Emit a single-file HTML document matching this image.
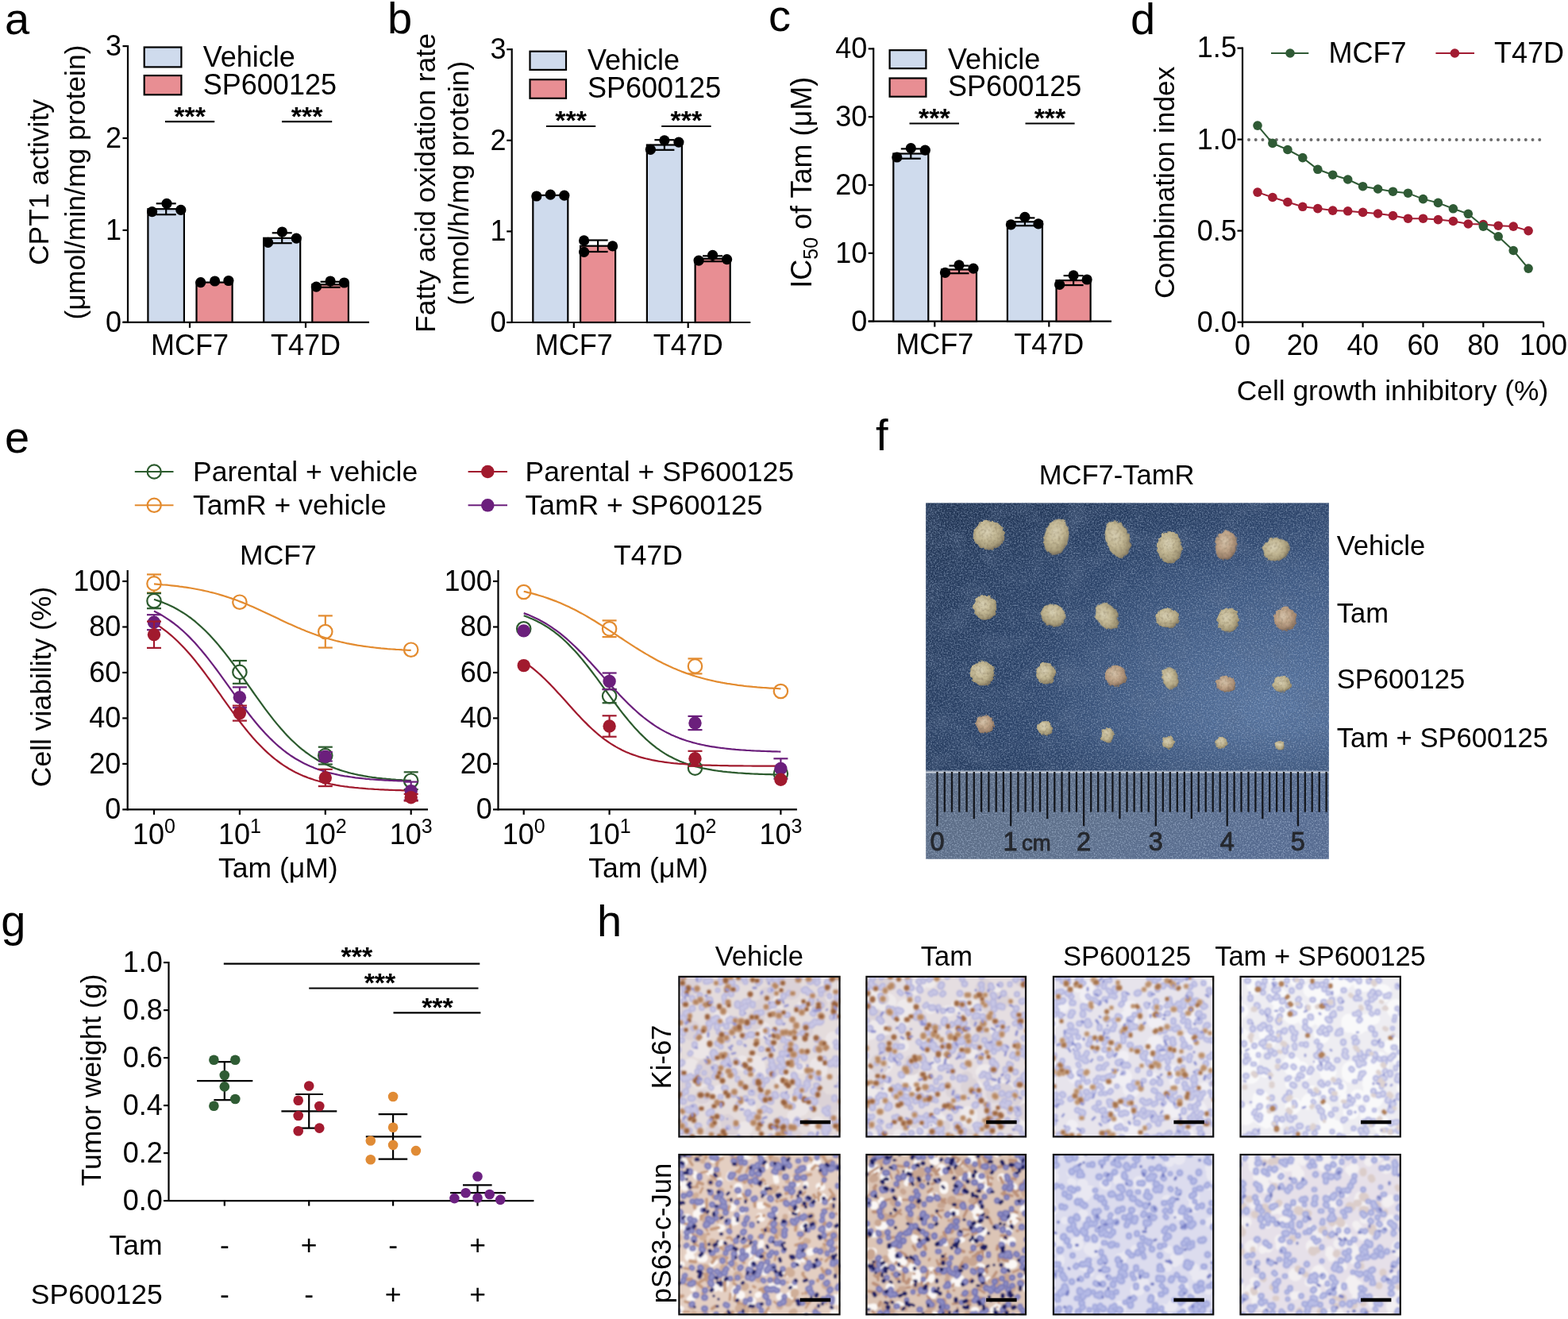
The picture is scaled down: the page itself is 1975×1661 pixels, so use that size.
<!DOCTYPE html>
<html><head><meta charset="utf-8"><title>Figure</title>
<style>html,body{margin:0;padding:0;background:#fff;} svg{display:block;} text{font-family:"Liberation Sans", Arial, Helvetica, sans-serif;}</style>
</head><body>
<svg width="1975" height="1661" viewBox="0 0 1975 1661" font-family='"Liberation Sans", Arial, Helvetica, sans-serif'>
<rect width="1975" height="1661" fill="#fff"/>
<text x="6" y="42.8" font-size="56" text-anchor="start" fill="#000">a</text>
<line x1="161" y1="57" x2="161" y2="406.8" stroke="#000" stroke-width="2.2"/>
<line x1="154.5" y1="405.8" x2="161" y2="405.8" stroke="#000" stroke-width="2.2"/>
<text x="153" y="417.7" font-size="36" text-anchor="end" fill="#000">0</text>
<line x1="154.5" y1="289.9" x2="161" y2="289.9" stroke="#000" stroke-width="2.2"/>
<text x="153" y="301.8" font-size="36" text-anchor="end" fill="#000">1</text>
<line x1="154.5" y1="174" x2="161" y2="174" stroke="#000" stroke-width="2.2"/>
<text x="153" y="185.9" font-size="36" text-anchor="end" fill="#000">2</text>
<line x1="154.5" y1="58.1" x2="161" y2="58.1" stroke="#000" stroke-width="2.2"/>
<text x="153" y="70" font-size="36" text-anchor="end" fill="#000">3</text>
<line x1="154.5" y1="405.8" x2="465" y2="405.8" stroke="#000" stroke-width="2.2"/>
<line x1="239" y1="405.8" x2="239" y2="412.8" stroke="#000" stroke-width="2.2"/>
<text x="239" y="446.5" font-size="36" text-anchor="middle" fill="#000">MCF7</text>
<line x1="385" y1="405.8" x2="385" y2="412.8" stroke="#000" stroke-width="2.2"/>
<text x="385" y="446.5" font-size="36" text-anchor="middle" fill="#000">T47D</text>
<rect x="186.4" y="263.2" width="45.5" height="142.6" fill="#cfdbed" stroke="#000" stroke-width="2.2"/>
<line x1="209.2" y1="256.3" x2="209.2" y2="270.2" stroke="#000" stroke-width="2.2"/>
<line x1="196.7" y1="256.3" x2="221.7" y2="256.3" stroke="#000" stroke-width="2.2"/>
<line x1="196.7" y1="270.2" x2="221.7" y2="270.2" stroke="#000" stroke-width="2.2"/>
<circle cx="191.6" cy="266.7" r="6.6" fill="#000" stroke="none" stroke-width="0"/>
<circle cx="210" cy="256.3" r="6.6" fill="#000" stroke="none" stroke-width="0"/>
<circle cx="227.8" cy="264.4" r="6.6" fill="#000" stroke="none" stroke-width="0"/>
<rect x="247.5" y="355.6" width="45.1" height="50.2" fill="#e88e93" stroke="#000" stroke-width="2.2"/>
<circle cx="252.7" cy="355.6" r="6.6" fill="#000" stroke="none" stroke-width="0"/>
<circle cx="270.6" cy="354" r="6.6" fill="#000" stroke="none" stroke-width="0"/>
<circle cx="287.9" cy="353.5" r="6.6" fill="#000" stroke="none" stroke-width="0"/>
<rect x="332.2" y="299.8" width="46" height="106" fill="#cfdbed" stroke="#000" stroke-width="2.2"/>
<line x1="355.2" y1="293.3" x2="355.2" y2="306.2" stroke="#000" stroke-width="2.2"/>
<line x1="342.7" y1="293.3" x2="367.7" y2="293.3" stroke="#000" stroke-width="2.2"/>
<line x1="342.7" y1="306.2" x2="367.7" y2="306.2" stroke="#000" stroke-width="2.2"/>
<circle cx="337.6" cy="305.3" r="6.6" fill="#000" stroke="none" stroke-width="0"/>
<circle cx="355.4" cy="292" r="6.6" fill="#000" stroke="none" stroke-width="0"/>
<circle cx="373.3" cy="300.1" r="6.6" fill="#000" stroke="none" stroke-width="0"/>
<rect x="393.3" y="358.3" width="45.6" height="47.5" fill="#e88e93" stroke="#000" stroke-width="2.2"/>
<line x1="416.1" y1="354.8" x2="416.1" y2="361.8" stroke="#000" stroke-width="2.2"/>
<line x1="403.6" y1="354.8" x2="428.6" y2="354.8" stroke="#000" stroke-width="2.2"/>
<line x1="403.6" y1="361.8" x2="428.6" y2="361.8" stroke="#000" stroke-width="2.2"/>
<circle cx="398.4" cy="361.2" r="6.6" fill="#000" stroke="none" stroke-width="0"/>
<circle cx="416.1" cy="354" r="6.6" fill="#000" stroke="none" stroke-width="0"/>
<circle cx="433.5" cy="356" r="6.6" fill="#000" stroke="none" stroke-width="0"/>
<rect x="181.7" y="59.5" width="46.7" height="24.9" fill="#cfdbed" stroke="#000" stroke-width="2.2"/>
<rect x="181.7" y="95.1" width="46.7" height="24.2" fill="#e88e93" stroke="#000" stroke-width="2.2"/>
<text x="255.8" y="83.8" font-size="36" text-anchor="start" fill="#000">Vehicle</text>
<text x="255.8" y="118.5" font-size="36" text-anchor="start" fill="#000">SP600125</text>
<line x1="208" y1="153.2" x2="270.2" y2="153.2" stroke="#000" stroke-width="2.2"/>
<text x="239.1" y="157.6" font-size="34" text-anchor="middle" fill="#000" font-weight="bold">***</text>
<line x1="355" y1="153.2" x2="418.2" y2="153.2" stroke="#000" stroke-width="2.2"/>
<text x="386.6" y="157.6" font-size="34" text-anchor="middle" fill="#000" font-weight="bold">***</text>
<text transform="translate(60.7,229.5) rotate(-90)" font-size="35.5" text-anchor="middle">CPT1 activity</text>
<text transform="translate(107.2,229.5) rotate(-90)" font-size="35.5" text-anchor="middle">(μmol/min/mg protein)</text>
<text x="488" y="41.9" font-size="56" text-anchor="start" fill="#000">b</text>
<line x1="644.7" y1="61.1" x2="644.7" y2="407" stroke="#000" stroke-width="2.2"/>
<line x1="638.2" y1="406" x2="644.7" y2="406" stroke="#000" stroke-width="2.2"/>
<text x="637.5" y="417.9" font-size="36" text-anchor="end" fill="#000">0</text>
<line x1="638.2" y1="291.4" x2="644.7" y2="291.4" stroke="#000" stroke-width="2.2"/>
<text x="637.5" y="303.3" font-size="36" text-anchor="end" fill="#000">1</text>
<line x1="638.2" y1="176.8" x2="644.7" y2="176.8" stroke="#000" stroke-width="2.2"/>
<text x="637.5" y="188.7" font-size="36" text-anchor="end" fill="#000">2</text>
<line x1="638.2" y1="62.2" x2="644.7" y2="62.2" stroke="#000" stroke-width="2.2"/>
<text x="637.5" y="74.1" font-size="36" text-anchor="end" fill="#000">3</text>
<line x1="638.2" y1="406" x2="945.3" y2="406" stroke="#000" stroke-width="2.2"/>
<line x1="722.8" y1="406" x2="722.8" y2="413" stroke="#000" stroke-width="2.2"/>
<text x="722.8" y="446.5" font-size="36" text-anchor="middle" fill="#000">MCF7</text>
<line x1="866.7" y1="406" x2="866.7" y2="413" stroke="#000" stroke-width="2.2"/>
<text x="866.7" y="446.5" font-size="36" text-anchor="middle" fill="#000">T47D</text>
<rect x="671.3" y="245.9" width="44" height="160.1" fill="#cfdbed" stroke="#000" stroke-width="2.2"/>
<circle cx="675.8" cy="247" r="6.6" fill="#000" stroke="none" stroke-width="0"/>
<circle cx="693.3" cy="245.1" r="6.6" fill="#000" stroke="none" stroke-width="0"/>
<circle cx="710.8" cy="246.2" r="6.6" fill="#000" stroke="none" stroke-width="0"/>
<rect x="731.1" y="309.7" width="44" height="96.3" fill="#e88e93" stroke="#000" stroke-width="2.2"/>
<line x1="753.1" y1="302.5" x2="753.1" y2="317" stroke="#000" stroke-width="2.2"/>
<line x1="740.6" y1="302.5" x2="765.6" y2="302.5" stroke="#000" stroke-width="2.2"/>
<line x1="740.6" y1="317" x2="765.6" y2="317" stroke="#000" stroke-width="2.2"/>
<circle cx="735.6" cy="302.9" r="6.6" fill="#000" stroke="none" stroke-width="0"/>
<circle cx="735.6" cy="317.3" r="6.6" fill="#000" stroke="none" stroke-width="0"/>
<circle cx="771.6" cy="309.9" r="6.6" fill="#000" stroke="none" stroke-width="0"/>
<rect x="814.9" y="182.5" width="44" height="223.5" fill="#cfdbed" stroke="#000" stroke-width="2.2"/>
<line x1="836.9" y1="176.2" x2="836.9" y2="188.8" stroke="#000" stroke-width="2.2"/>
<line x1="824.4" y1="176.2" x2="849.4" y2="176.2" stroke="#000" stroke-width="2.2"/>
<line x1="824.4" y1="188.8" x2="849.4" y2="188.8" stroke="#000" stroke-width="2.2"/>
<circle cx="819.4" cy="188.3" r="6.6" fill="#000" stroke="none" stroke-width="0"/>
<circle cx="836.9" cy="176.8" r="6.6" fill="#000" stroke="none" stroke-width="0"/>
<circle cx="854.9" cy="179.1" r="6.6" fill="#000" stroke="none" stroke-width="0"/>
<rect x="875.6" y="325.8" width="44.1" height="80.2" fill="#e88e93" stroke="#000" stroke-width="2.2"/>
<line x1="897.6" y1="322.3" x2="897.6" y2="329.2" stroke="#000" stroke-width="2.2"/>
<line x1="885.1" y1="322.3" x2="910.1" y2="322.3" stroke="#000" stroke-width="2.2"/>
<line x1="885.1" y1="329.2" x2="910.1" y2="329.2" stroke="#000" stroke-width="2.2"/>
<circle cx="880.1" cy="328.1" r="6.6" fill="#000" stroke="none" stroke-width="0"/>
<circle cx="897.6" cy="321.4" r="6.6" fill="#000" stroke="none" stroke-width="0"/>
<circle cx="915.6" cy="326.6" r="6.6" fill="#000" stroke="none" stroke-width="0"/>
<rect x="667.5" y="64.7" width="45.5" height="23.2" fill="#cfdbed" stroke="#000" stroke-width="2.2"/>
<rect x="667.5" y="100.2" width="45.5" height="23.6" fill="#e88e93" stroke="#000" stroke-width="2.2"/>
<text x="740" y="88" font-size="36" text-anchor="start" fill="#000">Vehicle</text>
<text x="740" y="122.8" font-size="36" text-anchor="start" fill="#000">SP600125</text>
<line x1="688" y1="159" x2="750.2" y2="159" stroke="#000" stroke-width="2.2"/>
<text x="719.1" y="163.4" font-size="34" text-anchor="middle" fill="#000" font-weight="bold">***</text>
<line x1="833.2" y1="159" x2="895.6" y2="159" stroke="#000" stroke-width="2.2"/>
<text x="864.4" y="163.4" font-size="34" text-anchor="middle" fill="#000" font-weight="bold">***</text>
<text transform="translate(547.5,230.5) rotate(-90)" font-size="35.5" text-anchor="middle">Fatty acid oxidation rate</text>
<text transform="translate(590.1,230.5) rotate(-90)" font-size="35.5" text-anchor="middle">(nmol/h/mg protein)</text>
<text x="968" y="39" font-size="56" text-anchor="start" fill="#000">c</text>
<line x1="1100.2" y1="60.3" x2="1100.2" y2="405.6" stroke="#000" stroke-width="2.2"/>
<line x1="1093.7" y1="404.6" x2="1100.2" y2="404.6" stroke="#000" stroke-width="2.2"/>
<text x="1092.2" y="416.5" font-size="36" text-anchor="end" fill="#000">0</text>
<line x1="1093.7" y1="318.8" x2="1100.2" y2="318.8" stroke="#000" stroke-width="2.2"/>
<text x="1092.2" y="330.7" font-size="36" text-anchor="end" fill="#000">10</text>
<line x1="1093.7" y1="233" x2="1100.2" y2="233" stroke="#000" stroke-width="2.2"/>
<text x="1092.2" y="244.9" font-size="36" text-anchor="end" fill="#000">20</text>
<line x1="1093.7" y1="147.2" x2="1100.2" y2="147.2" stroke="#000" stroke-width="2.2"/>
<text x="1092.2" y="159.1" font-size="36" text-anchor="end" fill="#000">30</text>
<line x1="1093.7" y1="61.4" x2="1100.2" y2="61.4" stroke="#000" stroke-width="2.2"/>
<text x="1092.2" y="73.3" font-size="36" text-anchor="end" fill="#000">40</text>
<line x1="1093.7" y1="404.6" x2="1400" y2="404.6" stroke="#000" stroke-width="2.2"/>
<line x1="1177.3" y1="404.6" x2="1177.3" y2="411.6" stroke="#000" stroke-width="2.2"/>
<text x="1177.3" y="446" font-size="36" text-anchor="middle" fill="#000">MCF7</text>
<line x1="1321.3" y1="404.6" x2="1321.3" y2="411.6" stroke="#000" stroke-width="2.2"/>
<text x="1321.3" y="446" font-size="36" text-anchor="middle" fill="#000">T47D</text>
<rect x="1125.3" y="193.5" width="44" height="211.1" fill="#cfdbed" stroke="#000" stroke-width="2.2"/>
<line x1="1147.3" y1="187.4" x2="1147.3" y2="199.7" stroke="#000" stroke-width="2.2"/>
<line x1="1134.8" y1="187.4" x2="1159.8" y2="187.4" stroke="#000" stroke-width="2.2"/>
<line x1="1134.8" y1="199.7" x2="1159.8" y2="199.7" stroke="#000" stroke-width="2.2"/>
<circle cx="1129.8" cy="198" r="6.6" fill="#000" stroke="none" stroke-width="0"/>
<circle cx="1147.3" cy="186.7" r="6.6" fill="#000" stroke="none" stroke-width="0"/>
<circle cx="1165.3" cy="189.2" r="6.6" fill="#000" stroke="none" stroke-width="0"/>
<rect x="1186" y="339.4" width="44" height="65.2" fill="#e88e93" stroke="#000" stroke-width="2.2"/>
<line x1="1208" y1="334.6" x2="1208" y2="344.2" stroke="#000" stroke-width="2.2"/>
<line x1="1195.5" y1="334.6" x2="1220.5" y2="334.6" stroke="#000" stroke-width="2.2"/>
<line x1="1195.5" y1="344.2" x2="1220.5" y2="344.2" stroke="#000" stroke-width="2.2"/>
<circle cx="1190.5" cy="343.4" r="6.6" fill="#000" stroke="none" stroke-width="0"/>
<circle cx="1208" cy="333.8" r="6.6" fill="#000" stroke="none" stroke-width="0"/>
<circle cx="1226" cy="338.2" r="6.6" fill="#000" stroke="none" stroke-width="0"/>
<rect x="1268.9" y="279.3" width="44" height="125.3" fill="#cfdbed" stroke="#000" stroke-width="2.2"/>
<line x1="1290.9" y1="274.4" x2="1290.9" y2="284.2" stroke="#000" stroke-width="2.2"/>
<line x1="1278.4" y1="274.4" x2="1303.4" y2="274.4" stroke="#000" stroke-width="2.2"/>
<line x1="1278.4" y1="284.2" x2="1303.4" y2="284.2" stroke="#000" stroke-width="2.2"/>
<circle cx="1273.4" cy="282.8" r="6.6" fill="#000" stroke="none" stroke-width="0"/>
<circle cx="1290.9" cy="273.3" r="6.6" fill="#000" stroke="none" stroke-width="0"/>
<circle cx="1307.9" cy="281.9" r="6.6" fill="#000" stroke="none" stroke-width="0"/>
<rect x="1330.5" y="353.1" width="43.1" height="51.5" fill="#e88e93" stroke="#000" stroke-width="2.2"/>
<line x1="1352.1" y1="347.1" x2="1352.1" y2="359.1" stroke="#000" stroke-width="2.2"/>
<line x1="1339.6" y1="347.1" x2="1364.6" y2="347.1" stroke="#000" stroke-width="2.2"/>
<line x1="1339.6" y1="359.1" x2="1364.6" y2="359.1" stroke="#000" stroke-width="2.2"/>
<circle cx="1334.6" cy="358.4" r="6.6" fill="#000" stroke="none" stroke-width="0"/>
<circle cx="1352.1" cy="346.8" r="6.6" fill="#000" stroke="none" stroke-width="0"/>
<circle cx="1369.1" cy="352" r="6.6" fill="#000" stroke="none" stroke-width="0"/>
<rect x="1120.6" y="63.2" width="45.8" height="23" fill="#cfdbed" stroke="#000" stroke-width="2.2"/>
<rect x="1120.6" y="98.5" width="45.8" height="23.2" fill="#e88e93" stroke="#000" stroke-width="2.2"/>
<text x="1194.1" y="86.7" font-size="36" text-anchor="start" fill="#000">Vehicle</text>
<text x="1194.1" y="121.4" font-size="36" text-anchor="start" fill="#000">SP600125</text>
<line x1="1145.5" y1="155.5" x2="1208" y2="155.5" stroke="#000" stroke-width="2.2"/>
<text x="1176.8" y="159.9" font-size="34" text-anchor="middle" fill="#000" font-weight="bold">***</text>
<line x1="1291.5" y1="155.5" x2="1353.6" y2="155.5" stroke="#000" stroke-width="2.2"/>
<text x="1322.5" y="159.9" font-size="34" text-anchor="middle" fill="#000" font-weight="bold">***</text>
<text transform="translate(1022,229.8) rotate(-90)" font-size="36" text-anchor="middle">IC<tspan font-size="25" dy="8">50</tspan><tspan dy="-8"> of Tam (μM)</tspan></text>
<text x="1424" y="43" font-size="56" text-anchor="start" fill="#000">d</text>
<line x1="1565" y1="59.5" x2="1565" y2="406.7" stroke="#000" stroke-width="2.2"/>
<line x1="1558.5" y1="405.7" x2="1565" y2="405.7" stroke="#000" stroke-width="2.2"/>
<text x="1557.8" y="417.6" font-size="36" text-anchor="end" fill="#000">0.0</text>
<line x1="1558.5" y1="290.6" x2="1565" y2="290.6" stroke="#000" stroke-width="2.2"/>
<text x="1557.8" y="302.5" font-size="36" text-anchor="end" fill="#000">0.5</text>
<line x1="1558.5" y1="175.6" x2="1565" y2="175.6" stroke="#000" stroke-width="2.2"/>
<text x="1557.8" y="187.5" font-size="36" text-anchor="end" fill="#000">1.0</text>
<line x1="1558.5" y1="60.6" x2="1565" y2="60.6" stroke="#000" stroke-width="2.2"/>
<text x="1557.8" y="72.4" font-size="36" text-anchor="end" fill="#000">1.5</text>
<line x1="1565" y1="405.7" x2="1944.5" y2="405.7" stroke="#000" stroke-width="2.2"/>
<line x1="1565" y1="405.7" x2="1565" y2="412.2" stroke="#000" stroke-width="2.2"/>
<text x="1565" y="446.7" font-size="36" text-anchor="middle" fill="#000">0</text>
<line x1="1640.8" y1="405.7" x2="1640.8" y2="412.2" stroke="#000" stroke-width="2.2"/>
<text x="1640.8" y="446.7" font-size="36" text-anchor="middle" fill="#000">20</text>
<line x1="1716.6" y1="405.7" x2="1716.6" y2="412.2" stroke="#000" stroke-width="2.2"/>
<text x="1716.6" y="446.7" font-size="36" text-anchor="middle" fill="#000">40</text>
<line x1="1792.5" y1="405.7" x2="1792.5" y2="412.2" stroke="#000" stroke-width="2.2"/>
<text x="1792.5" y="446.7" font-size="36" text-anchor="middle" fill="#000">60</text>
<line x1="1868.3" y1="405.7" x2="1868.3" y2="412.2" stroke="#000" stroke-width="2.2"/>
<text x="1868.3" y="446.7" font-size="36" text-anchor="middle" fill="#000">80</text>
<line x1="1944.1" y1="405.7" x2="1944.1" y2="412.2" stroke="#000" stroke-width="2.2"/>
<text x="1944.1" y="446.7" font-size="36" text-anchor="middle" fill="#000">100</text>
<text x="1754" y="504" font-size="35.3" text-anchor="middle" fill="#000">Cell growth inhibitory (%)</text>
<text transform="translate(1478.6,229.8) rotate(-90)" font-size="35.3" text-anchor="middle">Combination index</text>
<line x1="1573" y1="176" x2="1942" y2="176" stroke="#6b6b6b" stroke-width="4" stroke-dasharray="0 8.72" stroke-linecap="round"/>
<polyline points="1584,242.1 1602.9,248.5 1621.9,254.5 1640.8,260.3 1659.8,262.6 1678.7,265.1 1697.7,265.8 1716.6,267.4 1735.6,269 1754.5,271.6 1773.5,275.2 1792.5,275.2 1811.4,276.6 1830.4,278.5 1849.3,282 1868.3,282.6 1887.2,284.2 1906.2,285.1 1925.1,290.6" fill="none" stroke="#a21c32" stroke-width="2"/>
<circle cx="1584" cy="242.1" r="5.8" fill="#a21c32" stroke="none" stroke-width="0"/>
<circle cx="1602.9" cy="248.5" r="5.8" fill="#a21c32" stroke="none" stroke-width="0"/>
<circle cx="1621.9" cy="254.5" r="5.8" fill="#a21c32" stroke="none" stroke-width="0"/>
<circle cx="1640.8" cy="260.3" r="5.8" fill="#a21c32" stroke="none" stroke-width="0"/>
<circle cx="1659.8" cy="262.6" r="5.8" fill="#a21c32" stroke="none" stroke-width="0"/>
<circle cx="1678.7" cy="265.1" r="5.8" fill="#a21c32" stroke="none" stroke-width="0"/>
<circle cx="1697.7" cy="265.8" r="5.8" fill="#a21c32" stroke="none" stroke-width="0"/>
<circle cx="1716.6" cy="267.4" r="5.8" fill="#a21c32" stroke="none" stroke-width="0"/>
<circle cx="1735.6" cy="269" r="5.8" fill="#a21c32" stroke="none" stroke-width="0"/>
<circle cx="1754.5" cy="271.6" r="5.8" fill="#a21c32" stroke="none" stroke-width="0"/>
<circle cx="1773.5" cy="275.2" r="5.8" fill="#a21c32" stroke="none" stroke-width="0"/>
<circle cx="1792.5" cy="275.2" r="5.8" fill="#a21c32" stroke="none" stroke-width="0"/>
<circle cx="1811.4" cy="276.6" r="5.8" fill="#a21c32" stroke="none" stroke-width="0"/>
<circle cx="1830.4" cy="278.5" r="5.8" fill="#a21c32" stroke="none" stroke-width="0"/>
<circle cx="1849.3" cy="282" r="5.8" fill="#a21c32" stroke="none" stroke-width="0"/>
<circle cx="1868.3" cy="282.6" r="5.8" fill="#a21c32" stroke="none" stroke-width="0"/>
<circle cx="1887.2" cy="284.2" r="5.8" fill="#a21c32" stroke="none" stroke-width="0"/>
<circle cx="1906.2" cy="285.1" r="5.8" fill="#a21c32" stroke="none" stroke-width="0"/>
<circle cx="1925.1" cy="290.6" r="5.8" fill="#a21c32" stroke="none" stroke-width="0"/>
<polyline points="1584,158.1 1602.9,180.4 1621.9,188.5 1640.8,198.6 1659.8,213.3 1678.7,220.2 1697.7,226 1716.6,234.7 1735.6,238 1754.5,241.2 1773.5,243.2 1792.5,250.6 1811.4,255.4 1830.4,262.8 1849.3,269.3 1868.3,285.1 1887.2,297.8 1906.2,315.5 1925.1,338.1" fill="none" stroke="#2f5a35" stroke-width="2"/>
<circle cx="1584" cy="158.1" r="5.8" fill="#2f5a35" stroke="none" stroke-width="0"/>
<circle cx="1602.9" cy="180.4" r="5.8" fill="#2f5a35" stroke="none" stroke-width="0"/>
<circle cx="1621.9" cy="188.5" r="5.8" fill="#2f5a35" stroke="none" stroke-width="0"/>
<circle cx="1640.8" cy="198.6" r="5.8" fill="#2f5a35" stroke="none" stroke-width="0"/>
<circle cx="1659.8" cy="213.3" r="5.8" fill="#2f5a35" stroke="none" stroke-width="0"/>
<circle cx="1678.7" cy="220.2" r="5.8" fill="#2f5a35" stroke="none" stroke-width="0"/>
<circle cx="1697.7" cy="226" r="5.8" fill="#2f5a35" stroke="none" stroke-width="0"/>
<circle cx="1716.6" cy="234.7" r="5.8" fill="#2f5a35" stroke="none" stroke-width="0"/>
<circle cx="1735.6" cy="238" r="5.8" fill="#2f5a35" stroke="none" stroke-width="0"/>
<circle cx="1754.5" cy="241.2" r="5.8" fill="#2f5a35" stroke="none" stroke-width="0"/>
<circle cx="1773.5" cy="243.2" r="5.8" fill="#2f5a35" stroke="none" stroke-width="0"/>
<circle cx="1792.5" cy="250.6" r="5.8" fill="#2f5a35" stroke="none" stroke-width="0"/>
<circle cx="1811.4" cy="255.4" r="5.8" fill="#2f5a35" stroke="none" stroke-width="0"/>
<circle cx="1830.4" cy="262.8" r="5.8" fill="#2f5a35" stroke="none" stroke-width="0"/>
<circle cx="1849.3" cy="269.3" r="5.8" fill="#2f5a35" stroke="none" stroke-width="0"/>
<circle cx="1868.3" cy="285.1" r="5.8" fill="#2f5a35" stroke="none" stroke-width="0"/>
<circle cx="1887.2" cy="297.8" r="5.8" fill="#2f5a35" stroke="none" stroke-width="0"/>
<circle cx="1906.2" cy="315.5" r="5.8" fill="#2f5a35" stroke="none" stroke-width="0"/>
<circle cx="1925.1" cy="338.1" r="5.8" fill="#2f5a35" stroke="none" stroke-width="0"/>
<line x1="1601" y1="67" x2="1648.3" y2="67" stroke="#2f5a35" stroke-width="2"/>
<circle cx="1625" cy="67" r="5.8" fill="#2f5a35" stroke="none" stroke-width="0"/>
<text x="1673.6" y="79" font-size="36" text-anchor="start" fill="#000">MCF7</text>
<line x1="1808.4" y1="67" x2="1857" y2="67" stroke="#a21c32" stroke-width="2"/>
<circle cx="1832.4" cy="67" r="5.8" fill="#a21c32" stroke="none" stroke-width="0"/>
<text x="1882" y="79" font-size="36" text-anchor="start" fill="#000">T47D</text>
<text x="6" y="570.3" font-size="56" text-anchor="start" fill="#000">e</text>
<line x1="169.8" y1="594" x2="218.5" y2="594" stroke="#2c5b2e" stroke-width="2"/>
<circle cx="194.2" cy="594" r="8.6" fill="none" stroke="#2c5b2e" stroke-width="2.2"/>
<text x="243" y="605.6" font-size="35.5" text-anchor="start" fill="#000">Parental + vehicle</text>
<line x1="169.8" y1="636.3" x2="218.5" y2="636.3" stroke="#e38b2f" stroke-width="2"/>
<circle cx="194.2" cy="636.3" r="8.6" fill="none" stroke="#e38b2f" stroke-width="2.2"/>
<text x="243" y="648.2" font-size="35.5" text-anchor="start" fill="#000">TamR + vehicle</text>
<line x1="589.6" y1="594" x2="639" y2="594" stroke="#a11a2e" stroke-width="2"/>
<circle cx="614.3" cy="594" r="8.3" fill="#a11a2e" stroke="none" stroke-width="0"/>
<text x="661.5" y="605.6" font-size="35.5" text-anchor="start" fill="#000">Parental + SP600125</text>
<line x1="589.6" y1="636.3" x2="639" y2="636.3" stroke="#6b1f7c" stroke-width="2"/>
<circle cx="614.3" cy="636.3" r="8.3" fill="#6b1f7c" stroke="none" stroke-width="0"/>
<text x="661.5" y="648.2" font-size="35.5" text-anchor="start" fill="#000">TamR + SP600125</text>
<line x1="160.7" y1="718" x2="160.7" y2="1020.4" stroke="#000" stroke-width="2.2"/>
<line x1="154.2" y1="1019.4" x2="160.7" y2="1019.4" stroke="#000" stroke-width="2.2"/>
<text x="152.4" y="1031.3" font-size="36" text-anchor="end" fill="#000">0</text>
<line x1="154.2" y1="961.9" x2="160.7" y2="961.9" stroke="#000" stroke-width="2.2"/>
<text x="152.4" y="973.8" font-size="36" text-anchor="end" fill="#000">20</text>
<line x1="154.2" y1="904.4" x2="160.7" y2="904.4" stroke="#000" stroke-width="2.2"/>
<text x="152.4" y="916.3" font-size="36" text-anchor="end" fill="#000">40</text>
<line x1="154.2" y1="847" x2="160.7" y2="847" stroke="#000" stroke-width="2.2"/>
<text x="152.4" y="858.8" font-size="36" text-anchor="end" fill="#000">60</text>
<line x1="154.2" y1="789.5" x2="160.7" y2="789.5" stroke="#000" stroke-width="2.2"/>
<text x="152.4" y="801.4" font-size="36" text-anchor="end" fill="#000">80</text>
<line x1="154.2" y1="732" x2="160.7" y2="732" stroke="#000" stroke-width="2.2"/>
<text x="152.4" y="743.9" font-size="36" text-anchor="end" fill="#000">100</text>
<line x1="160.7" y1="1019.4" x2="539" y2="1019.4" stroke="#000" stroke-width="2.2"/>
<line x1="194" y1="1019.4" x2="194" y2="1025.9" stroke="#000" stroke-width="2.2"/>
<text x="194" y="1063.2" font-size="36" text-anchor="middle">10<tspan font-size="25" dy="-14">0</tspan></text>
<line x1="301.9" y1="1019.4" x2="301.9" y2="1025.9" stroke="#000" stroke-width="2.2"/>
<text x="301.9" y="1063.2" font-size="36" text-anchor="middle">10<tspan font-size="25" dy="-14">1</tspan></text>
<line x1="409.8" y1="1019.4" x2="409.8" y2="1025.9" stroke="#000" stroke-width="2.2"/>
<text x="409.8" y="1063.2" font-size="36" text-anchor="middle">10<tspan font-size="25" dy="-14">2</tspan></text>
<line x1="517.7" y1="1019.4" x2="517.7" y2="1025.9" stroke="#000" stroke-width="2.2"/>
<text x="517.7" y="1063.2" font-size="36" text-anchor="middle">10<tspan font-size="25" dy="-14">3</tspan></text>
<text x="350.4" y="1104.9" font-size="35.5" text-anchor="middle" fill="#000">Tam (μM)</text>
<text x="350.4" y="711.4" font-size="35.5" text-anchor="middle" fill="#000">MCF7</text>
<polyline points="194,735.4 196.7,735.6 199.4,735.8 202.1,736 204.8,736.3 207.5,736.5 210.2,736.7 212.9,737 215.6,737.3 218.3,737.6 221,737.9 223.7,738.2 226.4,738.6 229.1,738.9 231.8,739.3 234.5,739.7 237.2,740.1 239.9,740.5 242.6,741 245.3,741.5 247.9,742 250.6,742.5 253.3,743 256,743.6 258.7,744.2 261.4,744.8 264.1,745.5 266.8,746.1 269.5,746.8 272.2,747.5 274.9,748.3 277.6,749.1 280.3,749.9 283,750.7 285.7,751.6 288.4,752.5 291.1,753.4 293.8,754.4 296.5,755.3 299.2,756.3 301.9,757.4 304.6,758.4 307.3,759.5 310,760.6 312.7,761.7 315.4,762.9 318.1,764.1 320.8,765.3 323.5,766.5 326.2,767.7 328.9,768.9 331.6,770.2 334.3,771.4 337,772.7 339.7,774 342.4,775.3 345.1,776.5 347.8,777.8 350.5,779.1 353.2,780.4 355.9,781.7 358.5,782.9 361.2,784.2 363.9,785.4 366.6,786.6 369.3,787.8 372,789 374.7,790.2 377.4,791.3 380.1,792.5 382.8,793.6 385.5,794.7 388.2,795.7 390.9,796.8 393.6,797.8 396.3,798.7 399,799.7 401.7,800.6 404.4,801.5 407.1,802.4 409.8,803.2 412.5,804 415.2,804.8 417.9,805.5 420.6,806.3 423.3,807 426,807.6 428.7,808.3 431.4,808.9 434.1,809.5 436.8,810.1 439.5,810.6 442.2,811.1 444.9,811.6 447.6,812.1 450.3,812.6 453,813 455.7,813.4 458.4,813.8 461.1,814.2 463.8,814.5 466.4,814.9 469.1,815.2 471.8,815.5 474.5,815.8 477.2,816.1 479.9,816.4 482.6,816.6 485.3,816.8 488,817.1 490.7,817.3 493.4,817.5 496.1,817.7 498.8,817.9 501.5,818 504.2,818.2 506.9,818.4 509.6,818.5 512.3,818.7 515,818.8 517.7,818.9" fill="none" stroke="#e38b2f" stroke-width="2.2"/>
<polyline points="194,754.8 196.7,755.7 199.4,756.6 202.1,757.6 204.8,758.6 207.5,759.7 210.2,760.8 212.9,762 215.6,763.3 218.3,764.6 221,766 223.7,767.5 226.4,769.1 229.1,770.7 231.8,772.4 234.5,774.2 237.2,776.1 239.9,778 242.6,780.1 245.3,782.2 247.9,784.5 250.6,786.8 253.3,789.2 256,791.7 258.7,794.3 261.4,797 264.1,799.8 266.8,802.7 269.5,805.7 272.2,808.8 274.9,811.9 277.6,815.2 280.3,818.5 283,821.9 285.7,825.3 288.4,828.9 291.1,832.5 293.8,836.1 296.5,839.8 299.2,843.6 301.9,847.4 304.6,851.2 307.3,855 310,858.9 312.7,862.8 315.4,866.6 318.1,870.5 320.8,874.3 323.5,878.2 326.2,881.9 328.9,885.7 331.6,889.4 334.3,893.1 337,896.7 339.7,900.2 342.4,903.7 345.1,907.1 347.8,910.4 350.5,913.6 353.2,916.8 355.9,919.8 358.5,922.8 361.2,925.7 363.9,928.5 366.6,931.2 369.3,933.8 372,936.3 374.7,938.7 377.4,941.1 380.1,943.3 382.8,945.4 385.5,947.5 388.2,949.4 390.9,951.3 393.6,953.1 396.3,954.8 399,956.5 401.7,958 404.4,959.5 407.1,960.9 409.8,962.2 412.5,963.5 415.2,964.7 417.9,965.9 420.6,966.9 423.3,968 426,968.9 428.7,969.9 431.4,970.7 434.1,971.5 436.8,972.3 439.5,973.1 442.2,973.8 444.9,974.4 447.6,975 450.3,975.6 453,976.2 455.7,976.7 458.4,977.2 461.1,977.6 463.8,978.1 466.4,978.5 469.1,978.9 471.8,979.2 474.5,979.6 477.2,979.9 479.9,980.2 482.6,980.5 485.3,980.7 488,981 490.7,981.2 493.4,981.5 496.1,981.7 498.8,981.9 501.5,982 504.2,982.2 506.9,982.4 509.6,982.5 512.3,982.7 515,982.8 517.7,982.9" fill="none" stroke="#2c5b2e" stroke-width="2.2"/>
<polyline points="194,769.6 196.7,770.9 199.4,772.3 202.1,773.8 204.8,775.4 207.5,777.1 210.2,778.8 212.9,780.6 215.6,782.5 218.3,784.5 221,786.6 223.7,788.7 226.4,791 229.1,793.3 231.8,795.8 234.5,798.3 237.2,800.9 239.9,803.6 242.6,806.4 245.3,809.3 247.9,812.3 250.6,815.4 253.3,818.5 256,821.7 258.7,825 261.4,828.4 264.1,831.9 266.8,835.4 269.5,838.9 272.2,842.5 274.9,846.2 277.6,849.9 280.3,853.6 283,857.3 285.7,861.1 288.4,864.9 291.1,868.7 293.8,872.4 296.5,876.2 299.2,879.9 301.9,883.6 304.6,887.3 307.3,890.9 310,894.5 312.7,898 315.4,901.5 318.1,904.9 320.8,908.2 323.5,911.5 326.2,914.7 328.9,917.8 331.6,920.8 334.3,923.7 337,926.5 339.7,929.3 342.4,931.9 345.1,934.5 347.8,937 350.5,939.4 353.2,941.6 355.9,943.8 358.5,946 361.2,948 363.9,949.9 366.6,951.8 369.3,953.5 372,955.2 374.7,956.8 377.4,958.3 380.1,959.8 382.8,961.2 385.5,962.5 388.2,963.8 390.9,965 393.6,966.1 396.3,967.2 399,968.2 401.7,969.1 404.4,970 407.1,970.9 409.8,971.7 412.5,972.5 415.2,973.2 417.9,973.9 420.6,974.5 423.3,975.1 426,975.7 428.7,976.3 431.4,976.8 434.1,977.3 436.8,977.7 439.5,978.1 442.2,978.5 444.9,978.9 447.6,979.3 450.3,979.6 453,979.9 455.7,980.2 458.4,980.5 461.1,980.8 463.8,981 466.4,981.3 469.1,981.5 471.8,981.7 474.5,981.9 477.2,982.1 479.9,982.2 482.6,982.4 485.3,982.6 488,982.7 490.7,982.8 493.4,983 496.1,983.1 498.8,983.2 501.5,983.3 504.2,983.4 506.9,983.5 509.6,983.6 512.3,983.7 515,983.7 517.7,983.8" fill="none" stroke="#6b1f7c" stroke-width="2.2"/>
<polyline points="194,784.4 196.7,786.1 199.4,787.8 202.1,789.7 204.8,791.6 207.5,793.6 210.2,795.7 212.9,797.9 215.6,800.2 218.3,802.5 221,805 223.7,807.5 226.4,810.2 229.1,812.9 231.8,815.8 234.5,818.7 237.2,821.7 239.9,824.8 242.6,828 245.3,831.3 247.9,834.6 250.6,838 253.3,841.5 256,845 258.7,848.7 261.4,852.3 264.1,856 266.8,859.7 269.5,863.5 272.2,867.3 274.9,871.1 277.6,874.9 280.3,878.8 283,882.6 285.7,886.4 288.4,890.2 291.1,893.9 293.8,897.6 296.5,901.3 299.2,904.9 301.9,908.5 304.6,912 307.3,915.4 310,918.8 312.7,922.1 315.4,925.3 318.1,928.5 320.8,931.5 323.5,934.5 326.2,937.3 328.9,940.1 331.6,942.8 334.3,945.4 337,947.9 339.7,950.3 342.4,952.6 345.1,954.8 347.8,957 350.5,959 353.2,961 355.9,962.9 358.5,964.6 361.2,966.3 363.9,968 366.6,969.5 369.3,971 372,972.4 374.7,973.7 377.4,975 380.1,976.2 382.8,977.4 385.5,978.4 388.2,979.5 390.9,980.4 393.6,981.3 396.3,982.2 399,983 401.7,983.8 404.4,984.6 407.1,985.2 409.8,985.9 412.5,986.5 415.2,987.1 417.9,987.7 420.6,988.2 423.3,988.7 426,989.1 428.7,989.6 431.4,990 434.1,990.4 436.8,990.7 439.5,991.1 442.2,991.4 444.9,991.7 447.6,992 450.3,992.2 453,992.5 455.7,992.7 458.4,992.9 461.1,993.2 463.8,993.4 466.4,993.5 469.1,993.7 471.8,993.9 474.5,994 477.2,994.2 479.9,994.3 482.6,994.4 485.3,994.6 488,994.7 490.7,994.8 493.4,994.9 496.1,995 498.8,995.1 501.5,995.1 504.2,995.2 506.9,995.3 509.6,995.4 512.3,995.4 515,995.5 517.7,995.5" fill="none" stroke="#a11a2e" stroke-width="2.2"/>
<line x1="194" y1="723.4" x2="194" y2="726.2" stroke="#e38b2f" stroke-width="2.2"/>
<line x1="194" y1="743.6" x2="194" y2="746.4" stroke="#e38b2f" stroke-width="2.2"/>
<line x1="185" y1="723.4" x2="203" y2="723.4" stroke="#e38b2f" stroke-width="2.2"/>
<line x1="185" y1="746.4" x2="203" y2="746.4" stroke="#e38b2f" stroke-width="2.2"/>
<circle cx="194" cy="734.9" r="8.7" fill="none" stroke="#e38b2f" stroke-width="2.2"/>
<circle cx="301.9" cy="758.2" r="8.7" fill="none" stroke="#e38b2f" stroke-width="2.2"/>
<line x1="409.8" y1="775.4" x2="409.8" y2="786.8" stroke="#e38b2f" stroke-width="2.2"/>
<line x1="409.8" y1="804.2" x2="409.8" y2="815.6" stroke="#e38b2f" stroke-width="2.2"/>
<line x1="400.8" y1="775.4" x2="418.8" y2="775.4" stroke="#e38b2f" stroke-width="2.2"/>
<line x1="400.8" y1="815.6" x2="418.8" y2="815.6" stroke="#e38b2f" stroke-width="2.2"/>
<circle cx="409.8" cy="795.5" r="8.7" fill="none" stroke="#e38b2f" stroke-width="2.2"/>
<circle cx="517.7" cy="818.2" r="8.7" fill="none" stroke="#e38b2f" stroke-width="2.2"/>
<line x1="194" y1="747.2" x2="194" y2="748" stroke="#2c5b2e" stroke-width="2.2"/>
<line x1="194" y1="765.4" x2="194" y2="766.2" stroke="#2c5b2e" stroke-width="2.2"/>
<line x1="185" y1="747.2" x2="203" y2="747.2" stroke="#2c5b2e" stroke-width="2.2"/>
<line x1="185" y1="766.2" x2="203" y2="766.2" stroke="#2c5b2e" stroke-width="2.2"/>
<circle cx="194" cy="756.7" r="8.7" fill="none" stroke="#2c5b2e" stroke-width="2.2"/>
<line x1="301.9" y1="832" x2="301.9" y2="837.7" stroke="#2c5b2e" stroke-width="2.2"/>
<line x1="301.9" y1="855.1" x2="301.9" y2="860.8" stroke="#2c5b2e" stroke-width="2.2"/>
<line x1="292.9" y1="832" x2="310.9" y2="832" stroke="#2c5b2e" stroke-width="2.2"/>
<line x1="292.9" y1="860.8" x2="310.9" y2="860.8" stroke="#2c5b2e" stroke-width="2.2"/>
<circle cx="301.9" cy="846.4" r="8.7" fill="none" stroke="#2c5b2e" stroke-width="2.2"/>
<line x1="409.8" y1="940.7" x2="409.8" y2="942.9" stroke="#2c5b2e" stroke-width="2.2"/>
<line x1="409.8" y1="960.3" x2="409.8" y2="962.5" stroke="#2c5b2e" stroke-width="2.2"/>
<line x1="400.8" y1="940.7" x2="418.8" y2="940.7" stroke="#2c5b2e" stroke-width="2.2"/>
<line x1="400.8" y1="962.5" x2="418.8" y2="962.5" stroke="#2c5b2e" stroke-width="2.2"/>
<circle cx="409.8" cy="951.6" r="8.7" fill="none" stroke="#2c5b2e" stroke-width="2.2"/>
<line x1="517.7" y1="972.3" x2="517.7" y2="974.5" stroke="#2c5b2e" stroke-width="2.2"/>
<line x1="517.7" y1="991.9" x2="517.7" y2="994.1" stroke="#2c5b2e" stroke-width="2.2"/>
<line x1="508.7" y1="972.3" x2="526.7" y2="972.3" stroke="#2c5b2e" stroke-width="2.2"/>
<line x1="508.7" y1="994.1" x2="526.7" y2="994.1" stroke="#2c5b2e" stroke-width="2.2"/>
<circle cx="517.7" cy="983.2" r="8.7" fill="none" stroke="#2c5b2e" stroke-width="2.2"/>
<line x1="194" y1="774.2" x2="194" y2="783.7" stroke="#6b1f7c" stroke-width="2.2"/>
<line x1="194" y1="783.7" x2="194" y2="793.2" stroke="#6b1f7c" stroke-width="2.2"/>
<line x1="185" y1="774.2" x2="203" y2="774.2" stroke="#6b1f7c" stroke-width="2.2"/>
<line x1="185" y1="793.2" x2="203" y2="793.2" stroke="#6b1f7c" stroke-width="2.2"/>
<circle cx="194" cy="783.7" r="8.2" fill="#6b1f7c" stroke="none" stroke-width="0"/>
<line x1="301.9" y1="865.4" x2="301.9" y2="878.3" stroke="#6b1f7c" stroke-width="2.2"/>
<line x1="301.9" y1="878.3" x2="301.9" y2="891.2" stroke="#6b1f7c" stroke-width="2.2"/>
<line x1="292.9" y1="865.4" x2="310.9" y2="865.4" stroke="#6b1f7c" stroke-width="2.2"/>
<line x1="292.9" y1="891.2" x2="310.9" y2="891.2" stroke="#6b1f7c" stroke-width="2.2"/>
<circle cx="301.9" cy="878.3" r="8.2" fill="#6b1f7c" stroke="none" stroke-width="0"/>
<line x1="409.8" y1="947" x2="409.8" y2="952.7" stroke="#6b1f7c" stroke-width="2.2"/>
<line x1="409.8" y1="952.7" x2="409.8" y2="958.5" stroke="#6b1f7c" stroke-width="2.2"/>
<line x1="400.8" y1="947" x2="418.8" y2="947" stroke="#6b1f7c" stroke-width="2.2"/>
<line x1="400.8" y1="958.5" x2="418.8" y2="958.5" stroke="#6b1f7c" stroke-width="2.2"/>
<circle cx="409.8" cy="952.7" r="8.2" fill="#6b1f7c" stroke="none" stroke-width="0"/>
<line x1="517.7" y1="984.6" x2="517.7" y2="996.1" stroke="#6b1f7c" stroke-width="2.2"/>
<line x1="517.7" y1="996.1" x2="517.7" y2="1007.6" stroke="#6b1f7c" stroke-width="2.2"/>
<line x1="508.7" y1="984.6" x2="526.7" y2="984.6" stroke="#6b1f7c" stroke-width="2.2"/>
<line x1="508.7" y1="1007.6" x2="526.7" y2="1007.6" stroke="#6b1f7c" stroke-width="2.2"/>
<circle cx="517.7" cy="996.1" r="8.2" fill="#6b1f7c" stroke="none" stroke-width="0"/>
<line x1="194" y1="782.6" x2="194" y2="799.3" stroke="#a11a2e" stroke-width="2.2"/>
<line x1="194" y1="799.3" x2="194" y2="815.9" stroke="#a11a2e" stroke-width="2.2"/>
<line x1="185" y1="782.6" x2="203" y2="782.6" stroke="#a11a2e" stroke-width="2.2"/>
<line x1="185" y1="815.9" x2="203" y2="815.9" stroke="#a11a2e" stroke-width="2.2"/>
<circle cx="194" cy="799.3" r="8.2" fill="#a11a2e" stroke="none" stroke-width="0"/>
<line x1="301.9" y1="888.6" x2="301.9" y2="898.1" stroke="#a11a2e" stroke-width="2.2"/>
<line x1="301.9" y1="898.1" x2="301.9" y2="907.6" stroke="#a11a2e" stroke-width="2.2"/>
<line x1="292.9" y1="888.6" x2="310.9" y2="888.6" stroke="#a11a2e" stroke-width="2.2"/>
<line x1="292.9" y1="907.6" x2="310.9" y2="907.6" stroke="#a11a2e" stroke-width="2.2"/>
<circle cx="301.9" cy="898.1" r="8.2" fill="#a11a2e" stroke="none" stroke-width="0"/>
<line x1="409.8" y1="968.8" x2="409.8" y2="979.5" stroke="#a11a2e" stroke-width="2.2"/>
<line x1="409.8" y1="979.5" x2="409.8" y2="990.1" stroke="#a11a2e" stroke-width="2.2"/>
<line x1="400.8" y1="968.8" x2="418.8" y2="968.8" stroke="#a11a2e" stroke-width="2.2"/>
<line x1="400.8" y1="990.1" x2="418.8" y2="990.1" stroke="#a11a2e" stroke-width="2.2"/>
<circle cx="409.8" cy="979.5" r="8.2" fill="#a11a2e" stroke="none" stroke-width="0"/>
<line x1="517.7" y1="999.9" x2="517.7" y2="1004.2" stroke="#a11a2e" stroke-width="2.2"/>
<line x1="517.7" y1="1004.2" x2="517.7" y2="1008.5" stroke="#a11a2e" stroke-width="2.2"/>
<line x1="508.7" y1="999.9" x2="526.7" y2="999.9" stroke="#a11a2e" stroke-width="2.2"/>
<line x1="508.7" y1="1008.5" x2="526.7" y2="1008.5" stroke="#a11a2e" stroke-width="2.2"/>
<circle cx="517.7" cy="1004.2" r="8.2" fill="#a11a2e" stroke="none" stroke-width="0"/>
<line x1="627.5" y1="718" x2="627.5" y2="1020.4" stroke="#000" stroke-width="2.2"/>
<line x1="621" y1="1019.4" x2="627.5" y2="1019.4" stroke="#000" stroke-width="2.2"/>
<text x="619.7" y="1031.3" font-size="36" text-anchor="end" fill="#000">0</text>
<line x1="621" y1="961.9" x2="627.5" y2="961.9" stroke="#000" stroke-width="2.2"/>
<text x="619.7" y="973.8" font-size="36" text-anchor="end" fill="#000">20</text>
<line x1="621" y1="904.4" x2="627.5" y2="904.4" stroke="#000" stroke-width="2.2"/>
<text x="619.7" y="916.3" font-size="36" text-anchor="end" fill="#000">40</text>
<line x1="621" y1="847" x2="627.5" y2="847" stroke="#000" stroke-width="2.2"/>
<text x="619.7" y="858.8" font-size="36" text-anchor="end" fill="#000">60</text>
<line x1="621" y1="789.5" x2="627.5" y2="789.5" stroke="#000" stroke-width="2.2"/>
<text x="619.7" y="801.4" font-size="36" text-anchor="end" fill="#000">80</text>
<line x1="621" y1="732" x2="627.5" y2="732" stroke="#000" stroke-width="2.2"/>
<text x="619.7" y="743.9" font-size="36" text-anchor="end" fill="#000">100</text>
<line x1="627.5" y1="1019.4" x2="1003.9" y2="1019.4" stroke="#000" stroke-width="2.2"/>
<line x1="659.7" y1="1019.4" x2="659.7" y2="1025.9" stroke="#000" stroke-width="2.2"/>
<text x="659.7" y="1063.2" font-size="36" text-anchor="middle">10<tspan font-size="25" dy="-14">0</tspan></text>
<line x1="767.6" y1="1019.4" x2="767.6" y2="1025.9" stroke="#000" stroke-width="2.2"/>
<text x="767.6" y="1063.2" font-size="36" text-anchor="middle">10<tspan font-size="25" dy="-14">1</tspan></text>
<line x1="875.5" y1="1019.4" x2="875.5" y2="1025.9" stroke="#000" stroke-width="2.2"/>
<text x="875.5" y="1063.2" font-size="36" text-anchor="middle">10<tspan font-size="25" dy="-14">2</tspan></text>
<line x1="983.4" y1="1019.4" x2="983.4" y2="1025.9" stroke="#000" stroke-width="2.2"/>
<text x="983.4" y="1063.2" font-size="36" text-anchor="middle">10<tspan font-size="25" dy="-14">3</tspan></text>
<text x="816.5" y="1104.9" font-size="35.5" text-anchor="middle" fill="#000">Tam (μM)</text>
<text x="816.5" y="711.4" font-size="35.5" text-anchor="middle" fill="#000">T47D</text>
<polyline points="659.7,744.8 662.4,745.4 665.1,746.1 667.8,746.7 670.5,747.4 673.2,748.1 675.9,748.9 678.6,749.7 681.3,750.5 684,751.3 686.7,752.2 689.4,753.1 692.1,754.1 694.8,755.1 697.5,756.1 700.2,757.1 702.9,758.2 705.6,759.3 708.3,760.5 711,761.7 713.7,762.9 716.3,764.1 719,765.4 721.7,766.8 724.4,768.1 727.1,769.5 729.8,771 732.5,772.4 735.2,773.9 737.9,775.4 740.6,777 743.3,778.6 746,780.2 748.7,781.8 751.4,783.5 754.1,785.2 756.8,786.9 759.5,788.6 762.2,790.3 764.9,792.1 767.6,793.9 770.3,795.6 773,797.4 775.7,799.2 778.4,801 781.1,802.8 783.8,804.5 786.5,806.3 789.2,808.1 791.9,809.9 794.6,811.6 797.3,813.3 800,815.1 802.7,816.8 805.4,818.5 808.1,820.1 810.8,821.8 813.5,823.4 816.2,824.9 818.9,826.5 821.6,828 824.2,829.5 826.9,831 829.6,832.4 832.3,833.8 835,835.2 837.7,836.5 840.4,837.8 843.1,839.1 845.8,840.3 848.5,841.5 851.2,842.6 853.9,843.8 856.6,844.8 859.3,845.9 862,846.9 864.7,847.9 867.4,848.8 870.1,849.7 872.8,850.6 875.5,851.5 878.2,852.3 880.9,853 883.6,853.8 886.3,854.5 889,855.2 891.7,855.9 894.4,856.5 897.1,857.1 899.8,857.7 902.5,858.3 905.2,858.8 907.9,859.4 910.6,859.9 913.3,860.3 916,860.8 918.7,861.2 921.4,861.6 924.1,862 926.8,862.4 929.5,862.8 932.1,863.1 934.8,863.4 937.5,863.8 940.2,864.1 942.9,864.3 945.6,864.6 948.3,864.9 951,865.1 953.7,865.4 956.4,865.6 959.1,865.8 961.8,866 964.5,866.2 967.2,866.4 969.9,866.6 972.6,866.7 975.3,866.9 978,867 980.7,867.2 983.4,867.3" fill="none" stroke="#e38b2f" stroke-width="2.2"/>
<polyline points="659.7,775.3 662.4,776.3 665.1,777.3 667.8,778.4 670.5,779.5 673.2,780.7 675.9,782 678.6,783.4 681.3,784.8 684,786.4 686.7,788 689.4,789.6 692.1,791.4 694.8,793.3 697.5,795.2 700.2,797.3 702.9,799.4 705.6,801.7 708.3,804 711,806.5 713.7,809 716.3,811.6 719,814.4 721.7,817.2 724.4,820.1 727.1,823.1 729.8,826.2 732.5,829.4 735.2,832.7 737.9,836.1 740.6,839.5 743.3,843 746,846.5 748.7,850.1 751.4,853.7 754.1,857.4 756.8,861.1 759.5,864.8 762.2,868.5 764.9,872.2 767.6,875.9 770.3,879.6 773,883.3 775.7,886.9 778.4,890.5 781.1,894.1 783.8,897.6 786.5,901 789.2,904.3 791.9,907.6 794.6,910.8 797.3,913.9 800,916.9 802.7,919.8 805.4,922.7 808.1,925.4 810.8,928 813.5,930.6 816.2,933 818.9,935.4 821.6,937.6 824.2,939.7 826.9,941.8 829.6,943.7 832.3,945.6 835,947.4 837.7,949.1 840.4,950.7 843.1,952.2 845.8,953.6 848.5,955 851.2,956.3 853.9,957.5 856.6,958.7 859.3,959.7 862,960.8 864.7,961.7 867.4,962.6 870.1,963.5 872.8,964.3 875.5,965.1 878.2,965.8 880.9,966.4 883.6,967.1 886.3,967.7 889,968.2 891.7,968.7 894.4,969.2 897.1,969.7 899.8,970.1 902.5,970.5 905.2,970.9 907.9,971.2 910.6,971.6 913.3,971.9 916,972.2 918.7,972.4 921.4,972.7 924.1,972.9 926.8,973.1 929.5,973.4 932.1,973.5 934.8,973.7 937.5,973.9 940.2,974.1 942.9,974.2 945.6,974.3 948.3,974.5 951,974.6 953.7,974.7 956.4,974.8 959.1,974.9 961.8,975 964.5,975.1 967.2,975.2 969.9,975.2 972.6,975.3 975.3,975.4 978,975.4 980.7,975.5 983.4,975.5" fill="none" stroke="#2c5b2e" stroke-width="2.2"/>
<polyline points="659.7,772.1 662.4,773.1 665.1,774.1 667.8,775.3 670.5,776.4 673.2,777.7 675.9,779 678.6,780.3 681.3,781.8 684,783.2 686.7,784.8 689.4,786.4 692.1,788.1 694.8,789.9 697.5,791.8 700.2,793.7 702.9,795.7 705.6,797.7 708.3,799.9 711,802.1 713.7,804.4 716.3,806.8 719,809.2 721.7,811.7 724.4,814.3 727.1,816.9 729.8,819.6 732.5,822.3 735.2,825.1 737.9,828 740.6,830.9 743.3,833.8 746,836.8 748.7,839.7 751.4,842.8 754.1,845.8 756.8,848.8 759.5,851.9 762.2,854.9 764.9,858 767.6,861 770.3,864 773,867 775.7,869.9 778.4,872.8 781.1,875.7 783.8,878.5 786.5,881.3 789.2,884 791.9,886.7 794.6,889.3 797.3,891.9 800,894.3 802.7,896.7 805.4,899.1 808.1,901.3 810.8,903.5 813.5,905.6 816.2,907.7 818.9,909.6 821.6,911.5 824.2,913.3 826.9,915.1 829.6,916.8 832.3,918.4 835,919.9 837.7,921.4 840.4,922.8 843.1,924.1 845.8,925.4 848.5,926.6 851.2,927.7 853.9,928.8 856.6,929.9 859.3,930.9 862,931.8 864.7,932.7 867.4,933.5 870.1,934.3 872.8,935.1 875.5,935.8 878.2,936.5 880.9,937.1 883.6,937.7 886.3,938.3 889,938.9 891.7,939.4 894.4,939.9 897.1,940.3 899.8,940.7 902.5,941.1 905.2,941.5 907.9,941.9 910.6,942.2 913.3,942.5 916,942.8 918.7,943.1 921.4,943.4 924.1,943.6 926.8,943.9 929.5,944.1 932.1,944.3 934.8,944.5 937.5,944.7 940.2,944.9 942.9,945 945.6,945.2 948.3,945.3 951,945.5 953.7,945.6 956.4,945.7 959.1,945.8 961.8,945.9 964.5,946 967.2,946.1 969.9,946.2 972.6,946.3 975.3,946.4 978,946.4 980.7,946.5 983.4,946.6" fill="none" stroke="#6b1f7c" stroke-width="2.2"/>
<polyline points="659.7,833.3 662.4,835.1 665.1,837.1 667.8,839.1 670.5,841.2 673.2,843.4 675.9,845.6 678.6,848 681.3,850.4 684,853 686.7,855.5 689.4,858.2 692.1,860.9 694.8,863.7 697.5,866.6 700.2,869.4 702.9,872.4 705.6,875.3 708.3,878.3 711,881.3 713.7,884.3 716.3,887.3 719,890.3 721.7,893.3 724.4,896.3 727.1,899.2 729.8,902.1 732.5,904.9 735.2,907.7 737.9,910.4 740.6,913.1 743.3,915.7 746,918.2 748.7,920.6 751.4,923 754.1,925.3 756.8,927.5 759.5,929.6 762.2,931.6 764.9,933.5 767.6,935.4 770.3,937.1 773,938.8 775.7,940.4 778.4,941.9 781.1,943.3 783.8,944.7 786.5,946 789.2,947.2 791.9,948.3 794.6,949.4 797.3,950.4 800,951.3 802.7,952.2 805.4,953.1 808.1,953.9 810.8,954.6 813.5,955.3 816.2,955.9 818.9,956.5 821.6,957.1 824.2,957.6 826.9,958.1 829.6,958.6 832.3,959 835,959.4 837.7,959.8 840.4,960.2 843.1,960.5 845.8,960.8 848.5,961.1 851.2,961.3 853.9,961.6 856.6,961.8 859.3,962 862,962.2 864.7,962.4 867.4,962.6 870.1,962.7 872.8,962.9 875.5,963 878.2,963.1 880.9,963.3 883.6,963.4 886.3,963.5 889,963.6 891.7,963.6 894.4,963.7 897.1,963.8 899.8,963.9 902.5,963.9 905.2,964 907.9,964.1 910.6,964.1 913.3,964.2 916,964.2 918.7,964.3 921.4,964.3 924.1,964.3 926.8,964.4 929.5,964.4 932.1,964.4 934.8,964.4 937.5,964.5 940.2,964.5 942.9,964.5 945.6,964.5 948.3,964.6 951,964.6 953.7,964.6 956.4,964.6 959.1,964.6 961.8,964.6 964.5,964.6 967.2,964.7 969.9,964.7 972.6,964.7 975.3,964.7 978,964.7 980.7,964.7 983.4,964.7" fill="none" stroke="#a11a2e" stroke-width="2.2"/>
<circle cx="659.7" cy="745.5" r="8.7" fill="none" stroke="#e38b2f" stroke-width="2.2"/>
<line x1="767.6" y1="781.4" x2="767.6" y2="783.1" stroke="#e38b2f" stroke-width="2.2"/>
<line x1="767.6" y1="800.5" x2="767.6" y2="802.1" stroke="#e38b2f" stroke-width="2.2"/>
<line x1="758.6" y1="781.4" x2="776.6" y2="781.4" stroke="#e38b2f" stroke-width="2.2"/>
<line x1="758.6" y1="802.1" x2="776.6" y2="802.1" stroke="#e38b2f" stroke-width="2.2"/>
<circle cx="767.6" cy="791.8" r="8.7" fill="none" stroke="#e38b2f" stroke-width="2.2"/>
<line x1="875.5" y1="829.4" x2="875.5" y2="830.2" stroke="#e38b2f" stroke-width="2.2"/>
<line x1="875.5" y1="847.6" x2="875.5" y2="848.4" stroke="#e38b2f" stroke-width="2.2"/>
<line x1="866.5" y1="829.4" x2="884.5" y2="829.4" stroke="#e38b2f" stroke-width="2.2"/>
<line x1="866.5" y1="848.4" x2="884.5" y2="848.4" stroke="#e38b2f" stroke-width="2.2"/>
<circle cx="875.5" cy="838.9" r="8.7" fill="none" stroke="#e38b2f" stroke-width="2.2"/>
<circle cx="983.4" cy="870.5" r="8.7" fill="none" stroke="#e38b2f" stroke-width="2.2"/>
<circle cx="659.7" cy="791.8" r="8.7" fill="none" stroke="#2c5b2e" stroke-width="2.2"/>
<line x1="758.6" y1="867.9" x2="776.6" y2="867.9" stroke="#2c5b2e" stroke-width="2.2"/>
<line x1="758.6" y1="885.2" x2="776.6" y2="885.2" stroke="#2c5b2e" stroke-width="2.2"/>
<circle cx="767.6" cy="876.6" r="8.7" fill="none" stroke="#2c5b2e" stroke-width="2.2"/>
<circle cx="875.5" cy="967.1" r="8.7" fill="none" stroke="#2c5b2e" stroke-width="2.2"/>
<circle cx="983.4" cy="974.3" r="8.7" fill="none" stroke="#2c5b2e" stroke-width="2.2"/>
<circle cx="659.7" cy="794.4" r="8.2" fill="#6b1f7c" stroke="none" stroke-width="0"/>
<line x1="767.6" y1="847.5" x2="767.6" y2="857.9" stroke="#6b1f7c" stroke-width="2.2"/>
<line x1="767.6" y1="857.9" x2="767.6" y2="868.2" stroke="#6b1f7c" stroke-width="2.2"/>
<line x1="758.6" y1="847.5" x2="776.6" y2="847.5" stroke="#6b1f7c" stroke-width="2.2"/>
<line x1="758.6" y1="868.2" x2="776.6" y2="868.2" stroke="#6b1f7c" stroke-width="2.2"/>
<circle cx="767.6" cy="857.9" r="8.2" fill="#6b1f7c" stroke="none" stroke-width="0"/>
<line x1="875.5" y1="901.9" x2="875.5" y2="910.5" stroke="#6b1f7c" stroke-width="2.2"/>
<line x1="875.5" y1="910.5" x2="875.5" y2="919.1" stroke="#6b1f7c" stroke-width="2.2"/>
<line x1="866.5" y1="901.9" x2="884.5" y2="901.9" stroke="#6b1f7c" stroke-width="2.2"/>
<line x1="866.5" y1="919.1" x2="884.5" y2="919.1" stroke="#6b1f7c" stroke-width="2.2"/>
<circle cx="875.5" cy="910.5" r="8.2" fill="#6b1f7c" stroke="none" stroke-width="0"/>
<line x1="983.4" y1="955.3" x2="983.4" y2="968" stroke="#6b1f7c" stroke-width="2.2"/>
<line x1="983.4" y1="968" x2="983.4" y2="980.6" stroke="#6b1f7c" stroke-width="2.2"/>
<line x1="974.4" y1="955.3" x2="992.4" y2="955.3" stroke="#6b1f7c" stroke-width="2.2"/>
<line x1="974.4" y1="980.6" x2="992.4" y2="980.6" stroke="#6b1f7c" stroke-width="2.2"/>
<circle cx="983.4" cy="968" r="8.2" fill="#6b1f7c" stroke="none" stroke-width="0"/>
<circle cx="659.7" cy="838.1" r="8.2" fill="#a11a2e" stroke="none" stroke-width="0"/>
<line x1="767.6" y1="901.3" x2="767.6" y2="914.5" stroke="#a11a2e" stroke-width="2.2"/>
<line x1="767.6" y1="914.5" x2="767.6" y2="927.7" stroke="#a11a2e" stroke-width="2.2"/>
<line x1="758.6" y1="901.3" x2="776.6" y2="901.3" stroke="#a11a2e" stroke-width="2.2"/>
<line x1="758.6" y1="927.7" x2="776.6" y2="927.7" stroke="#a11a2e" stroke-width="2.2"/>
<circle cx="767.6" cy="914.5" r="8.2" fill="#a11a2e" stroke="none" stroke-width="0"/>
<line x1="875.5" y1="945.8" x2="875.5" y2="955.3" stroke="#a11a2e" stroke-width="2.2"/>
<line x1="875.5" y1="955.3" x2="875.5" y2="964.8" stroke="#a11a2e" stroke-width="2.2"/>
<line x1="866.5" y1="945.8" x2="884.5" y2="945.8" stroke="#a11a2e" stroke-width="2.2"/>
<line x1="866.5" y1="964.8" x2="884.5" y2="964.8" stroke="#a11a2e" stroke-width="2.2"/>
<circle cx="875.5" cy="955.3" r="8.2" fill="#a11a2e" stroke="none" stroke-width="0"/>
<circle cx="983.4" cy="981.8" r="8.2" fill="#a11a2e" stroke="none" stroke-width="0"/>
<text transform="translate(64,865) rotate(-90)" font-size="35.5" text-anchor="middle">Cell viability (%)</text>
<text x="1103" y="567" font-size="56" text-anchor="start" fill="#000">f</text>
<text x="1406.6" y="609.6" font-size="34.6" text-anchor="middle" fill="#000">MCF7-TamR</text>
<defs><filter id="fab" x="0" y="0" width="1" height="1"><feTurbulence type="fractalNoise" baseFrequency="0.55" numOctaves="2" seed="3"/><feColorMatrix type="matrix" values="0 0 0 0 0.50  0 0 0 0 0.62  0 0 0 0 0.80  0 0 0 3.2 -1.45"/></filter><filter id="fabd" x="0" y="0" width="1" height="1"><feTurbulence type="fractalNoise" baseFrequency="0.6" numOctaves="2" seed="11"/><feColorMatrix type="matrix" values="0 0 0 0 0.08  0 0 0 0 0.13  0 0 0 0 0.24  0 0 0 3.2 -1.45"/></filter><filter id="mot" x="0" y="0" width="1" height="1"><feTurbulence type="fractalNoise" baseFrequency="0.03" numOctaves="3" seed="21"/><feColorMatrix type="matrix" values="0 0 0 0 0.1  0 0 0 0 0.15  0 0 0 0 0.26  0 0 0 -2.0 1.1"/></filter><filter id="tblr" x="-30%" y="-30%" width="160%" height="160%"><feTurbulence type="fractalNoise" baseFrequency="0.18" numOctaves="2" seed="5" result="n"/><feDisplacementMap in="SourceGraphic" in2="n" scale="5" xChannelSelector="R" yChannelSelector="G" result="d"/><feTurbulence type="fractalNoise" baseFrequency="0.3" numOctaves="2" seed="9" result="n2"/><feColorMatrix in="n2" type="matrix" values="0 0 0 0 0.25  0 0 0 0 0.2  0 0 0 0 0.12  1.3 0 0 0 -0.55" result="sh"/><feComposite in="sh" in2="d" operator="in" result="shd"/><feMerge result="m"><feMergeNode in="d"/><feMergeNode in="shd"/></feMerge><feGaussianBlur in="m" stdDeviation="0.7"/></filter><radialGradient id="tum" cx="0.42" cy="0.38" r="0.62"><stop offset="0" stop-color="#d8d0b4"/><stop offset="0.5" stop-color="#c4b996"/><stop offset="0.85" stop-color="#a69b7a"/><stop offset="1" stop-color="#847a64"/></radialGradient><radialGradient id="tumr" cx="0.42" cy="0.38" r="0.62"><stop offset="0" stop-color="#d4c2aa"/><stop offset="0.5" stop-color="#c0a58a"/><stop offset="0.85" stop-color="#a28670"/><stop offset="1" stop-color="#806a5c"/></radialGradient><linearGradient id="blu" x1="0" y1="0" x2="1" y2="0.35"><stop offset="0" stop-color="#223656"/><stop offset="0.45" stop-color="#2a4268"/><stop offset="1" stop-color="#38537e"/></linearGradient><radialGradient id="bhl" cx="0.85" cy="0.75" r="0.6"><stop offset="0" stop-color="#6482ad" stop-opacity="0.75"/><stop offset="1" stop-color="#6482ad" stop-opacity="0"/></radialGradient><linearGradient id="bsh" x1="0" y1="0" x2="0" y2="1"><stop offset="0" stop-color="#10203a" stop-opacity="0.25"/><stop offset="0.25" stop-color="#10203a" stop-opacity="0"/><stop offset="0.85" stop-color="#10203a" stop-opacity="0"/><stop offset="1" stop-color="#10203a" stop-opacity="0.2"/></linearGradient><linearGradient id="rul" x1="0" y1="0" x2="1" y2="0.3"><stop offset="0" stop-color="#5b6b84"/><stop offset="0.5" stop-color="#5e708b"/><stop offset="1" stop-color="#566b90"/></linearGradient></defs>
<rect x="1166.2" y="633.5" width="507.6" height="337" fill="url(#blu)" stroke="none" stroke-width="0"/>
<rect x="1166.2" y="633.5" width="507.6" height="337" fill="url(#bhl)" stroke="none" stroke-width="0"/>
<rect x="1166.2" y="633.5" width="507.6" height="337" fill="url(#bsh)" stroke="none" stroke-width="0"/>
<rect x="1166.2" y="633.5" width="507.6" height="337" fill="#000" stroke="none" stroke-width="0" filter="url(#mot)" opacity="0.45"/>
<rect x="1166.2" y="633.5" width="507.6" height="337" fill="#fff" stroke="none" stroke-width="0" filter="url(#fab)" opacity="0.42"/>
<rect x="1166.2" y="633.5" width="507.6" height="337" fill="#000" stroke="none" stroke-width="0" filter="url(#fabd)" opacity="0.55"/>
<rect x="1166.2" y="970.5" width="507.6" height="111.3" fill="url(#rul)" stroke="none" stroke-width="0"/>
<rect x="1166.2" y="970.5" width="507.6" height="111.3" fill="#fff" stroke="none" stroke-width="0" filter="url(#fab)" opacity="0.45"/>
<line x1="1166.2" y1="972.5" x2="1673.8" y2="972.5" stroke="#cdd4de" stroke-width="2.2"/>
<line x1="1180.5" y1="972" x2="1180.5" y2="1040.3" stroke="#14171d" stroke-width="2.3"/>
<line x1="1189.8" y1="972" x2="1189.8" y2="1022.6" stroke="#14171d" stroke-width="2.3"/>
<line x1="1199" y1="972" x2="1199" y2="1022.6" stroke="#14171d" stroke-width="2.3"/>
<line x1="1208.3" y1="972" x2="1208.3" y2="1022.6" stroke="#14171d" stroke-width="2.3"/>
<line x1="1217.6" y1="972" x2="1217.6" y2="1022.6" stroke="#14171d" stroke-width="2.3"/>
<line x1="1226.8" y1="972" x2="1226.8" y2="1031.1" stroke="#14171d" stroke-width="2.3"/>
<line x1="1236.1" y1="972" x2="1236.1" y2="1022.6" stroke="#14171d" stroke-width="2.3"/>
<line x1="1245.4" y1="972" x2="1245.4" y2="1022.6" stroke="#14171d" stroke-width="2.3"/>
<line x1="1254.7" y1="972" x2="1254.7" y2="1022.6" stroke="#14171d" stroke-width="2.3"/>
<line x1="1263.9" y1="972" x2="1263.9" y2="1022.6" stroke="#14171d" stroke-width="2.3"/>
<line x1="1273.2" y1="972" x2="1273.2" y2="1040.3" stroke="#14171d" stroke-width="2.3"/>
<line x1="1282.4" y1="972" x2="1282.4" y2="1022.6" stroke="#14171d" stroke-width="2.3"/>
<line x1="1291.6" y1="972" x2="1291.6" y2="1022.6" stroke="#14171d" stroke-width="2.3"/>
<line x1="1300.8" y1="972" x2="1300.8" y2="1022.6" stroke="#14171d" stroke-width="2.3"/>
<line x1="1310" y1="972" x2="1310" y2="1022.6" stroke="#14171d" stroke-width="2.3"/>
<line x1="1319.2" y1="972" x2="1319.2" y2="1031.1" stroke="#14171d" stroke-width="2.3"/>
<line x1="1328.3" y1="972" x2="1328.3" y2="1022.6" stroke="#14171d" stroke-width="2.3"/>
<line x1="1337.5" y1="972" x2="1337.5" y2="1022.6" stroke="#14171d" stroke-width="2.3"/>
<line x1="1346.7" y1="972" x2="1346.7" y2="1022.6" stroke="#14171d" stroke-width="2.3"/>
<line x1="1355.9" y1="972" x2="1355.9" y2="1022.6" stroke="#14171d" stroke-width="2.3"/>
<line x1="1365.1" y1="972" x2="1365.1" y2="1040.3" stroke="#14171d" stroke-width="2.3"/>
<line x1="1374.2" y1="972" x2="1374.2" y2="1022.6" stroke="#14171d" stroke-width="2.3"/>
<line x1="1383.2" y1="972" x2="1383.2" y2="1022.6" stroke="#14171d" stroke-width="2.3"/>
<line x1="1392.3" y1="972" x2="1392.3" y2="1022.6" stroke="#14171d" stroke-width="2.3"/>
<line x1="1401.4" y1="972" x2="1401.4" y2="1022.6" stroke="#14171d" stroke-width="2.3"/>
<line x1="1410.4" y1="972" x2="1410.4" y2="1031.1" stroke="#14171d" stroke-width="2.3"/>
<line x1="1419.5" y1="972" x2="1419.5" y2="1022.6" stroke="#14171d" stroke-width="2.3"/>
<line x1="1428.6" y1="972" x2="1428.6" y2="1022.6" stroke="#14171d" stroke-width="2.3"/>
<line x1="1437.7" y1="972" x2="1437.7" y2="1022.6" stroke="#14171d" stroke-width="2.3"/>
<line x1="1446.7" y1="972" x2="1446.7" y2="1022.6" stroke="#14171d" stroke-width="2.3"/>
<line x1="1455.8" y1="972" x2="1455.8" y2="1040.3" stroke="#14171d" stroke-width="2.3"/>
<line x1="1464.8" y1="972" x2="1464.8" y2="1022.6" stroke="#14171d" stroke-width="2.3"/>
<line x1="1473.8" y1="972" x2="1473.8" y2="1022.6" stroke="#14171d" stroke-width="2.3"/>
<line x1="1482.8" y1="972" x2="1482.8" y2="1022.6" stroke="#14171d" stroke-width="2.3"/>
<line x1="1491.8" y1="972" x2="1491.8" y2="1022.6" stroke="#14171d" stroke-width="2.3"/>
<line x1="1500.8" y1="972" x2="1500.8" y2="1031.1" stroke="#14171d" stroke-width="2.3"/>
<line x1="1509.7" y1="972" x2="1509.7" y2="1022.6" stroke="#14171d" stroke-width="2.3"/>
<line x1="1518.7" y1="972" x2="1518.7" y2="1022.6" stroke="#14171d" stroke-width="2.3"/>
<line x1="1527.7" y1="972" x2="1527.7" y2="1022.6" stroke="#14171d" stroke-width="2.3"/>
<line x1="1536.7" y1="972" x2="1536.7" y2="1022.6" stroke="#14171d" stroke-width="2.3"/>
<line x1="1545.7" y1="972" x2="1545.7" y2="1040.3" stroke="#14171d" stroke-width="2.3"/>
<line x1="1554.6" y1="972" x2="1554.6" y2="1022.6" stroke="#14171d" stroke-width="2.3"/>
<line x1="1563.5" y1="972" x2="1563.5" y2="1022.6" stroke="#14171d" stroke-width="2.3"/>
<line x1="1572.5" y1="972" x2="1572.5" y2="1022.6" stroke="#14171d" stroke-width="2.3"/>
<line x1="1581.4" y1="972" x2="1581.4" y2="1022.6" stroke="#14171d" stroke-width="2.3"/>
<line x1="1590.3" y1="972" x2="1590.3" y2="1031.1" stroke="#14171d" stroke-width="2.3"/>
<line x1="1599.2" y1="972" x2="1599.2" y2="1022.6" stroke="#14171d" stroke-width="2.3"/>
<line x1="1608.1" y1="972" x2="1608.1" y2="1022.6" stroke="#14171d" stroke-width="2.3"/>
<line x1="1617.1" y1="972" x2="1617.1" y2="1022.6" stroke="#14171d" stroke-width="2.3"/>
<line x1="1626" y1="972" x2="1626" y2="1022.6" stroke="#14171d" stroke-width="2.3"/>
<line x1="1634.9" y1="972" x2="1634.9" y2="1040.3" stroke="#14171d" stroke-width="2.3"/>
<line x1="1643.8" y1="972" x2="1643.8" y2="1022.6" stroke="#14171d" stroke-width="2.3"/>
<line x1="1652.7" y1="972" x2="1652.7" y2="1022.6" stroke="#14171d" stroke-width="2.3"/>
<line x1="1661.7" y1="972" x2="1661.7" y2="1022.6" stroke="#14171d" stroke-width="2.3"/>
<line x1="1670.6" y1="972" x2="1670.6" y2="1022.6" stroke="#14171d" stroke-width="2.3"/>
<text x="1180.5" y="1071" font-size="32.5" text-anchor="middle" fill="#25282e" stroke="#25282e" stroke-width="0.9">0</text>
<text x="1365.1" y="1071" font-size="32.5" text-anchor="middle" fill="#25282e" stroke="#25282e" stroke-width="0.9">2</text>
<text x="1455.8" y="1071" font-size="32.5" text-anchor="middle" fill="#25282e" stroke="#25282e" stroke-width="0.9">3</text>
<text x="1545.7" y="1071" font-size="32.5" text-anchor="middle" fill="#25282e" stroke="#25282e" stroke-width="0.9">4</text>
<text x="1634.9" y="1071" font-size="32.5" text-anchor="middle" fill="#25282e" stroke="#25282e" stroke-width="0.9">5</text>
<text x="1272.5" y="1071" font-size="32.5" text-anchor="middle" fill="#25282e" stroke="#25282e" stroke-width="0.9">1</text>
<text x="1287" y="1071" font-size="27.5" text-anchor="start" fill="#25282e" stroke="#25282e" stroke-width="0.9">cm</text>
<ellipse cx="1245.7" cy="673.9" rx="19.8" ry="18.5" fill="url(#tum)" transform="rotate(0 1245.7 673.9)" filter="url(#tblr)"/>
<ellipse cx="1330.6" cy="676.4" rx="15.2" ry="23.2" fill="url(#tum)" transform="rotate(15 1330.6 676.4)" filter="url(#tblr)"/>
<ellipse cx="1407.8" cy="679" rx="15.2" ry="23.8" fill="url(#tum)" transform="rotate(-18 1407.8 679)" filter="url(#tblr)"/>
<ellipse cx="1473.3" cy="689.3" rx="15.5" ry="20.2" fill="url(#tum)" transform="rotate(0 1473.3 689.3)" filter="url(#tblr)"/>
<ellipse cx="1544.1" cy="686.7" rx="13.5" ry="18.5" fill="url(#tumr)" transform="rotate(8 1544.1 686.7)" filter="url(#tblr)"/>
<ellipse cx="1607.1" cy="691.9" rx="16.8" ry="14.8" fill="url(#tum)" transform="rotate(-10 1607.1 691.9)" filter="url(#tblr)"/>
<ellipse cx="1240.6" cy="765.2" rx="14.8" ry="15.5" fill="url(#tum)" transform="rotate(0 1240.6 765.2)" filter="url(#tblr)"/>
<ellipse cx="1326.7" cy="775" rx="16" ry="14" fill="url(#tum)" transform="rotate(30 1326.7 775)" filter="url(#tblr)"/>
<ellipse cx="1394.4" cy="776" rx="13" ry="18.5" fill="url(#tum)" transform="rotate(-35 1394.4 776)" filter="url(#tblr)"/>
<ellipse cx="1470.8" cy="778.5" rx="14.8" ry="12.8" fill="url(#tum)" transform="rotate(0 1470.8 778.5)" filter="url(#tblr)"/>
<ellipse cx="1546.7" cy="781.1" rx="13.5" ry="15.5" fill="url(#tum)" transform="rotate(0 1546.7 781.1)" filter="url(#tblr)"/>
<ellipse cx="1618.7" cy="779.3" rx="14" ry="14.8" fill="url(#tumr)" transform="rotate(0 1618.7 779.3)" filter="url(#tblr)"/>
<ellipse cx="1237.5" cy="848" rx="15.5" ry="15.5" fill="url(#tum)" transform="rotate(0 1237.5 848)" filter="url(#tblr)"/>
<ellipse cx="1317.2" cy="848" rx="12.2" ry="13.5" fill="url(#tum)" transform="rotate(0 1317.2 848)" filter="url(#tblr)"/>
<ellipse cx="1405.2" cy="851.3" rx="13.5" ry="13.5" fill="url(#tumr)" transform="rotate(0 1405.2 851.3)" filter="url(#tblr)"/>
<ellipse cx="1473.9" cy="853.9" rx="10.2" ry="14.2" fill="url(#tum)" transform="rotate(-20 1473.9 853.9)" filter="url(#tblr)"/>
<ellipse cx="1544.1" cy="861.6" rx="12.8" ry="9.8" fill="url(#tumr)" transform="rotate(0 1544.1 861.6)" filter="url(#tblr)"/>
<ellipse cx="1614.8" cy="861.6" rx="11.5" ry="10.2" fill="url(#tum)" transform="rotate(0 1614.8 861.6)" filter="url(#tblr)"/>
<ellipse cx="1240.6" cy="911.8" rx="11.5" ry="11.5" fill="url(#tumr)" transform="rotate(0 1240.6 911.8)" filter="url(#tblr)"/>
<ellipse cx="1316.5" cy="916.9" rx="9.8" ry="9" fill="url(#tum)" transform="rotate(0 1316.5 916.9)" filter="url(#tblr)"/>
<ellipse cx="1394.9" cy="925.9" rx="8.5" ry="9.8" fill="url(#tum)" transform="rotate(0 1394.9 925.9)" filter="url(#tblr)"/>
<ellipse cx="1471.6" cy="935.4" rx="7.8" ry="8.5" fill="url(#tum)" transform="rotate(0 1471.6 935.4)" filter="url(#tblr)"/>
<ellipse cx="1538.4" cy="935.4" rx="8.2" ry="7" fill="url(#tum)" transform="rotate(0 1538.4 935.4)" filter="url(#tblr)"/>
<ellipse cx="1612.2" cy="938.8" rx="6.5" ry="5.8" fill="url(#tum)" transform="rotate(0 1612.2 938.8)" filter="url(#tblr)"/>
<text x="1683.7" y="699.2" font-size="34.6" text-anchor="start" fill="#000">Vehicle</text>
<text x="1683.7" y="784.4" font-size="34.6" text-anchor="start" fill="#000">Tam</text>
<text x="1683.7" y="867.3" font-size="34.6" text-anchor="start" fill="#000">SP600125</text>
<text x="1683.7" y="941.2" font-size="34.6" text-anchor="start" fill="#000">Tam + SP600125</text>
<text x="1.3" y="1178.6" font-size="56" text-anchor="start" fill="#000">g</text>
<line x1="212.5" y1="1211" x2="212.5" y2="1513.1" stroke="#000" stroke-width="2.2"/>
<line x1="206" y1="1512.1" x2="212.5" y2="1512.1" stroke="#000" stroke-width="2.2"/>
<text x="204.7" y="1524" font-size="36" text-anchor="end" fill="#000">0.0</text>
<line x1="206" y1="1452.1" x2="212.5" y2="1452.1" stroke="#000" stroke-width="2.2"/>
<text x="204.7" y="1464" font-size="36" text-anchor="end" fill="#000">0.2</text>
<line x1="206" y1="1392.1" x2="212.5" y2="1392.1" stroke="#000" stroke-width="2.2"/>
<text x="204.7" y="1404" font-size="36" text-anchor="end" fill="#000">0.4</text>
<line x1="206" y1="1332.1" x2="212.5" y2="1332.1" stroke="#000" stroke-width="2.2"/>
<text x="204.7" y="1344" font-size="36" text-anchor="end" fill="#000">0.6</text>
<line x1="206" y1="1272.1" x2="212.5" y2="1272.1" stroke="#000" stroke-width="2.2"/>
<text x="204.7" y="1284" font-size="36" text-anchor="end" fill="#000">0.8</text>
<line x1="206" y1="1212.1" x2="212.5" y2="1212.1" stroke="#000" stroke-width="2.2"/>
<text x="204.7" y="1224" font-size="36" text-anchor="end" fill="#000">1.0</text>
<line x1="212.5" y1="1512.1" x2="672.4" y2="1512.1" stroke="#000" stroke-width="2.2"/>
<line x1="282.8" y1="1512.1" x2="282.8" y2="1518.6" stroke="#000" stroke-width="2.2"/>
<line x1="389.2" y1="1512.1" x2="389.2" y2="1518.6" stroke="#000" stroke-width="2.2"/>
<line x1="495.1" y1="1512.1" x2="495.1" y2="1518.6" stroke="#000" stroke-width="2.2"/>
<line x1="601.5" y1="1512.1" x2="601.5" y2="1518.6" stroke="#000" stroke-width="2.2"/>
<text transform="translate(127,1360) rotate(-90)" font-size="35.5" text-anchor="middle">Tumor weight (g)</text>
<line x1="281.8" y1="1213.6" x2="604.3" y2="1213.6" stroke="#000" stroke-width="2.2"/>
<text x="449.4" y="1215.8" font-size="34" text-anchor="middle" fill="#000" font-weight="bold">***</text>
<line x1="389.2" y1="1244.5" x2="602.5" y2="1244.5" stroke="#000" stroke-width="2.2"/>
<text x="478.5" y="1248.9" font-size="34" text-anchor="middle" fill="#000" font-weight="bold">***</text>
<line x1="495.5" y1="1275.3" x2="605.4" y2="1275.3" stroke="#000" stroke-width="2.2"/>
<text x="551" y="1279.7" font-size="34" text-anchor="middle" fill="#000" font-weight="bold">***</text>
<line x1="248.1" y1="1361.2" x2="318.3" y2="1361.2" stroke="#000" stroke-width="2.2"/>
<line x1="282.8" y1="1337.2" x2="282.8" y2="1385.2" stroke="#000" stroke-width="2.2"/>
<line x1="269.4" y1="1337.2" x2="296.3" y2="1337.2" stroke="#000" stroke-width="2.2"/>
<line x1="269.4" y1="1385.2" x2="296.3" y2="1385.2" stroke="#000" stroke-width="2.2"/>
<circle cx="269.4" cy="1334.8" r="6.3" fill="#2f5c34" stroke="none" stroke-width="0"/>
<circle cx="296.3" cy="1334.8" r="6.3" fill="#2f5c34" stroke="none" stroke-width="0"/>
<circle cx="282.8" cy="1354" r="6.3" fill="#2f5c34" stroke="none" stroke-width="0"/>
<circle cx="282.8" cy="1368.4" r="6.3" fill="#2f5c34" stroke="none" stroke-width="0"/>
<circle cx="296.3" cy="1384" r="6.3" fill="#2f5c34" stroke="none" stroke-width="0"/>
<circle cx="269.4" cy="1392.7" r="6.3" fill="#2f5c34" stroke="none" stroke-width="0"/>
<line x1="354.4" y1="1399.3" x2="424.3" y2="1399.3" stroke="#000" stroke-width="2.2"/>
<line x1="389.2" y1="1378" x2="389.2" y2="1420.6" stroke="#000" stroke-width="2.2"/>
<line x1="372.2" y1="1378" x2="406.9" y2="1378" stroke="#000" stroke-width="2.2"/>
<line x1="372.2" y1="1420.6" x2="406.9" y2="1420.6" stroke="#000" stroke-width="2.2"/>
<circle cx="389.2" cy="1367.5" r="6.3" fill="#a31a2f" stroke="none" stroke-width="0"/>
<circle cx="375.7" cy="1385.8" r="6.3" fill="#a31a2f" stroke="none" stroke-width="0"/>
<circle cx="402.3" cy="1393" r="6.3" fill="#a31a2f" stroke="none" stroke-width="0"/>
<circle cx="375.7" cy="1405" r="6.3" fill="#a31a2f" stroke="none" stroke-width="0"/>
<circle cx="375.7" cy="1424.2" r="6.3" fill="#a31a2f" stroke="none" stroke-width="0"/>
<circle cx="402.3" cy="1420.6" r="6.3" fill="#a31a2f" stroke="none" stroke-width="0"/>
<line x1="460.8" y1="1431.4" x2="530.6" y2="1431.4" stroke="#000" stroke-width="2.2"/>
<line x1="495.1" y1="1403.2" x2="495.1" y2="1459.6" stroke="#000" stroke-width="2.2"/>
<line x1="476.7" y1="1403.2" x2="513.2" y2="1403.2" stroke="#000" stroke-width="2.2"/>
<line x1="476.7" y1="1459.6" x2="513.2" y2="1459.6" stroke="#000" stroke-width="2.2"/>
<circle cx="495.1" cy="1381" r="6.3" fill="#e08b35" stroke="none" stroke-width="0"/>
<circle cx="495.1" cy="1419.7" r="6.3" fill="#e08b35" stroke="none" stroke-width="0"/>
<circle cx="466.8" cy="1436.5" r="6.3" fill="#e08b35" stroke="none" stroke-width="0"/>
<circle cx="495.1" cy="1441.9" r="6.3" fill="#e08b35" stroke="none" stroke-width="0"/>
<circle cx="523.9" cy="1449.1" r="6.3" fill="#e08b35" stroke="none" stroke-width="0"/>
<circle cx="466.8" cy="1460.2" r="6.3" fill="#e08b35" stroke="none" stroke-width="0"/>
<line x1="567.1" y1="1502.2" x2="636.9" y2="1502.2" stroke="#000" stroke-width="2.2"/>
<line x1="601.5" y1="1492.3" x2="601.5" y2="1512.1" stroke="#000" stroke-width="2.2"/>
<line x1="583" y1="1492.3" x2="619.6" y2="1492.3" stroke="#000" stroke-width="2.2"/>
<circle cx="601.5" cy="1481.5" r="6.3" fill="#6c2181" stroke="none" stroke-width="0"/>
<circle cx="586.6" cy="1502.2" r="6.3" fill="#6c2181" stroke="none" stroke-width="0"/>
<circle cx="616.7" cy="1504" r="6.3" fill="#6c2181" stroke="none" stroke-width="0"/>
<circle cx="601.5" cy="1508.5" r="6.3" fill="#6c2181" stroke="none" stroke-width="0"/>
<circle cx="572.4" cy="1509.1" r="6.3" fill="#6c2181" stroke="none" stroke-width="0"/>
<circle cx="630.2" cy="1510.9" r="6.3" fill="#6c2181" stroke="none" stroke-width="0"/>
<text x="204.7" y="1580" font-size="35.5" text-anchor="end" fill="#000">Tam</text>
<text x="204.7" y="1642.2" font-size="35.5" text-anchor="end" fill="#000">SP600125</text>
<text x="282.8" y="1580" font-size="35.5" text-anchor="middle" fill="#000">-</text>
<text x="389.2" y="1580" font-size="35.5" text-anchor="middle" fill="#000">+</text>
<text x="495.1" y="1580" font-size="35.5" text-anchor="middle" fill="#000">-</text>
<text x="601.5" y="1580" font-size="35.5" text-anchor="middle" fill="#000">+</text>
<text x="282.8" y="1642.2" font-size="35.5" text-anchor="middle" fill="#000">-</text>
<text x="389.2" y="1642.2" font-size="35.5" text-anchor="middle" fill="#000">-</text>
<text x="495.1" y="1642.2" font-size="35.5" text-anchor="middle" fill="#000">+</text>
<text x="601.5" y="1642.2" font-size="35.5" text-anchor="middle" fill="#000">+</text>
<text x="752" y="1178.6" font-size="56" text-anchor="start" fill="#000">h</text>
<text x="956.3" y="1216.3" font-size="34.5" text-anchor="middle" fill="#000">Vehicle</text>
<text x="1192.3" y="1216.3" font-size="34.5" text-anchor="middle" fill="#000">Tam</text>
<text x="1419.5" y="1216.3" font-size="34.5" text-anchor="middle" fill="#000">SP600125</text>
<text x="1663" y="1216.3" font-size="34.5" text-anchor="middle" fill="#000">Tam + SP600125</text>
<text transform="translate(845,1331) rotate(-90)" font-size="34.5" text-anchor="middle">Ki-67</text>
<text transform="translate(845,1553) rotate(-90)" font-size="34.5" text-anchor="middle">pS63-c-Jun</text>
<filter id="ib" x="0" y="0" width="1" height="1"><feGaussianBlur stdDeviation="0.85"/></filter>
<clipPath id="c100"><rect x="854.4" y="1228.9" width="204.1" height="203.5"/></clipPath>
<g clip-path="url(#c100)"><g filter="url(#ib)" stroke-linecap="round" fill="none">
<rect x="854.4" y="1228.9" width="204.1" height="203.5" fill="#e4dcdc" stroke="none" stroke-width="0"/>
<path d="M861 1420l2 3m178 -26l0 1m-188 -91l-1 3m160 85l-2 3m-125 -15l3 1m120 -39l1 0m26 -110l1 1m-144 111l1 0m76 -73l0 0m-112 81l-1 1m31 -51l1 1m-9 42l2 1" stroke="#ece6e7" stroke-width="14"/>
<path d="M941 1393l2 1m69 -126l1 0m-30 160l-1 0m46 -11l0 1m14 -166l-2 0m-39 135l1 2m-40 -93l1 3m67 116l-2 2m-51 -146l0 1m-86 63l2 2m156 -29l-1 3m-113 27l1 2m3 81l-2 0m-30 -46l-1 0m82 -19l-3 2m54 -133l-2 2m-8 114l0 1m4 5l0 1m-33 58l0 0m-145 -148l0 0m120 2l-3 3" stroke="#ece6e7" stroke-width="18"/>
<path d="M883 1320l-2 2m74 26l0 1m-5 -10l2 1m-71 20l0 0m28 -77l-1 0m84 35l2 2m-124 24l3 2" stroke="#ece6e7" stroke-width="22"/>
<path d="M1040 1247l-3 2m-185 23l3 1m62 137l-3 1m87 -168l1 1m-110 19l1 1m147 161l1 0m19 -34l-1 0m-79 -114l2 1m-123 90l3 2" stroke="#dbd2d7" stroke-width="14"/>
<path d="M1015 1299l0 0m-50 -47l2 0m-83 129l3 0m169 -155l0 2m-26 34l3 1m-145 92l-1 1m48 -126l3 0m35 115l2 2m-77 77l-1 1m55 -56l-2 3m83 10l-1 0m-77 -20l0 3m38 -45l4 0" stroke="#dbd2d7" stroke-width="18"/>
<path d="M1043 1389l2 3m-86 -123l0 0m17 -37l-2 0m21 1l2 2m-126 61l-1 3m120 20l3 0m-74 98l1 3m-51 -178l-2 1m-7 183l0 4m138 -185l-1 3m-45 35l-1 3m49 146l1 2m-111 -91l-3 2" stroke="#dbd2d7" stroke-width="22"/>
<path d="M985 1336l0 2m1 -31l0 0m1 108l-2 0m42 -29l0 1m-33 -137l-1 1m15 -21l0 1m-141 135l0 1m33 68l-1 0m135 -183l0 0m-179 -19l0 1m115 13l0 0m52 12l0 2m-81 88l-1 1m-45 19l1 1m9 -70l2 1m84 25l0 2m-1 -9l1 1m52 75l0 0m-10 -148l0 0m-155 58l-1 1m61 -45l-1 1m-16 90l0 0m86 -25l2 1m-7 -9l-1 1m-119 -67l-1 1m86 58l2 1m1 8l0 1m-83 -96l-1 2m7 66l-1 1m54 52l2 1m75 2l0 2m-18 -83l-1 0m-114 111l0 1m-9 -37l0 0m35 -94l-1 1m-7 130l-1 0m121 -149l2 0m-118 23l0 2m-10 71l1 2m70 -16l-1 2m-64 37l-1 0m-3 80l0 2m-34 -109l-1 1m149 40l-2 1m-92 -72l0 0m-31 -61l2 0m67 151l0 0m2 -3l2 0m-23 -123l-1 1m-25 159l0 0m133 -157l2 0m-123 95l0 2m-69 17l0 1m9 -23l-1 1m-15 15l-1 1m186 50l0 2m-127 -85l0 0m92 -37l0 0m-128 -8l-2 1m124 138l1 0m4 -140l0 0m-67 73l0 2m-72 -116l-1 0m77 -15l0 0m120 178l-1 0m-126 -102l-1 0m-77 -16l0 0m174 23l-1 2m-1 -36l1 2m-158 120l-1 0m18 -141l-2 1m123 167l0 0m-19 -125l-2 0m-18 88l2 1m47 -152l0 1m44 52l-1 1m-207 -68l-2 0m177 139l0 0m25 -60l-1 1m-182 42l1 2m174 -103l0 1m-117 179l0 0m3 -45l-1 1m-11 -50l0 1m54 -96l-1 1m-64 161l1 1m49 3l0 0m-50 -93l0 0m115 -42l2 1m-43 -1l-1 0m19 80l1 1m-97 -110l0 0m17 104l2 0m-51 48l0 1m147 12l-2 2m18 -128l0 0m-122 -25l0 1m92 152l-1 1m-150 -34l1 1m9 -26l0 0m133 -26l1 2m-1 61l1 1m-111 -43l0 0m-9 -2l0 1m160 -17l-1 1" stroke="#b9b7dc" stroke-width="7.1"/>
<path d="M946 1376l1 0m-21 -92l-1 0m68 28l-1 0m19 -11l0 0m31 116l-2 1m-69 -84l1 2m76 -55l0 0m-90 -6l1 0m-78 25l0 0m101 43l1 1m-63 -61l1 2m-57 89l0 1m52 -67l0 1m-27 -73l2 0m66 0l-2 2m36 40l1 0m45 -32l-2 0m-28 97l0 0m-58 61l0 0m-34 -75l0 0m-56 70l0 0m53 -29l2 0m107 -107l-1 0m-117 29l0 2m12 -2l0 1m76 88l-1 1m-82 -93l0 0m150 48l1 0m-150 -101l-2 1m106 134l1 1m16 -135l-1 1m-62 30l1 0m-67 86l-1 2m104 54l1 1m7 -143l0 2m-43 -38l0 1m-10 88l0 0m92 -42l2 1m-155 4l2 1m79 -47l-2 0m63 184l0 1m16 -124l1 0m4 -39l-1 1m-162 10l0 0m103 59l2 1m-82 -81l0 2m81 107l0 1m21 -107l0 0m-36 1l0 1m3 157l0 2m-51 -31l0 0m-80 -73l-1 0m43 34l-1 2m66 -49l0 2m-111 -60l0 0m20 76l0 2m-17 117l0 1m173 -78l-1 0m-116 -54l-1 2m39 57l0 1m-75 -116l0 0m71 17l0 2m76 108l2 0m-147 -15l1 2m138 -111l2 0m14 31l0 0m-48 68l-1 1m-50 -75l0 1m-10 75l-2 1m-21 -70l1 0m88 99l-1 1m-10 -82l0 1m-118 -49l-1 0m63 97l0 2m-72 -44l0 1m20 -51l0 1m81 18l1 2m12 82l-1 1m61 -89l0 0m26 61l1 0m-63 90l-1 0m-131 2l-1 0m148 -97l-2 1m-104 -44l-1 1m91 132l-1 1m71 -124l-1 1m-204 89l1 2m79 48l-1 0m118 -53l0 2m-78 -118l2 0m-80 146l-1 2m-41 -137l0 0m133 141l0 0m-130 -67l0 0m28 -82l0 0m170 -14l0 1m-132 43l0 1m139 18l0 2m-39 109l-1 0m-94 -93l2 2m100 29l-1 0m-34 -65l0 0" stroke="#b9b7dc" stroke-width="8.1"/>
<path d="M916 1335l0 1m64 85l1 2m-68 -84l-1 1m23 -70l0 0m28 126l-2 2m101 15l-2 1m-91 -65l1 1m37 24l-2 2m-33 -35l1 0m70 -101l0 2m-28 4l-2 1m18 40l2 0m21 52l-1 1m-187 18l0 0m160 16l-1 1m-104 -138l1 0m54 141l1 2m25 -44l-1 1m-14 42l1 1m-127 -119l1 1m140 118l1 0m-74 -116l0 2m49 146l0 1m64 -11l0 0m-41 -83l-2 1m40 78l0 1m-132 -90l0 1m-41 -35l-2 1m95 105l2 2m-22 -116l0 0m107 72l0 1m-20 48l0 0m-158 36l-1 1m-9 -69l2 1m39 -32l-1 2m116 107l-1 1m-139 -41l-2 1m64 -164l1 1m-76 155l0 0m66 -143l0 1m86 86l0 1m-119 -43l-1 0m130 1l-1 1m-159 67l-1 1m112 -6l-1 1m-54 -69l-1 0m29 18l-2 0m64 67l0 2m-118 -11l1 1m-32 53l2 1m62 -38l0 0m13 -73l1 0m19 50l1 1m95 78l0 1m-72 -148l1 0m76 127l0 1m1 -50l0 2m-73 48l0 1m-82 -102l1 0m-51 27l-1 1m201 -24l0 0m-48 55l-2 1m46 -37l-2 1m-33 -47l1 1m-122 109l-1 1m-21 -132l0 0m-18 52l-1 1m118 109l0 2m58 -125l1 0m-27 104l1 2m-110 -156l-1 1m-33 39l0 2m138 92l-1 0m11 -66l1 0m-147 -82l0 0m-3 93l-1 1m147 23l0 2m-14 61l2 1m-20 -161l0 0m69 155l1 2m-51 -32l-1 0m-44 -2l-1 0m114 -140l0 2m-119 42l1 0m80 93l1 1m-157 11l1 1m118 -169l-2 0m17 125l1 2m-141 -74l2 2m198 73l0 0m-164 43l0 0m82 -167l-2 0m64 194l0 0m-98 -26l-1 1m-61 -170l0 1m90 151l-1 2m51 -30l-1 2m-45 -13l0 0m-14 -118l1 1m-16 180l-1 1m105 -1l1 1m-172 -52l-2 0m24 -30l-1 0m133 -62l2 1m8 -29l0 1m-163 180l1 0m29 -186l0 2m141 177l0 0m-64 -84l-1 0m-115 56l2 0m27 -53l1 2m134 86l2 0m-66 -32l1 1m-43 31l0 0m32 -52l-1 1m29 -26l-1 0m-111 60l-1 1m109 -68l-2 0m1 76l0 1m-36 -126l1 1m72 -50l1 0m-5 128l1 1m-143 30l1 2" stroke="#b9b7dc" stroke-width="9.1"/>
<path d="M985 1336l0 2m1 -31l0 0m1 108l-2 0m42 -29l0 1m-33 -137l-1 1m15 -21l0 1m-141 135l0 1m33 68l-1 0m135 -183l0 0m-179 -19l0 1m115 13l0 0m52 12l0 2m-81 88l-1 1m-45 19l1 1m9 -70l2 1m84 25l0 2m-1 -9l1 1m52 75l0 0m-10 -148l0 0m-155 58l-1 1m61 -45l-1 1m-16 90l0 0m86 -25l2 1m-7 -9l-1 1m-119 -67l-1 1m86 58l2 1m1 8l0 1m-83 -96l-1 2m7 66l-1 1m54 52l2 1m75 2l0 2m-18 -83l-1 0m-114 111l0 1m-9 -37l0 0m35 -94l-1 1m-7 130l-1 0m121 -149l2 0m-118 23l0 2m-10 71l1 2m70 -16l-1 2m-64 37l-1 0m-3 80l0 2m-34 -109l-1 1m149 40l-2 1m-92 -72l0 0m-31 -61l2 0m67 151l0 0m2 -3l2 0m-23 -123l-1 1m-25 159l0 0m133 -157l2 0m-123 95l0 2m-69 17l0 1m9 -23l-1 1m-15 15l-1 1m186 50l0 2m-127 -85l0 0m92 -37l0 0m-128 -8l-2 1m124 138l1 0m4 -140l0 0m-67 73l0 2m-72 -116l-1 0m77 -15l0 0m120 178l-1 0m-126 -102l-1 0m-77 -16l0 0m174 23l-1 2m-1 -36l1 2m-158 120l-1 0m18 -141l-2 1m123 167l0 0m-19 -125l-2 0m-18 88l2 1m47 -152l0 1m44 52l-1 1m-207 -68l-2 0m177 139l0 0m25 -60l-1 1m-182 42l1 2m174 -103l0 1m-117 179l0 0m3 -45l-1 1m-11 -50l0 1m54 -96l-1 1m-64 161l1 1m49 3l0 0m-50 -93l0 0m115 -42l2 1m-43 -1l-1 0m19 80l1 1m-97 -110l0 0m17 104l2 0m-51 48l0 1m147 12l-2 2m18 -128l0 0m-122 -25l0 1m92 152l-1 1m-150 -34l1 1m9 -26l0 0m133 -26l1 2m-1 61l1 1m-111 -43l0 0m-9 -2l0 1m160 -17l-1 1" stroke="#c8c6e4" stroke-width="3.9"/>
<path d="M946 1376l1 0m-21 -92l-1 0m68 28l-1 0m19 -11l0 0m31 116l-2 1m-69 -84l1 2m76 -55l0 0m-90 -6l1 0m-78 25l0 0m101 43l1 1m-63 -61l1 2m-57 89l0 1m52 -67l0 1m-27 -73l2 0m66 0l-2 2m36 40l1 0m45 -32l-2 0m-28 97l0 0m-58 61l0 0m-34 -75l0 0m-56 70l0 0m53 -29l2 0m107 -107l-1 0m-117 29l0 2m12 -2l0 1m76 88l-1 1m-82 -93l0 0m150 48l1 0m-150 -101l-2 1m106 134l1 1m16 -135l-1 1m-62 30l1 0m-67 86l-1 2m104 54l1 1m7 -143l0 2m-43 -38l0 1m-10 88l0 0m92 -42l2 1m-155 4l2 1m79 -47l-2 0m63 184l0 1m16 -124l1 0m4 -39l-1 1m-162 10l0 0m103 59l2 1m-82 -81l0 2m81 107l0 1m21 -107l0 0m-36 1l0 1m3 157l0 2m-51 -31l0 0m-80 -73l-1 0m43 34l-1 2m66 -49l0 2m-111 -60l0 0m20 76l0 2m-17 117l0 1m173 -78l-1 0m-116 -54l-1 2m39 57l0 1m-75 -116l0 0m71 17l0 2m76 108l2 0m-147 -15l1 2m138 -111l2 0m14 31l0 0m-48 68l-1 1m-50 -75l0 1m-10 75l-2 1m-21 -70l1 0m88 99l-1 1m-10 -82l0 1m-118 -49l-1 0m63 97l0 2m-72 -44l0 1m20 -51l0 1m81 18l1 2m12 82l-1 1m61 -89l0 0m26 61l1 0m-63 90l-1 0m-131 2l-1 0m148 -97l-2 1m-104 -44l-1 1m91 132l-1 1m71 -124l-1 1m-204 89l1 2m79 48l-1 0m118 -53l0 2m-78 -118l2 0m-80 146l-1 2m-41 -137l0 0m133 141l0 0m-130 -67l0 0m28 -82l0 0m170 -14l0 1m-132 43l0 1m139 18l0 2m-39 109l-1 0m-94 -93l2 2m100 29l-1 0m-34 -65l0 0" stroke="#c8c6e4" stroke-width="4.5"/>
<path d="M916 1335l0 1m64 85l1 2m-68 -84l-1 1m23 -70l0 0m28 126l-2 2m101 15l-2 1m-91 -65l1 1m37 24l-2 2m-33 -35l1 0m70 -101l0 2m-28 4l-2 1m18 40l2 0m21 52l-1 1m-187 18l0 0m160 16l-1 1m-104 -138l1 0m54 141l1 2m25 -44l-1 1m-14 42l1 1m-127 -119l1 1m140 118l1 0m-74 -116l0 2m49 146l0 1m64 -11l0 0m-41 -83l-2 1m40 78l0 1m-132 -90l0 1m-41 -35l-2 1m95 105l2 2m-22 -116l0 0m107 72l0 1m-20 48l0 0m-158 36l-1 1m-9 -69l2 1m39 -32l-1 2m116 107l-1 1m-139 -41l-2 1m64 -164l1 1m-76 155l0 0m66 -143l0 1m86 86l0 1m-119 -43l-1 0m130 1l-1 1m-159 67l-1 1m112 -6l-1 1m-54 -69l-1 0m29 18l-2 0m64 67l0 2m-118 -11l1 1m-32 53l2 1m62 -38l0 0m13 -73l1 0m19 50l1 1m95 78l0 1m-72 -148l1 0m76 127l0 1m1 -50l0 2m-73 48l0 1m-82 -102l1 0m-51 27l-1 1m201 -24l0 0m-48 55l-2 1m46 -37l-2 1m-33 -47l1 1m-122 109l-1 1m-21 -132l0 0m-18 52l-1 1m118 109l0 2m58 -125l1 0m-27 104l1 2m-110 -156l-1 1m-33 39l0 2m138 92l-1 0m11 -66l1 0m-147 -82l0 0m-3 93l-1 1m147 23l0 2m-14 61l2 1m-20 -161l0 0m69 155l1 2m-51 -32l-1 0m-44 -2l-1 0m114 -140l0 2m-119 42l1 0m80 93l1 1m-157 11l1 1m118 -169l-2 0m17 125l1 2m-141 -74l2 2m198 73l0 0m-164 43l0 0m82 -167l-2 0m64 194l0 0m-98 -26l-1 1m-61 -170l0 1m90 151l-1 2m51 -30l-1 2m-45 -13l0 0m-14 -118l1 1m-16 180l-1 1m105 -1l1 1m-172 -52l-2 0m24 -30l-1 0m133 -62l2 1m8 -29l0 1m-163 180l1 0m29 -186l0 2m141 177l0 0m-64 -84l-1 0m-115 56l2 0m27 -53l1 2m134 86l2 0m-66 -32l1 1m-43 31l0 0m32 -52l-1 1m29 -26l-1 0m-111 60l-1 1m109 -68l-2 0m1 76l0 1m-36 -126l1 1m72 -50l1 0m-5 128l1 1m-143 30l1 2" stroke="#c8c6e4" stroke-width="5"/>
<path d="M859 1399l1 1m73 -16l0 1m45 -17l0 0m8 57l0 0m70 -4l0 1m-187 -143l0 1m121 112l0 1m-64 -108l0 1m18 49l1 0m105 -67l0 0m-52 -17l1 0m22 105l0 0m-145 -62l0 0m121 43l0 0m-19 -86l0 0m-11 124l1 0m56 -121l-1 0m-50 179l0 0m-7 -56l0 0m-111 35l-1 1m26 -48l-1 0m121 -66l1 1m15 25l0 0m-90 72l0 0m38 -99l0 0m37 85l0 1m21 -36l0 0m-102 -117l1 0m-14 55l0 0m103 87l0 0m-65 -20l1 0m107 -104l-1 0m-150 -11l0 0m-14 27l1 1" stroke="#c9a286" stroke-width="6.9"/>
<path d="M1060 1260l1 1m-152 50l0 0m48 89l0 0m-39 -51l-1 0m124 -30l-1 1m-113 94l0 1m91 -182l1 0m26 123l0 0m-142 32l1 1m91 5l0 0m10 -160l1 0m44 174l0 0m-71 -103l1 1m10 56l-1 0m-56 2l0 1m-16 -103l0 1m-21 166l0 0m114 -105l0 0m-153 -36l-1 0m25 18l-1 1m75 114l0 0m105 -34l-1 0m-74 46l0 0m1 -133l0 1m-126 -70l1 0m135 188l0 1m-31 -152l0 0m-39 27l0 1m80 138l0 0m-30 -193l1 1m-80 175l0 0m16 -89l0 0m-5 17l0 0m-16 -8l0 0m165 -106l0 0m-124 156l0 0m98 -36l0 0m-35 -36l0 0m-1 -14l1 0m1 39l0 1m-82 -34l0 0m-39 -45l1 0m10 33l0 1m66 15l0 1m20 -35l1 0" stroke="#c9a286" stroke-width="8"/>
<path d="M999 1420l1 0m-19 -141l0 0m29 -4l0 0m-11 53l1 0m-80 26l0 0m35 53l-1 0m-43 -134l0 1m87 10l0 0m-67 12l0 0m57 130l-1 0m-38 -12l0 0m41 -114l0 0m-108 -41l0 0m25 50l1 0m9 -66l0 0m-8 86l1 1m-32 -85l0 0m4 179l0 1m40 -125l0 0m62 135l0 0m19 -144l0 1m-87 -47l0 0m115 76l1 1m-173 96l0 0m175 -139l1 1m-18 68l1 0m-93 27l0 0m110 -61l0 0m-101 -28l-1 0m98 132l0 0m-51 11l1 0" stroke="#c9a286" stroke-width="9.1"/>
<path d="M859 1399l1 1m73 -16l0 1m45 -17l0 0m8 57l0 0m70 -4l0 1m-187 -143l0 1m121 112l0 1m-64 -108l0 1m18 49l1 0m105 -67l0 0m-52 -17l1 0m22 105l0 0m-145 -62l0 0m121 43l0 0m-19 -86l0 0m-11 124l1 0m56 -121l-1 0m-50 179l0 0m-7 -56l0 0m-111 35l-1 1m26 -48l-1 0m121 -66l1 1m15 25l0 0m-90 72l0 0m38 -99l0 0m37 85l0 1m21 -36l0 0m-102 -117l1 0m-14 55l0 0m103 87l0 0m-65 -20l1 0m107 -104l-1 0m-150 -11l0 0m-14 27l1 1" stroke="#b4845e" stroke-width="4.2"/>
<path d="M1060 1260l1 1m-152 50l0 0m48 89l0 0m-39 -51l-1 0m124 -30l-1 1m-113 94l0 1m91 -182l1 0m26 123l0 0m-142 32l1 1m91 5l0 0m10 -160l1 0m44 174l0 0m-71 -103l1 1m10 56l-1 0m-56 2l0 1m-16 -103l0 1m-21 166l0 0m114 -105l0 0m-153 -36l-1 0m25 18l-1 1m75 114l0 0m105 -34l-1 0m-74 46l0 0m1 -133l0 1m-126 -70l1 0m135 188l0 1m-31 -152l0 0m-39 27l0 1m80 138l0 0m-30 -193l1 1m-80 175l0 0m16 -89l0 0m-5 17l0 0m-16 -8l0 0m165 -106l0 0m-124 156l0 0m98 -36l0 0m-35 -36l0 0m-1 -14l1 0m1 39l0 1m-82 -34l0 0m-39 -45l1 0m10 33l0 1m66 15l0 1m20 -35l1 0" stroke="#b4845e" stroke-width="4.8"/>
<path d="M999 1420l1 0m-19 -141l0 0m29 -4l0 0m-11 53l1 0m-80 26l0 0m35 53l-1 0m-43 -134l0 1m87 10l0 0m-67 12l0 0m57 130l-1 0m-38 -12l0 0m41 -114l0 0m-108 -41l0 0m25 50l1 0m9 -66l0 0m-8 86l1 1m-32 -85l0 0m4 179l0 1m40 -125l0 0m62 135l0 0m19 -144l0 1m-87 -47l0 0m115 76l1 1m-173 96l0 0m175 -139l1 1m-18 68l1 0m-93 27l0 0m110 -61l0 0m-101 -28l-1 0m98 132l0 0m-51 11l1 0" stroke="#b4845e" stroke-width="5.4"/>
<path d="M1033 1370l-1 1m19 -108l-1 1m-34 7l0 0m-44 81l0 1m-88 43l-1 0m32 -149l0 0m69 0l0 0m19 24l0 1m16 116l-1 0m-42 -92l0 0m40 7l0 0m-26 62l1 0m-33 8l1 0m59 -109l0 1m-31 10l0 0m-13 29l1 1m-21 -3l0 0m89 -59l-1 0m-173 166l0 0m10 -52l-1 1m-14 -61l0 0m193 -17l0 0m-158 113l1 0m139 -55l0 1m-133 12l0 0m17 -105l1 0m-27 162l0 0m161 9l0 0m-154 -85l-1 0m64 -10l1 0m44 -61l0 0m-85 133l0 1m26 -160l1 0m-86 50l0 0m102 99l0 0m-105 -134l0 0m28 -1l0 0m64 122l0 0m-39 -105l0 0m-56 85l-1 0" stroke="#b98a66" stroke-width="6.5"/>
<path d="M998 1362l0 1m-94 -7l0 0m44 -122l0 0m112 188l0 1m-149 -93l0 0m-5 101l0 0m47 -117l-1 1m73 81l0 1m-108 -18l0 1m28 -34l-1 0m9 -65l0 0m82 -1l-1 0m-120 96l0 0m52 -119l0 0m-106 -19l-1 0m-3 140l-1 0m119 -65l1 0m56 -48l0 0m-84 16l0 0m-34 148l0 0m-13 -15l0 0m86 -176l0 0m-80 29l0 1m80 92l0 1m67 -96l0 1m-162 14l0 1m39 -50l0 0m112 12l0 1m-71 85l0 0m19 21l0 0m40 28l0 1m-156 32l0 0m24 -30l-1 0m60 35l1 0m80 -102l0 0m-147 65l0 0m36 -41l0 0m20 -12l1 0m48 -4l-1 0m-17 97l0 0m-19 9l0 0m-95 -163l-1 0m190 153l-1 0m-94 -131l0 0m-23 17l0 0m-49 -6l0 0m84 -20l0 0m31 29l0 0m16 17l0 0" stroke="#b98a66" stroke-width="7.4"/>
<path d="M979 1412l0 0m-69 -51l0 0m77 27l1 1m-105 -10l-1 0m179 31l0 1m-48 -27l0 1m-68 -133l0 0m-34 173l0 0m-17 -111l0 1m45 54l0 0m16 -7l0 1m-83 69l0 0m-5 -188l0 1m47 -11l0 1m-41 170l-1 1m143 8l1 0m-1 -120l0 0m34 -62l-1 1m-183 191l0 0m128 -85l0 0m-116 22l-1 0m-22 19l0 0m77 -87l0 1m-59 141l0 0m31 -29l0 0m90 -39l0 0m-38 -3l1 0m72 -57l0 0m22 -34l0 1m-36 33l0 1m-50 77l0 0m-71 -121l0 0m16 39l0 0m62 115l0 1m-30 -132l0 1m90 -19l0 0m-44 150l-1 1m-77 -30l0 0m71 -128l0 0m-42 79l1 1m94 -9l0 0" stroke="#b98a66" stroke-width="8.3"/>
<path d="M1033 1370l-1 1m19 -108l-1 1m-34 7l0 0m-44 81l0 1m-88 43l-1 0m32 -149l0 0m69 0l0 0m19 24l0 1m16 116l-1 0m-42 -92l0 0m40 7l0 0m-26 62l1 0m-33 8l1 0m59 -109l0 1m-31 10l0 0m-13 29l1 1m-21 -3l0 0m89 -59l-1 0m-173 166l0 0m10 -52l-1 1m-14 -61l0 0m193 -17l0 0m-158 113l1 0m139 -55l0 1m-133 12l0 0m17 -105l1 0m-27 162l0 0m161 9l0 0m-154 -85l-1 0m64 -10l1 0m44 -61l0 0m-85 133l0 1m26 -160l1 0m-86 50l0 0m102 99l0 0m-105 -134l0 0m28 -1l0 0m64 122l0 0m-39 -105l0 0m-56 85l-1 0" stroke="#97603e" stroke-width="4"/>
<path d="M998 1362l0 1m-94 -7l0 0m44 -122l0 0m112 188l0 1m-149 -93l0 0m-5 101l0 0m47 -117l-1 1m73 81l0 1m-108 -18l0 1m28 -34l-1 0m9 -65l0 0m82 -1l-1 0m-120 96l0 0m52 -119l0 0m-106 -19l-1 0m-3 140l-1 0m119 -65l1 0m56 -48l0 0m-84 16l0 0m-34 148l0 0m-13 -15l0 0m86 -176l0 0m-80 29l0 1m80 92l0 1m67 -96l0 1m-162 14l0 1m39 -50l0 0m112 12l0 1m-71 85l0 0m19 21l0 0m40 28l0 1m-156 32l0 0m24 -30l-1 0m60 35l1 0m80 -102l0 0m-147 65l0 0m36 -41l0 0m20 -12l1 0m48 -4l-1 0m-17 97l0 0m-19 9l0 0m-95 -163l-1 0m190 153l-1 0m-94 -131l0 0m-23 17l0 0m-49 -6l0 0m84 -20l0 0m31 29l0 0m16 17l0 0" stroke="#97603e" stroke-width="4.6"/>
<path d="M979 1412l0 0m-69 -51l0 0m77 27l1 1m-105 -10l-1 0m179 31l0 1m-48 -27l0 1m-68 -133l0 0m-34 173l0 0m-17 -111l0 1m45 54l0 0m16 -7l0 1m-83 69l0 0m-5 -188l0 1m47 -11l0 1m-41 170l-1 1m143 8l1 0m-1 -120l0 0m34 -62l-1 1m-183 191l0 0m128 -85l0 0m-116 22l-1 0m-22 19l0 0m77 -87l0 1m-59 141l0 0m31 -29l0 0m90 -39l0 0m-38 -3l1 0m72 -57l0 0m22 -34l0 1m-36 33l0 1m-50 77l0 0m-71 -121l0 0m16 39l0 0m62 115l0 1m-30 -132l0 1m90 -19l0 0m-44 150l-1 1m-77 -30l0 0m71 -128l0 0m-42 79l1 1m94 -9l0 0" stroke="#97603e" stroke-width="5.2"/>
<path d="M934 1342l0 0m108 -71l-1 1m-50 103l-1 1m-4 -116l1 3m40 9l-2 1m-162 -18l0 2m54 83l3 3m-4 66l0 0m52 -171l1 1m20 187l2 1m-9 6l0 0m-43 -157l0 0m91 -17l0 0m21 19l-1 4m1 -14l3 3m-71 -12l-2 0m-109 143l0 3m24 4l-1 2m74 -149l0 1m-93 56l2 1m71 69l1 0m-72 -157l0 3m79 119l0 1m-39 -36l3 3m41 91l-2 1" stroke="#9595cf" stroke-width="2.6"/>
<path d="M930 1430l2 2m56 -143l-1 1m-96 41l1 1m55 42l0 0m-59 -39l2 3m75 -6l-4 2m12 -37l2 1m-102 95l-1 0m25 -131l-3 1m124 120l-4 2m-78 12l-3 0m40 22l4 2m-105 -176l1 1m90 60l2 2m-102 -63l0 0m109 1l0 1m-108 5l3 2m59 72l-4 1m7 55l3 2m42 -32l0 2m31 56l-2 0" stroke="#9595cf" stroke-width="3"/>
<path d="M993 1329l-1 1m-45 102l0 1m18 -26l-3 1m13 -86l0 1m85 -18l1 3m-112 -64l3 0m-89 -17l-3 4m20 126l3 2m41 -70l2 1m107 -18l-5 1m-138 -19l-1 0m120 125l-1 4m44 -15l1 0m-83 -64l-1 1m23 -39l-3 1m-64 39l0 0m16 79l-1 1m20 -137l-1 2m-21 65l1 1m82 78l1 2m-130 -96l0 4m30 12l-1 1m-6 -72l2 1m114 110l2 3m-125 30l0 4m8 27l0 0m57 -102l0 0m-107 -32l-2 2m166 137l-1 4m-27 -202l3 3m-126 130l1 3m-17 42l-2 3m36 -65l1 1m119 -3l0 0" stroke="#9595cf" stroke-width="3.4"/>
</g></g>
<rect x="855.4" y="1229.9" width="202.1" height="201.5" fill="none" stroke="#111" stroke-width="2.2"/>
<rect x="1007.7" y="1410.8" width="38.4" height="4.6" fill="#000" stroke="none" stroke-width="0"/>
<clipPath id="c200"><rect x="854.4" y="1453" width="204.1" height="203.3"/></clipPath>
<g clip-path="url(#c200)"><g filter="url(#ib)" stroke-linecap="round" fill="none">
<rect x="854.4" y="1453" width="204.1" height="203.3" fill="#e4cfc2" stroke="none" stroke-width="0"/>
<path d="M906 1452l2 1m2 93l-1 1m44 37l1 0m2 46l-2 1m-53 -42l-4 3m120 64l-3 0m-4 -71l2 1m-114 -128l0 3m145 50l2 0m4 141l4 1m-173 -203l1 5m26 90l0 3m113 -79l-2 2m-145 152l0 0m142 -81l-4 3m-146 7l-1 2m72 22l-4 1m129 50l-2 4m-132 -92l-4 1m54 -58l1 5m-13 -19l0 1m-59 17l1 1m52 78l-1 4m-23 -43l-1 0m-76 122l-1 2m148 -60l-4 4m-142 -2l-3 1m68 35l4 5m-66 -89l2 6m151 -59l0 2m20 -24l1 4m3 72l5 1m-120 50l0 0m-49 -118l2 4m32 83l-2 1m25 -60l0 0" stroke="#fbf7f4" stroke-width="7"/>
<path d="M1039 1471l-4 1m-106 149l-3 4m-72 31l3 2m126 -26l-1 1m-34 -42l-1 1m29 -68l0 1m-93 1l-2 2m22 92l-2 2m22 -102l-1 1m-49 112l-4 4m40 -20l0 5m67 -3l-4 0m-52 -140l-1 4m41 35l-3 0m65 58l-2 1m-30 25l1 2m11 -79l3 3m-57 110l-2 3m51 -20l3 5m-36 -29l-1 5m69 -108l3 1m-91 -40l-5 1m-24 134l1 2m81 29l3 0m-120 -92l-2 3m48 3l1 2m30 -5l2 2" stroke="#fbf7f4" stroke-width="9"/>
<path d="M859 1492l4 2m136 29l0 1m-33 -26l-1 4m-6 -53l2 3m-106 91l0 1m109 111l3 3m-84 -74l3 0m-8 -55l6 0m-18 5l-5 1m72 96l0 0m120 4l0 0m-185 -52l2 1m-11 -102l-2 5m144 0l2 2m-26 128l1 2m-110 -64l0 0m5 18l-3 2m15 -54l-3 4m154 -17l-4 1m-171 -46l-3 1m37 11l-1 0m135 -11l-1 2m-83 110l-2 3m52 53l-1 3m-64 -140l0 2m121 141l4 0m-142 -24l0 2" stroke="#fbf7f4" stroke-width="11"/>
<path d="M1027 1647l2 11m-142 -54l3 9m-28 -16l6 1m65 -89l-5 1m29 66l7 2m-65 -8l0 1m46 -79l2 2m6 -6l5 6m44 138l-3 7m-7 -24l0 0m-99 -150l2 1m-2 88l-2 0m123 -53l-3 4m-32 37l-4 9m0 88l7 6m-96 8l5 5m-27 -53l-2 5m186 -149l-4 1m-172 92l7 3m17 43l1 1m156 -44l0 0m-54 -57l-2 8m-25 29l-4 5m-83 -46l-3 6m175 -48l8 5m-139 148l9 1m86 30l-6 9m-8 -120l-2 9m45 15l-1 1m-163 -10l5 8m81 -74l7 1m-84 90l0 1m139 -64l-1 1m-34 78l-1 4m-61 58l1 1m105 -124l-8 2m-79 7l-3 2m-2 -86l0 8m-88 162l9 3m106 -65l-5 7m-42 -89l-4 3m-7 153l-1 8m-34 -182l-8 2m2 38l-10 0m32 71l-5 1m-35 85l7 0m-13 -157l1 0m29 133l0 4m6 -157l-8 2m104 18l0 0m-9 83l-2 9m-55 -28l1 3m-40 -78l-3 0m47 146l-1 8m128 -110l1 1m-22 -33l-1 1m-110 -3l0 1m-11 28l3 4m-24 16l-1 2m70 -82l-1 0m5 118l-5 0m84 61l0 0m-165 -75l3 2m-8 -22l6 1m19 65l-4 8m54 -59l-7 0m-44 -82l7 6m135 -1l-2 7m-5 -24l2 1m-160 9l-2 1m189 57l3 3m-137 27l-4 6m138 -57l-1 9m-115 -55l-3 7m-19 84l1 2m42 -71l0 0m49 63l-6 6m-12 21l0 3m-6 21l0 2" stroke="#c49a7e" stroke-width="2.9"/>
<path d="M911 1583l5 8m33 56l0 0m-52 -42l0 8m162 -145l3 1m-85 140l-8 5m30 -128l1 1m-71 45l1 1m0 105l2 8m-8 -30l6 4m-10 -78l0 9m-1 -32l-2 6m125 61l-2 2m-60 -93l-5 6m37 102l-1 0m31 -150l-9 2m-23 126l6 5m32 -80l-5 6m-169 133l-1 1m35 -63l7 4m14 -14l-2 1m-8 -16l-3 1m62 -47l1 1m-42 -8l3 1m94 80l1 0m0 11l2 5m-170 -151l3 0m82 129l1 1m63 55l-2 0m-87 -62l0 1m51 1l0 1m-74 -46l0 7m94 92l0 2m-37 -147l-4 4m-51 93l10 2m60 -32l3 7m27 -57l0 0m-85 9l-4 0m-55 30l10 1m175 11l-9 4m-153 -32l7 1m120 39l-10 3m9 61l0 0m33 4l2 8m-4 -171l-2 5m-144 106l4 4m111 20l5 6m-106 -152l-4 2m19 -12l-3 10m27 161l2 1m80 -119l0 10m-154 51l-5 9m191 -117l-6 3m-94 29l0 0m91 107l3 2m-142 15l10 1m119 -29l4 2m-63 29l-2 2m-89 -2l-2 2m-29 23l8 2m-5 -183l6 9m96 180l-5 7m86 -201l7 2m-120 49l5 7m-53 51l1 10m81 -119l3 2m-83 55l0 11m56 -36l4 0m-70 3l-3 6m10 161l-8 7m46 -80l-1 1m39 28l0 3m50 -96l-3 0m-102 93l0 0m-6 -139l2 0m148 -19l5 3m-129 6l6 7m81 158l0 2m-7 10l11 2m-95 -53l1 10m-11 56l-3 5m134 -161l6 8m-61 4l-7 2m22 -42l6 1" stroke="#c49a7e" stroke-width="3.6"/>
<path d="M932 1483l6 6m-55 105l0 3m144 -129l-4 4m-120 -5l0 1m33 121l1 1m79 -74l-2 3m-52 65l2 3m3 34l-10 3m-67 -176l-1 10m38 0l6 6m109 135l-4 3m-136 -19l-5 7m37 -121l-3 7m38 -22l2 6m-6 194l-5 4m-71 -48l-7 4m-22 18l-9 3m88 -152l5 6m-2 80l-5 1m88 -65l2 3m27 63l-8 4m-133 39l0 11m94 -144l-1 0m-137 107l7 1m0 25l8 7m149 -145l7 9m-65 128l2 2m-15 -84l0 0m-91 80l-7 0m62 -145l2 1m109 -10l6 8m-4 75l-5 10m6 12l3 1m-136 -42l-5 3m136 43l1 1m-165 -55l1 8m75 -12l1 10m8 104l3 4m-57 -81l-9 2m123 -90l3 3m-59 55l6 3m79 -49l0 4m14 149l-1 9m-108 -150l1 2m76 128l0 1m-64 -67l9 6m46 -73l-6 1m-85 162l9 1m61 -143l-10 3m-28 51l-6 4m-33 94l-2 9m6 -176l3 1m-46 45l-1 1m119 -10l-4 4m5 15l-1 8m-147 82l-6 8m39 -110l-5 6m7 69l3 6m68 -148l1 10m-66 30l3 6m61 41l9 1m-65 -86l-1 1m68 74l9 4m-79 102l-4 3m-17 -159l5 2m23 80l6 4m-25 22l7 2m145 6l0 0" stroke="#c49a7e" stroke-width="4.3"/>
<path d="M968 1502l2 1m-61 14l0 0m-39 128l2 1m107 -104l0 0m36 20l3 1m-92 29l-3 2m21 12l-3 2m-64 -103l-2 1m114 26l0 1m-7 -56l0 0m10 10l0 0m-107 -25l0 0m-7 -8l0 0m63 195l-2 4m109 -135l0 4m-31 11l-1 1m-21 6l-3 1m42 95l3 1" stroke="#cfae98" stroke-width="7"/>
<path d="M903 1477l1 2m34 104l-2 0m86 -45l3 2m-81 -89l2 1m-37 132l2 3m125 -13l2 0m7 60l1 3m-64 8l0 0m-47 -181l1 0m19 146l1 1m-48 -111l0 0m-13 -12l0 1m105 163l-2 1m-92 -120l-4 1m48 116l0 0m-11 -30l-1 1m-70 -165l1 1m17 100l-1 1m29 12l0 0m-26 26l2 1m-2 57l-1 3m-13 -2l-1 2m24 -93l3 2m-10 -33l-1 4m133 -6l-3 1" stroke="#cfae98" stroke-width="9"/>
<path d="M881 1658l0 0m-28 -100l0 1m124 -97l-1 0m22 59l0 0m42 97l2 1m-130 -22l0 0m19 51l1 0m-3 -42l1 1m120 -52l2 3m-48 -76l1 2m-16 -28l1 2m11 170l0 0m-10 11l2 1m62 -44l1 4m-83 -103l1 0m8 54l2 1m10 49l2 2" stroke="#cfae98" stroke-width="11"/>
<path d="M916 1572l1 1m42 77l0 1m33 -187l0 0m48 152l1 1m-3 -92l1 1m-188 2l1 1m87 109l0 2m92 15l-1 1m-22 -86l0 1m39 -8l-1 1m-40 12l1 1m-107 -122l-1 2m88 118l0 0m31 -26l0 0m-115 -29l0 0m142 -48l1 1m-36 107l2 0m40 -125l1 0m-129 24l-1 1m46 115l0 0m-111 -118l0 1m75 -14l0 0m80 67l1 1m-112 -59l1 0m37 50l0 0m10 52l-1 2m-78 -27l1 0m111 -81l-1 1m-97 54l0 0m60 -36l0 0m63 -14l-1 0m-51 106l-1 0m89 -14l1 1m-86 8l-2 1m26 -11l0 2m-81 -33l0 0m147 -69l0 0m-146 109l-1 0m57 -17l0 0m59 38l0 0m4 20l1 0m20 18l0 1m-82 -22l1 1m4 -24l1 0m-21 11l0 1m11 0l-2 0m81 -65l-1 1m-34 78l0 0m-130 -19l1 1m132 -62l0 2m44 103l0 0m-37 1l-1 0m-114 -63l2 0m-14 -10l0 0m145 -112l0 2m7 72l0 1m-97 127l-2 0m101 -103l0 2m-87 8l0 0m-49 -57l0 0m-48 143l0 0m151 -189l1 0m49 31l0 1m-48 60l2 0m-4 -79l-1 0m-97 131l-1 0m55 -104l2 1m15 75l0 0m20 -41l0 1m50 54l2 0m-131 18l1 0m94 -41l-1 1m4 -61l1 1m-81 31l1 1m90 32l-1 1m-162 -7l-1 1m-4 44l0 1m194 -25l-1 0m-15 -103l0 0m-93 150l0 1m-77 -186l0 0m174 127l0 1m-179 27l-1 1m97 -143l-1 0m61 126l0 1m-89 30l0 1m19 -30l0 1m38 47l0 0m-63 -56l0 0m98 -67l1 0m-155 -63l-1 0m-7 84l-1 0m43 -11l-1 1m17 22l1 1m60 54l0 0" stroke="#7b7bb7" stroke-width="6.8"/>
<path d="M975 1475l2 1m-63 102l0 0m-42 -6l1 0m170 -103l0 0m-23 153l-2 1m19 13l2 1m21 -154l0 1m-188 158l-1 1m144 -184l0 1m-154 152l0 0m90 -103l-2 1m-36 9l0 1m76 29l-1 1m-78 37l0 1m-28 8l1 1m87 15l0 0m57 40l0 1m-100 -27l0 0m-3 -47l1 0m-56 38l2 0m87 -159l1 2m-100 23l0 1m78 78l-1 1m18 -96l-1 2m-25 61l0 0m121 43l-1 1m-173 -37l-1 0m173 -66l-2 0m-180 87l0 0m107 2l-1 2m-26 -4l0 0m78 -14l1 1m-141 -32l-1 1m160 101l-1 1m-101 -35l0 0m85 13l-1 0m15 -81l0 1m-185 -49l0 1m134 167l0 0m0 -169l1 0m22 7l-2 0m-74 104l0 1m37 1l0 0m72 25l-1 0m-134 -91l1 1m-30 39l2 1m21 49l1 1m131 -133l1 0m-36 71l1 0m-59 -39l1 0m88 90l-1 1m-52 -26l0 0m-45 30l-1 1m9 -63l-1 2m47 -76l1 1m61 10l-1 1m-70 153l1 0m-52 -63l0 1m46 -97l0 0m-101 47l0 0m162 35l2 1m-94 59l0 1m106 26l0 2m-137 -123l1 0m79 -17l0 0m-21 33l1 0m-47 -68l1 1m131 157l-1 2m-140 -24l-1 1m-57 -72l-1 0m65 -48l0 1m34 125l-1 1m-40 37l2 1m70 -46l0 0m-4 44l0 0m-32 -71l0 1m-55 -71l0 1m73 137l0 2m42 -108l1 1m-83 -20l0 0m-55 101l0 1m176 -27l0 0m-168 -108l0 2m66 59l0 1m27 80l1 0m-46 -14l0 0m-27 46l0 1m143 -114l-1 1m-185 -76l0 1m148 43l-1 1" stroke="#7b7bb7" stroke-width="7.6"/>
<path d="M981 1470l2 0m-27 174l0 0m-23 -187l-1 1m-71 48l0 0m74 17l0 0m-40 77l-1 0m27 -9l0 0m-54 -44l0 0m91 49l-2 0m-1 -118l1 0m79 130l0 0m-75 -135l-2 0m-15 126l0 1m63 -19l1 1m-73 73l-1 0m80 -172l-1 0m-98 44l0 0m124 -54l0 0m-58 -6l0 0m-7 63l-1 1m-116 3l0 1m111 63l-1 2m-77 57l1 1m7 -51l-1 2m104 -94l-1 1m-104 99l1 2m55 -131l1 2m35 151l-1 1m-98 -15l0 0m80 -28l1 0m31 -4l0 0m-131 -118l0 1m80 -6l-1 0m-28 101l1 0m21 -69l0 1m-5 48l-1 1m-1 -69l-2 1m3 99l0 1m100 -37l0 0m-139 -30l0 0m-7 24l1 1m48 -60l0 0m39 -11l0 0m-86 64l1 0m-24 -32l-1 1m29 -47l0 0m149 107l1 1m-8 -89l0 1m-122 61l-1 1m-62 -12l0 0m67 -76l1 1m25 24l0 2m113 140l1 2m-187 -60l0 1m100 34l0 2m-72 -139l-1 0m9 61l1 0m-34 112l-1 0m140 -35l1 1m-148 -62l0 0m106 -12l1 0m-70 -33l-1 1m59 141l1 1m-76 -90l0 0m-23 8l-1 1m5 -10l0 0m14 31l1 1m101 41l0 0m-11 -74l-1 1m-83 -74l1 1m120 2l0 0m-24 -8l1 1m61 92l0 0m-120 -57l-1 0m-42 149l1 0m33 -166l-1 0m50 27l1 1m-23 99l-1 1m32 3l0 1m10 -132l1 0m66 -12l-1 0m-158 67l-1 1m98 -70l0 0m-138 58l1 1m109 96l1 1m-33 -41l1 2m34 -4l0 0m21 -66l1 1m55 108l-1 1m-86 -33l0 1m-52 -90l1 1m125 72l0 0m-35 -76l-1 1m-23 48l1 1m-87 84l-1 0m101 -80l0 2m33 71l1 1m-144 -115l1 1m34 89l-1 0m76 -63l-1 1m17 -58l0 0m44 47l0 1m-110 -67l0 0m34 160l-1 0m28 -132l-2 0" stroke="#7b7bb7" stroke-width="8.4"/>
<path d="M916 1572l1 1m42 77l0 1m33 -187l0 0m48 152l1 1m-3 -92l1 1m-188 2l1 1m87 109l0 2m92 15l-1 1m-22 -86l0 1m39 -8l-1 1m-40 12l1 1m-107 -122l-1 2m88 118l0 0m31 -26l0 0m-115 -29l0 0m142 -48l1 1m-36 107l2 0m40 -125l1 0m-129 24l-1 1m46 115l0 0m-111 -118l0 1m75 -14l0 0m80 67l1 1m-112 -59l1 0m37 50l0 0m10 52l-1 2m-78 -27l1 0m111 -81l-1 1m-97 54l0 0m60 -36l0 0m63 -14l-1 0m-51 106l-1 0m89 -14l1 1m-86 8l-2 1m26 -11l0 2m-81 -33l0 0m147 -69l0 0m-146 109l-1 0m57 -17l0 0m59 38l0 0m4 20l1 0m20 18l0 1m-82 -22l1 1m4 -24l1 0m-21 11l0 1m11 0l-2 0m81 -65l-1 1m-34 78l0 0m-130 -19l1 1m132 -62l0 2m44 103l0 0m-37 1l-1 0m-114 -63l2 0m-14 -10l0 0m145 -112l0 2m7 72l0 1m-97 127l-2 0m101 -103l0 2m-87 8l0 0m-49 -57l0 0m-48 143l0 0m151 -189l1 0m49 31l0 1m-48 60l2 0m-4 -79l-1 0m-97 131l-1 0m55 -104l2 1m15 75l0 0m20 -41l0 1m50 54l2 0m-131 18l1 0m94 -41l-1 1m4 -61l1 1m-81 31l1 1m90 32l-1 1m-162 -7l-1 1m-4 44l0 1m194 -25l-1 0m-15 -103l0 0m-93 150l0 1m-77 -186l0 0m174 127l0 1m-179 27l-1 1m97 -143l-1 0m61 126l0 1m-89 30l0 1m19 -30l0 1m38 47l0 0m-63 -56l0 0m98 -67l1 0m-155 -63l-1 0m-7 84l-1 0m43 -11l-1 1m17 22l1 1m60 54l0 0" stroke="#9292c6" stroke-width="3.4"/>
<path d="M975 1475l2 1m-63 102l0 0m-42 -6l1 0m170 -103l0 0m-23 153l-2 1m19 13l2 1m21 -154l0 1m-188 158l-1 1m144 -184l0 1m-154 152l0 0m90 -103l-2 1m-36 9l0 1m76 29l-1 1m-78 37l0 1m-28 8l1 1m87 15l0 0m57 40l0 1m-100 -27l0 0m-3 -47l1 0m-56 38l2 0m87 -159l1 2m-100 23l0 1m78 78l-1 1m18 -96l-1 2m-25 61l0 0m121 43l-1 1m-173 -37l-1 0m173 -66l-2 0m-180 87l0 0m107 2l-1 2m-26 -4l0 0m78 -14l1 1m-141 -32l-1 1m160 101l-1 1m-101 -35l0 0m85 13l-1 0m15 -81l0 1m-185 -49l0 1m134 167l0 0m0 -169l1 0m22 7l-2 0m-74 104l0 1m37 1l0 0m72 25l-1 0m-134 -91l1 1m-30 39l2 1m21 49l1 1m131 -133l1 0m-36 71l1 0m-59 -39l1 0m88 90l-1 1m-52 -26l0 0m-45 30l-1 1m9 -63l-1 2m47 -76l1 1m61 10l-1 1m-70 153l1 0m-52 -63l0 1m46 -97l0 0m-101 47l0 0m162 35l2 1m-94 59l0 1m106 26l0 2m-137 -123l1 0m79 -17l0 0m-21 33l1 0m-47 -68l1 1m131 157l-1 2m-140 -24l-1 1m-57 -72l-1 0m65 -48l0 1m34 125l-1 1m-40 37l2 1m70 -46l0 0m-4 44l0 0m-32 -71l0 1m-55 -71l0 1m73 137l0 2m42 -108l1 1m-83 -20l0 0m-55 101l0 1m176 -27l0 0m-168 -108l0 2m66 59l0 1m27 80l1 0m-46 -14l0 0m-27 46l0 1m143 -114l-1 1m-185 -76l0 1m148 43l-1 1" stroke="#9292c6" stroke-width="3.8"/>
<path d="M981 1470l2 0m-27 174l0 0m-23 -187l-1 1m-71 48l0 0m74 17l0 0m-40 77l-1 0m27 -9l0 0m-54 -44l0 0m91 49l-2 0m-1 -118l1 0m79 130l0 0m-75 -135l-2 0m-15 126l0 1m63 -19l1 1m-73 73l-1 0m80 -172l-1 0m-98 44l0 0m124 -54l0 0m-58 -6l0 0m-7 63l-1 1m-116 3l0 1m111 63l-1 2m-77 57l1 1m7 -51l-1 2m104 -94l-1 1m-104 99l1 2m55 -131l1 2m35 151l-1 1m-98 -15l0 0m80 -28l1 0m31 -4l0 0m-131 -118l0 1m80 -6l-1 0m-28 101l1 0m21 -69l0 1m-5 48l-1 1m-1 -69l-2 1m3 99l0 1m100 -37l0 0m-139 -30l0 0m-7 24l1 1m48 -60l0 0m39 -11l0 0m-86 64l1 0m-24 -32l-1 1m29 -47l0 0m149 107l1 1m-8 -89l0 1m-122 61l-1 1m-62 -12l0 0m67 -76l1 1m25 24l0 2m113 140l1 2m-187 -60l0 1m100 34l0 2m-72 -139l-1 0m9 61l1 0m-34 112l-1 0m140 -35l1 1m-148 -62l0 0m106 -12l1 0m-70 -33l-1 1m59 141l1 1m-76 -90l0 0m-23 8l-1 1m5 -10l0 0m14 31l1 1m101 41l0 0m-11 -74l-1 1m-83 -74l1 1m120 2l0 0m-24 -8l1 1m61 92l0 0m-120 -57l-1 0m-42 149l1 0m33 -166l-1 0m50 27l1 1m-23 99l-1 1m32 3l0 1m10 -132l1 0m66 -12l-1 0m-158 67l-1 1m98 -70l0 0m-138 58l1 1m109 96l1 1m-33 -41l1 2m34 -4l0 0m21 -66l1 1m55 108l-1 1m-86 -33l0 1m-52 -90l1 1m125 72l0 0m-35 -76l-1 1m-23 48l1 1m-87 84l-1 0m101 -80l0 2m33 71l1 1m-144 -115l1 1m34 89l-1 0m76 -63l-1 1m17 -58l0 0m44 47l0 1m-110 -67l0 0m34 160l-1 0m28 -132l-2 0" stroke="#9292c6" stroke-width="4.2"/>
<path d="M892 1499l2 1m-26 47l-2 1m98 0l0 2m48 24l-1 1m-37 -11l0 0m30 28l1 1m-59 -123l-1 1m16 34l-1 2m93 73l-1 2m-58 -123l-2 2m-38 -8l1 1m-28 129l0 1m98 8l0 0m-150 54l0 0m140 12l2 1m-29 -94l0 0m-83 71l0 0m37 -34l-1 2m44 -37l1 3m-105 34l0 0m64 23l0 0m-35 -94l-2 1m66 62l1 0m-6 -100l2 1m-53 5l-2 2m-17 128l0 0m40 -120l0 2m16 25l0 0m48 -10l-2 0m-86 8l0 1m-32 68l-1 2m54 42l0 2m-62 -89l0 1m72 0l-1 2m-42 79l1 0m-39 -160l0 0m72 74l-1 1m-15 -50l0 2m-4 139l2 2m131 -136l0 3m-147 -1l-1 0m55 -46l1 2m-66 50l-1 2m-29 5l-2 2m162 100l-1 3m-76 7l-1 1m42 -108l0 2m-82 24l0 0" stroke="#20236a" stroke-width="3.6"/>
<path d="M982 1504l1 1m19 107l1 1m-85 41l1 1m47 -86l1 2m83 -61l1 0m-46 -4l0 0m-92 59l1 1m85 -38l0 0m-70 7l0 2m86 11l0 2m14 36l-1 1m-51 -53l-1 1m-26 66l-1 2m-67 -149l0 0m123 188l1 1m16 -112l-2 1m-120 -53l2 2m81 121l-1 1m-78 12l2 1m135 -166l3 1m-188 63l1 2m52 38l-1 0m128 88l0 0m-137 -114l0 2m27 -64l-2 0m12 149l-1 1m-42 -49l0 0m144 -58l1 0m-136 100l1 1m56 32l1 0m22 -57l1 3m-104 13l0 0m-27 -32l3 0m141 52l-1 1m21 -10l-3 1m22 -162l-2 1m-69 11l-2 2m69 179l0 1m-35 -63l3 0m-70 55l-1 1m48 -173l0 0m39 55l0 0m26 -54l2 2m-10 6l0 0m-73 108l-2 1m89 63l1 1m-99 -2l-3 0m51 -61l3 0m-11 -11l-1 0m64 33l0 2m-186 -135l0 0m-6 41l1 1" stroke="#20236a" stroke-width="4.4"/>
<path d="M983 1605l1 1m-76 9l0 3m148 -148l0 1m-31 42l-1 1m9 44l0 1m-84 32l1 1m-63 -69l0 1m-3 55l-2 2m23 -80l0 0m124 129l-1 2m-15 -117l0 1m-5 -15l0 1m7 154l1 0m-101 -46l-1 1m88 -91l-1 2m-14 -52l0 2m62 110l1 2m-173 -124l2 0m-24 156l0 0m200 -73l-2 1m-95 -55l-1 2m61 17l2 1m-125 -20l0 0m120 54l-1 1m-152 -90l0 1m-6 0l0 3m9 19l-2 0m196 117l1 0m-202 -130l2 1m9 30l0 0m6 49l-1 1m91 -48l1 0m40 141l-2 0m-147 -43l0 0m37 -20l0 0m83 26l0 0m-47 -44l0 0m-48 45l1 1m149 -46l1 2m-54 -54l1 2m8 31l0 0m-86 29l-2 1m-19 39l0 1m133 -113l0 0m-145 -5l-2 2m30 132l-1 1m130 -31l0 1m-2 -54l-2 1m-97 30l2 1m135 67l-1 3" stroke="#20236a" stroke-width="5.2"/>
</g></g>
<rect x="855.4" y="1454" width="202.1" height="201.3" fill="none" stroke="#111" stroke-width="2.2"/>
<rect x="1007.7" y="1634.7" width="38.4" height="4.6" fill="#000" stroke="none" stroke-width="0"/>
<clipPath id="c101"><rect x="1090.4" y="1228.9" width="202.6" height="203.5"/></clipPath>
<g clip-path="url(#c101)"><g filter="url(#ib)" stroke-linecap="round" fill="none">
<rect x="1090.4" y="1228.9" width="202.6" height="203.5" fill="#e5dee1" stroke="none" stroke-width="0"/>
<path d="M1132 1429l0 0m39 -160l1 1m-5 44l-1 1m-77 29l1 0m134 -19l-2 1m46 45l3 0m-116 -126l-2 1m18 -9l1 0m-35 79l1 1m154 76l-1 1m-55 -81l1 1m16 -68l1 1m-59 26l-2 0m89 141l0 2" stroke="#eeeaeb" stroke-width="14"/>
<path d="M1211 1266l-4 1m41 35l1 2m11 64l-2 1m-156 -113l-2 2m58 -19l-1 2m-20 41l0 3m-25 12l0 1m117 71l-1 1m-131 62l1 3m47 -62l-3 2m151 44l0 0m-52 -70l-3 1" stroke="#eeeaeb" stroke-width="18"/>
<path d="M1226 1270l1 1m-43 67l1 0m-89 -40l-3 1m20 74l-3 2m8 -113l-2 2m65 148l-1 0m-82 -128l3 1m39 -16l0 0m80 135l0 2m-63 16l-1 1m-42 -83l-1 1m32 14l0 0m-45 15l0 1m-4 -106l-1 2" stroke="#eeeaeb" stroke-width="22"/>
<path d="M1212 1434l1 1m-67 -99l2 3m130 43l2 3m-130 28l2 1m-45 -50l-1 1m179 -130l0 0m-95 183l-2 1m10 -44l0 0m20 -19l-1 0m-105 -100l1 2m-11 20l3 0" stroke="#dbd3d8" stroke-width="14"/>
<path d="M1244 1265l2 2m-152 146l0 0m137 -128l-1 1m17 131l0 0m-157 -139l0 3m59 64l-4 0" stroke="#dbd3d8" stroke-width="18"/>
<path d="M1111 1234l-2 2m128 71l2 1m-116 9l-3 1m102 50l-1 1m-7 62l3 1m75 -32l3 2m-41 -24l-1 0m-137 -59l0 0m-9 19l1 4m153 -82l0 0m5 115l-2 0m-24 -131l0 1m-121 69l3 2" stroke="#dbd3d8" stroke-width="22"/>
<path d="M1209 1298l-1 2m-89 118l2 0m148 -8l0 0m-14 -108l-1 0m-2 22l0 1m11 -58l0 2m-170 -5l1 1m10 74l0 0m130 -3l0 1m-124 -2l0 0m158 -39l-2 0m-21 73l-1 1m37 41l0 0m-141 -67l1 0m124 42l0 0m-28 -31l-1 0m7 9l-1 1m15 4l-2 0m-130 -39l1 0m58 27l0 0m111 -10l-1 1m-48 82l0 1m-2 -3l-1 0m-78 -89l0 2m-2 3l2 1m-53 -104l0 0m150 149l1 1m20 -107l0 1m-71 140l1 1m6 -130l-2 0m35 106l1 1m-90 -168l0 1m69 83l2 1m56 38l1 1m-76 -52l-1 0m26 -21l-1 1m9 -44l2 1m31 89l0 0m-109 -100l-2 1m61 182l0 0m-1 0l-2 1m-117 -187l-1 1m-11 175l-2 1m44 -27l2 1m146 -5l0 1m-143 -124l-1 0m-2 -20l2 2m92 10l-1 2m-6 59l-1 0m-62 -41l-2 2m84 157l0 1m-67 -131l0 0m30 135l1 1m-37 -136l0 0m-87 89l-2 0m38 -14l0 1m164 -63l1 1m-171 -39l0 1m53 40l1 1m12 111l1 0m10 7l0 2m-79 -43l0 0m48 -72l1 1m62 1l0 0m-49 68l0 0m-11 -86l-1 2m120 125l1 1m-126 -98l1 2m41 66l-1 1m-79 -129l0 0m-4 25l-1 0m13 44l0 0m148 25l0 2m-22 -60l-1 1m-21 -77l1 0m-138 161l-2 1m176 39l-2 0m-18 -113l0 0m-110 29l2 0m59 69l2 1m60 -71l0 2m-84 -80l0 2m-14 43l2 0m121 -53l-1 0m-172 134l-1 2m11 -79l0 2m30 104l0 2m91 -54l0 0m23 28l0 1m-57 -111l-2 2m-80 -42l2 2m-33 23l-1 1m25 132l0 0m154 -119l-2 1m-48 142l1 1m-7 -59l0 0m63 -9l-2 1m-177 47l2 1m90 -56l0 0m51 -78l0 0m-37 -16l0 0m65 14l0 0m-173 143l2 1m101 -137l-1 1m46 60l0 0m-82 -94l1 1m-12 156l-1 1m-30 -3l-1 2m15 -165l0 1m128 -5l0 1m-168 123l1 1m42 31l0 0m32 -34l0 2m-26 47l-1 2m78 -44l-1 1m53 -90l0 2m-3 99l-1 0m-70 36l1 2m-42 -14l-1 1m27 -39l0 1" stroke="#b6b5dc" stroke-width="7.1"/>
<path d="M1178 1411l2 2m32 -103l-1 2m-81 95l-1 2m90 -135l1 2m-41 97l0 0m-22 -61l1 1m90 -72l0 0m-79 73l-1 1m87 91l0 2m-16 -56l0 0m-51 -101l-1 1m-88 142l0 0m57 -136l0 1m129 34l0 0m-34 -29l0 1m-140 57l0 1m14 -96l0 1m17 142l2 1m65 -60l-1 1m-100 -29l-1 0m98 136l0 2m-83 -88l1 1m5 -107l2 0m160 51l-1 1m-9 -46l-1 1m-10 122l0 0m-136 -26l1 1m31 79l-1 0m112 -82l-1 2m-80 61l0 2m-22 -165l2 1m-84 56l0 1m199 68l-1 1m-57 26l1 0m-39 -152l-1 1m-87 152l0 0m80 39l-1 0m-18 -33l0 1m-6 1l0 2m-25 -100l-1 2m160 129l2 1m-187 -180l1 0m46 -8l1 1m-68 8l-1 0m87 4l2 1m-85 156l-1 1m168 -167l0 0m-24 55l0 2m-91 -59l0 1m35 94l1 2m-27 7l0 0m100 -2l1 2m-90 42l-1 1m11 39l1 2m19 -125l1 1m-51 45l-1 1m52 -4l1 0m67 47l-1 1m-100 -76l1 2m-40 10l0 0m126 93l0 0m-60 -137l-1 1m-39 95l1 1m75 -155l0 0m-69 182l1 2m74 -32l1 0m-45 -105l0 0m-53 112l1 1m-27 39l0 0m71 -26l0 1m-49 -32l1 1m149 -117l0 0m-10 137l-2 0m-29 -79l0 0m-10 111l1 2m65 -62l-1 1m-185 -2l-1 1m-6 27l1 0m96 -39l-1 0m-16 -28l0 0m51 96l0 0m-97 -124l0 0m105 98l2 0m35 -15l-2 1m-122 9l-2 1m-19 -69l2 0m-40 99l-1 1m4 -144l0 1m36 21l1 2m63 -26l-2 0m-11 156l-1 1m29 -5l-1 1m-76 -55l2 1m114 -66l0 0m-38 -17l-1 2m38 22l1 1m-86 58l2 1m5 -70l0 0m39 40l2 1m56 -3l2 1m16 15l0 0m4 -26l0 1m-55 -51l-1 0m-128 -26l0 1m37 83l0 1m66 -106l0 0m78 2l0 1m-155 37l-1 1m26 106l-1 1m40 -91l-1 1m5 24l1 2m79 85l-1 1m-35 -84l-1 2" stroke="#b6b5dc" stroke-width="8.1"/>
<path d="M1119 1274l2 1m156 2l1 2m-71 9l-1 0m74 -18l0 0m-48 -2l-2 1m21 -7l0 0m-132 133l0 0m131 -48l2 1m-46 34l0 1m-71 52l0 0m2 -140l0 0m21 -50l1 2m85 149l0 2m18 -21l0 0m-163 -145l0 0m101 90l-1 1m-18 100l2 0m8 -80l0 0m61 62l-1 2m13 -156l0 0m-153 66l-1 0m65 -48l-2 0m-48 5l0 1m87 54l-2 0m-70 58l0 0m140 -73l1 1m-171 -29l0 0m49 139l0 0m-21 6l0 2m141 -83l0 0m-182 -112l0 1m147 115l1 2m15 74l0 2m-149 -174l0 2m108 59l0 0m-84 34l1 1m-19 5l2 1m-9 -54l-2 1m1 72l0 0m140 26l-2 1m-147 -164l2 1m72 141l0 0m68 -120l-1 0m51 171l0 0m-63 -156l-1 1m-75 0l1 1m15 62l0 1m-30 43l0 0m89 -79l0 0m3 -29l-1 0m32 10l-1 1m-25 -50l0 0m-1 91l0 1m15 4l0 2m-88 -56l-2 1m69 108l-1 1m-42 -152l-1 2m29 27l-1 0m-52 -43l-1 1m-12 200l0 0m104 -156l0 0m-89 15l-1 1m103 32l1 2m21 6l0 0m-114 83l-2 0m-50 -184l1 0m50 205l1 1m37 -168l-1 1m-57 138l0 0m132 -42l0 0m-185 -90l0 1m28 8l1 1m52 40l-2 0m66 -5l1 1m-122 -76l1 1m66 44l-1 2m-45 -55l0 0m19 101l-1 1m-66 50l0 0m18 -5l-1 0m14 -4l0 2m-28 17l0 0m21 -3l0 2m167 -133l0 0m-122 154l1 2m-74 14l1 0m116 -180l0 0m-54 130l1 2m20 -67l-1 2m-3 -5l0 1m-41 -42l0 0m140 106l-1 1m18 -59l0 2m-137 59l0 0m-8 6l1 2m13 -114l0 0m111 117l0 1m-53 -154l0 0m-30 106l1 0m71 -26l0 1m-67 -3l-1 0m-12 -24l0 0m10 75l-1 2m76 47l0 0m-43 -104l2 1m-126 115l0 0m117 -119l-1 2m-76 66l0 0m13 -134l0 0m61 113l0 2m-44 53l1 0m97 -113l-1 1m20 120l2 1m-25 -154l1 0m-4 22l0 0m-75 -59l-1 1m16 176l0 0m84 -10l2 0m-188 -102l2 0m-4 92l0 2m75 -48l0 2m-77 -14l0 1m161 -77l1 2m-37 103l0 0m-71 -11l1 1m28 22l0 0m33 -144l-1 1" stroke="#b6b5dc" stroke-width="9.1"/>
<path d="M1209 1298l-1 2m-89 118l2 0m148 -8l0 0m-14 -108l-1 0m-2 22l0 1m11 -58l0 2m-170 -5l1 1m10 74l0 0m130 -3l0 1m-124 -2l0 0m158 -39l-2 0m-21 73l-1 1m37 41l0 0m-141 -67l1 0m124 42l0 0m-28 -31l-1 0m7 9l-1 1m15 4l-2 0m-130 -39l1 0m58 27l0 0m111 -10l-1 1m-48 82l0 1m-2 -3l-1 0m-78 -89l0 2m-2 3l2 1m-53 -104l0 0m150 149l1 1m20 -107l0 1m-71 140l1 1m6 -130l-2 0m35 106l1 1m-90 -168l0 1m69 83l2 1m56 38l1 1m-76 -52l-1 0m26 -21l-1 1m9 -44l2 1m31 89l0 0m-109 -100l-2 1m61 182l0 0m-1 0l-2 1m-117 -187l-1 1m-11 175l-2 1m44 -27l2 1m146 -5l0 1m-143 -124l-1 0m-2 -20l2 2m92 10l-1 2m-6 59l-1 0m-62 -41l-2 2m84 157l0 1m-67 -131l0 0m30 135l1 1m-37 -136l0 0m-87 89l-2 0m38 -14l0 1m164 -63l1 1m-171 -39l0 1m53 40l1 1m12 111l1 0m10 7l0 2m-79 -43l0 0m48 -72l1 1m62 1l0 0m-49 68l0 0m-11 -86l-1 2m120 125l1 1m-126 -98l1 2m41 66l-1 1m-79 -129l0 0m-4 25l-1 0m13 44l0 0m148 25l0 2m-22 -60l-1 1m-21 -77l1 0m-138 161l-2 1m176 39l-2 0m-18 -113l0 0m-110 29l2 0m59 69l2 1m60 -71l0 2m-84 -80l0 2m-14 43l2 0m121 -53l-1 0m-172 134l-1 2m11 -79l0 2m30 104l0 2m91 -54l0 0m23 28l0 1m-57 -111l-2 2m-80 -42l2 2m-33 23l-1 1m25 132l0 0m154 -119l-2 1m-48 142l1 1m-7 -59l0 0m63 -9l-2 1m-177 47l2 1m90 -56l0 0m51 -78l0 0m-37 -16l0 0m65 14l0 0m-173 143l2 1m101 -137l-1 1m46 60l0 0m-82 -94l1 1m-12 156l-1 1m-30 -3l-1 2m15 -165l0 1m128 -5l0 1m-168 123l1 1m42 31l0 0m32 -34l0 2m-26 47l-1 2m78 -44l-1 1m53 -90l0 2m-3 99l-1 0m-70 36l1 2m-42 -14l-1 1m27 -39l0 1" stroke="#c7c6e4" stroke-width="3.9"/>
<path d="M1178 1411l2 2m32 -103l-1 2m-81 95l-1 2m90 -135l1 2m-41 97l0 0m-22 -61l1 1m90 -72l0 0m-79 73l-1 1m87 91l0 2m-16 -56l0 0m-51 -101l-1 1m-88 142l0 0m57 -136l0 1m129 34l0 0m-34 -29l0 1m-140 57l0 1m14 -96l0 1m17 142l2 1m65 -60l-1 1m-100 -29l-1 0m98 136l0 2m-83 -88l1 1m5 -107l2 0m160 51l-1 1m-9 -46l-1 1m-10 122l0 0m-136 -26l1 1m31 79l-1 0m112 -82l-1 2m-80 61l0 2m-22 -165l2 1m-84 56l0 1m199 68l-1 1m-57 26l1 0m-39 -152l-1 1m-87 152l0 0m80 39l-1 0m-18 -33l0 1m-6 1l0 2m-25 -100l-1 2m160 129l2 1m-187 -180l1 0m46 -8l1 1m-68 8l-1 0m87 4l2 1m-85 156l-1 1m168 -167l0 0m-24 55l0 2m-91 -59l0 1m35 94l1 2m-27 7l0 0m100 -2l1 2m-90 42l-1 1m11 39l1 2m19 -125l1 1m-51 45l-1 1m52 -4l1 0m67 47l-1 1m-100 -76l1 2m-40 10l0 0m126 93l0 0m-60 -137l-1 1m-39 95l1 1m75 -155l0 0m-69 182l1 2m74 -32l1 0m-45 -105l0 0m-53 112l1 1m-27 39l0 0m71 -26l0 1m-49 -32l1 1m149 -117l0 0m-10 137l-2 0m-29 -79l0 0m-10 111l1 2m65 -62l-1 1m-185 -2l-1 1m-6 27l1 0m96 -39l-1 0m-16 -28l0 0m51 96l0 0m-97 -124l0 0m105 98l2 0m35 -15l-2 1m-122 9l-2 1m-19 -69l2 0m-40 99l-1 1m4 -144l0 1m36 21l1 2m63 -26l-2 0m-11 156l-1 1m29 -5l-1 1m-76 -55l2 1m114 -66l0 0m-38 -17l-1 2m38 22l1 1m-86 58l2 1m5 -70l0 0m39 40l2 1m56 -3l2 1m16 15l0 0m4 -26l0 1m-55 -51l-1 0m-128 -26l0 1m37 83l0 1m66 -106l0 0m78 2l0 1m-155 37l-1 1m26 106l-1 1m40 -91l-1 1m5 24l1 2m79 85l-1 1m-35 -84l-1 2" stroke="#c7c6e4" stroke-width="4.5"/>
<path d="M1119 1274l2 1m156 2l1 2m-71 9l-1 0m74 -18l0 0m-48 -2l-2 1m21 -7l0 0m-132 133l0 0m131 -48l2 1m-46 34l0 1m-71 52l0 0m2 -140l0 0m21 -50l1 2m85 149l0 2m18 -21l0 0m-163 -145l0 0m101 90l-1 1m-18 100l2 0m8 -80l0 0m61 62l-1 2m13 -156l0 0m-153 66l-1 0m65 -48l-2 0m-48 5l0 1m87 54l-2 0m-70 58l0 0m140 -73l1 1m-171 -29l0 0m49 139l0 0m-21 6l0 2m141 -83l0 0m-182 -112l0 1m147 115l1 2m15 74l0 2m-149 -174l0 2m108 59l0 0m-84 34l1 1m-19 5l2 1m-9 -54l-2 1m1 72l0 0m140 26l-2 1m-147 -164l2 1m72 141l0 0m68 -120l-1 0m51 171l0 0m-63 -156l-1 1m-75 0l1 1m15 62l0 1m-30 43l0 0m89 -79l0 0m3 -29l-1 0m32 10l-1 1m-25 -50l0 0m-1 91l0 1m15 4l0 2m-88 -56l-2 1m69 108l-1 1m-42 -152l-1 2m29 27l-1 0m-52 -43l-1 1m-12 200l0 0m104 -156l0 0m-89 15l-1 1m103 32l1 2m21 6l0 0m-114 83l-2 0m-50 -184l1 0m50 205l1 1m37 -168l-1 1m-57 138l0 0m132 -42l0 0m-185 -90l0 1m28 8l1 1m52 40l-2 0m66 -5l1 1m-122 -76l1 1m66 44l-1 2m-45 -55l0 0m19 101l-1 1m-66 50l0 0m18 -5l-1 0m14 -4l0 2m-28 17l0 0m21 -3l0 2m167 -133l0 0m-122 154l1 2m-74 14l1 0m116 -180l0 0m-54 130l1 2m20 -67l-1 2m-3 -5l0 1m-41 -42l0 0m140 106l-1 1m18 -59l0 2m-137 59l0 0m-8 6l1 2m13 -114l0 0m111 117l0 1m-53 -154l0 0m-30 106l1 0m71 -26l0 1m-67 -3l-1 0m-12 -24l0 0m10 75l-1 2m76 47l0 0m-43 -104l2 1m-126 115l0 0m117 -119l-1 2m-76 66l0 0m13 -134l0 0m61 113l0 2m-44 53l1 0m97 -113l-1 1m20 120l2 1m-25 -154l1 0m-4 22l0 0m-75 -59l-1 1m16 176l0 0m84 -10l2 0m-188 -102l2 0m-4 92l0 2m75 -48l0 2m-77 -14l0 1m161 -77l1 2m-37 103l0 0m-71 -11l1 1m28 22l0 0m33 -144l-1 1" stroke="#c7c6e4" stroke-width="5"/>
<path d="M1293 1298l0 0m-56 124l0 0m6 -125l-1 0m-122 -54l1 1m122 81l0 0m-22 86l-1 1m-21 19l1 1m73 -36l0 1m0 -136l0 0m-77 58l0 0m25 21l0 1m-67 25l1 0m26 -61l0 1m-61 -10l0 0m29 82l-1 0m93 -125l0 0m41 73l0 1m-53 -72l0 0m11 156l0 0m-16 -11l0 1m-118 -68l-1 0m143 -57l0 0m-47 110l0 0m-31 -76l0 0m65 22l1 0m42 47l1 1m-85 49l0 1m47 -164l0 0m-55 43l0 1m-21 75l0 0m-68 -22l0 0m30 -39l0 0m111 -61l0 0m4 128l1 1" stroke="#cba78b" stroke-width="6.9"/>
<path d="M1098 1416l0 1m42 -50l1 0m-12 14l0 0m84 27l0 0m-6 -105l-1 0m-60 -44l0 0m-31 127l0 0m43 -54l0 1m60 -80l0 0m40 61l1 0m-171 -75l1 0m52 181l0 0m-28 -81l0 0m39 65l0 0m-37 -157l0 1m83 -21l0 0m-92 109l0 0m107 46l1 0m15 49l1 1m-37 -105l-1 1m70 -26l0 1m-42 8l0 0m37 101l0 0m-123 -35l0 0m9 -147l0 0m-51 162l0 0m128 -139l0 0" stroke="#cba78b" stroke-width="7.9"/>
<path d="M1091 1320l0 0m129 19l-1 0m73 -101l-1 1m-131 42l-1 0m38 112l0 1m22 -89l-1 1m-21 -1l0 1m-57 40l1 0m58 -120l1 0m-35 143l1 0m58 4l0 0m-30 -6l0 0m-18 -65l0 1m-34 46l0 0m-30 -91l0 0m11 -17l0 1m123 38l0 1m1 128l0 0m-127 -135l1 1m174 93l-1 1m-41 11l1 1m-16 -92l1 0m-59 -57l0 0m-17 72l0 1m-54 95l-1 0m110 -77l1 0m63 -6l0 1m-104 -24l0 0m6 120l0 1" stroke="#cba78b" stroke-width="8.9"/>
<path d="M1293 1298l0 0m-56 124l0 0m6 -125l-1 0m-122 -54l1 1m122 81l0 0m-22 86l-1 1m-21 19l1 1m73 -36l0 1m0 -136l0 0m-77 58l0 0m25 21l0 1m-67 25l1 0m26 -61l0 1m-61 -10l0 0m29 82l-1 0m93 -125l0 0m41 73l0 1m-53 -72l0 0m11 156l0 0m-16 -11l0 1m-118 -68l-1 0m143 -57l0 0m-47 110l0 0m-31 -76l0 0m65 22l1 0m42 47l1 1m-85 49l0 1m47 -164l0 0m-55 43l0 1m-21 75l0 0m-68 -22l0 0m30 -39l0 0m111 -61l0 0m4 128l1 1" stroke="#b68862" stroke-width="4.1"/>
<path d="M1098 1416l0 1m42 -50l1 0m-12 14l0 0m84 27l0 0m-6 -105l-1 0m-60 -44l0 0m-31 127l0 0m43 -54l0 1m60 -80l0 0m40 61l1 0m-171 -75l1 0m52 181l0 0m-28 -81l0 0m39 65l0 0m-37 -157l0 1m83 -21l0 0m-92 109l0 0m107 46l1 0m15 49l1 1m-37 -105l-1 1m70 -26l0 1m-42 8l0 0m37 101l0 0m-123 -35l0 0m9 -147l0 0m-51 162l0 0m128 -139l0 0" stroke="#b68862" stroke-width="4.7"/>
<path d="M1091 1320l0 0m129 19l-1 0m73 -101l-1 1m-131 42l-1 0m38 112l0 1m22 -89l-1 1m-21 -1l0 1m-57 40l1 0m58 -120l1 0m-35 143l1 0m58 4l0 0m-30 -6l0 0m-18 -65l0 1m-34 46l0 0m-30 -91l0 0m11 -17l0 1m123 38l0 1m1 128l0 0m-127 -135l1 1m174 93l-1 1m-41 11l1 1m-16 -92l1 0m-59 -57l0 0m-17 72l0 1m-54 95l-1 0m110 -77l1 0m63 -6l0 1m-104 -24l0 0m6 120l0 1" stroke="#b68862" stroke-width="5.3"/>
<path d="M1195 1329l-1 1m-33 84l0 0m6 -119l1 0m95 -2l0 0m-115 -13l-1 0m40 38l0 0m-71 -23l0 0m129 36l0 0m38 -53l1 0m-47 -20l0 0m-124 98l0 0m14 57l-1 0m99 -141l0 0m9 47l0 0m-56 -20l0 0m43 -36l0 0m-64 108l-1 1m37 -4l1 0m18 -46l-1 0m67 -5l0 0m-149 -34l1 1m-25 71l1 0m-10 -13l1 1m48 -37l0 1m55 42l0 0m57 46l0 0m-55 0l0 0m-29 9l0 0m-1 -49l0 1m22 -64l0 1" stroke="#bc8e6a" stroke-width="6.5"/>
<path d="M1142 1284l1 0m118 135l-1 0m-126 -10l0 0m81 -113l1 0m17 77l0 0m25 41l0 0m-45 -132l1 1m-20 109l0 0m49 6l0 1m-108 -9l0 0m23 -9l-1 1m55 -117l0 0m-64 71l0 0m76 38l0 0m-102 -144l-1 0m47 92l0 0m37 -59l0 1m-85 50l0 0m2 58l0 0m-19 -127l0 0m192 93l0 0m-114 40l0 0m-77 -14l-1 0m105 -138l0 0m-45 127l-1 0m131 -124l0 1m-41 117l-1 0m22 -1l0 1m-121 -16l0 0m-20 -98l0 0m74 186l1 1m-37 -129l0 0m-5 66l0 1m89 -72l-1 0m-115 128l0 1m-6 -23l-1 0m-32 -5l-1 0m105 -80l0 1m-110 80l-1 0m162 14l-1 0m-109 -100l0 0" stroke="#bc8e6a" stroke-width="7.4"/>
<path d="M1250 1424l0 0m-5 -15l0 1m-71 15l0 0m59 -172l1 0m-115 68l1 0m-27 -70l0 0m21 177l0 0m129 -10l0 0m17 -14l1 1m11 28l0 0m-36 -47l0 0m-2 -91l-1 1m-38 21l0 1m-49 95l-1 0m65 12l0 0m-3 -130l0 0m-115 69l0 0m98 29l0 0m-97 -126l0 0m89 60l0 1m-40 -84l0 0m11 90l0 0m1 -66l0 0m-55 -10l0 1m185 107l1 0m-114 17l-1 1m116 -98l-1 0m-159 20l0 0m164 -67l-1 1" stroke="#bc8e6a" stroke-width="8.3"/>
<path d="M1195 1329l-1 1m-33 84l0 0m6 -119l1 0m95 -2l0 0m-115 -13l-1 0m40 38l0 0m-71 -23l0 0m129 36l0 0m38 -53l1 0m-47 -20l0 0m-124 98l0 0m14 57l-1 0m99 -141l0 0m9 47l0 0m-56 -20l0 0m43 -36l0 0m-64 108l-1 1m37 -4l1 0m18 -46l-1 0m67 -5l0 0m-149 -34l1 1m-25 71l1 0m-10 -13l1 1m48 -37l0 1m55 42l0 0m57 46l0 0m-55 0l0 0m-29 9l0 0m-1 -49l0 1m22 -64l0 1" stroke="#9c6642" stroke-width="4"/>
<path d="M1142 1284l1 0m118 135l-1 0m-126 -10l0 0m81 -113l1 0m17 77l0 0m25 41l0 0m-45 -132l1 1m-20 109l0 0m49 6l0 1m-108 -9l0 0m23 -9l-1 1m55 -117l0 0m-64 71l0 0m76 38l0 0m-102 -144l-1 0m47 92l0 0m37 -59l0 1m-85 50l0 0m2 58l0 0m-19 -127l0 0m192 93l0 0m-114 40l0 0m-77 -14l-1 0m105 -138l0 0m-45 127l-1 0m131 -124l0 1m-41 117l-1 0m22 -1l0 1m-121 -16l0 0m-20 -98l0 0m74 186l1 1m-37 -129l0 0m-5 66l0 1m89 -72l-1 0m-115 128l0 1m-6 -23l-1 0m-32 -5l-1 0m105 -80l0 1m-110 80l-1 0m162 14l-1 0m-109 -100l0 0" stroke="#9c6642" stroke-width="4.6"/>
<path d="M1250 1424l0 0m-5 -15l0 1m-71 15l0 0m59 -172l1 0m-115 68l1 0m-27 -70l0 0m21 177l0 0m129 -10l0 0m17 -14l1 1m11 28l0 0m-36 -47l0 0m-2 -91l-1 1m-38 21l0 1m-49 95l-1 0m65 12l0 0m-3 -130l0 0m-115 69l0 0m98 29l0 0m-97 -126l0 0m89 60l0 1m-40 -84l0 0m11 90l0 0m1 -66l0 0m-55 -10l0 1m185 107l1 0m-114 17l-1 1m116 -98l-1 0m-159 20l0 0m164 -67l-1 1" stroke="#9c6642" stroke-width="5.2"/>
<path d="M1092 1410l3 0m186 -15l2 3m-53 -69l-1 3m8 -47l1 2m-117 70l-1 5m21 46l3 1m62 -129l4 2m-36 27l-2 3m-30 -83l0 1m150 9l1 3m-22 51l0 0m-164 137l3 0m10 -86l0 0m136 -104l2 1m-147 84l-3 2m99 66l1 2m-9 2l1 1m-1 12l-2 1m90 -90l0 0m-198 87l-1 1m23 -62l-1 2m175 -60l1 3m-37 20l-4 1m-98 -17l1 0m1 9l-3 1m126 -40l0 0m-99 151l0 0m21 -147l-2 2m68 -17l-2 2m20 128l0 0m-30 46l0 0m-68 -159l1 3m31 25l0 1m-82 -7l-1 1m66 110l0 0m-85 7l0 0" stroke="#9192cf" stroke-width="2.6"/>
<path d="M1231 1379l0 1m8 -153l1 2m-99 142l-3 0m23 -12l-3 1m51 34l3 1m-101 -24l1 0m172 11l2 1m-89 -54l-2 1m-72 85l0 1m153 6l1 1m-10 -98l-1 4m-9 -37l-2 1m-62 57l1 0m-26 30l0 0m-27 -130l4 1m-15 87l0 0m-36 -93l0 1m155 49l4 2m-78 41l-4 2m18 57l-3 1m85 -37l-3 3m-133 -58l3 2m135 -42l2 1m-68 167l1 0m60 -117l2 2m-96 87l3 1m28 -25l3 0" stroke="#9192cf" stroke-width="3"/>
<path d="M1126 1333l2 3m153 -37l-1 4m-21 55l-1 3m-167 -6l0 0m159 4l4 1m-19 -88l0 0m-75 47l3 3m-2 -36l1 3m47 41l-4 3m21 43l1 0m-83 43l0 0m-51 -6l0 1m128 -119l-5 0m-43 59l1 2m30 38l2 2m39 -149l0 1m-38 49l2 0m-107 2l-4 0m16 33l0 1m130 58l0 2m-53 -59l-1 5m59 71l0 0m-39 21l0 0m10 -48l0 0m38 -20l1 0m-144 63l0 0m172 -193l2 1m-52 93l1 1m-126 -53l-2 3m-10 91l-1 0m66 -79l-4 0m68 -43l0 0m-25 67l1 2m58 37l-1 1m-61 20l-1 4m29 -90l-1 3m-20 -15l0 0" stroke="#9192cf" stroke-width="3.4"/>
</g></g>
<rect x="1091.4" y="1229.9" width="200.6" height="201.5" fill="none" stroke="#111" stroke-width="2.2"/>
<rect x="1242.2" y="1410.8" width="38.4" height="4.6" fill="#000" stroke="none" stroke-width="0"/>
<clipPath id="c201"><rect x="1090.4" y="1453" width="202.6" height="203.3"/></clipPath>
<g clip-path="url(#c201)"><g filter="url(#ib)" stroke-linecap="round" fill="none">
<rect x="1090.4" y="1453" width="202.6" height="203.3" fill="#dcc5b6" stroke="none" stroke-width="0"/>
<path d="M1132 1595l1 1m11 -110l-2 4m103 121l2 3m-35 -53l-5 2m-33 36l-2 0m2 25l0 6m36 -115l2 4m77 2l-1 2m-75 -41l-1 1m82 105l-2 3m-142 25l4 0m101 -164l1 2m-154 101l-3 0m-10 33l2 4m153 -105l0 0m-96 30l0 0m90 62l0 0m-16 -100l0 1m-96 90l-4 4m52 34l0 1m-82 -63l0 1m90 -16l-1 2m-4 122l3 2" stroke="#fbf8f6" stroke-width="7"/>
<path d="M1215 1478l0 3m-8 -17l1 4m2 142l-1 3m-11 -162l-2 1m55 198l0 0m36 -194l-1 5m-85 70l0 1m63 30l0 1m-38 -2l0 0m-116 -49l0 0m41 81l-3 4m4 -38l1 2m-55 15l2 0m107 39l0 1m-60 -143l-3 2m-28 8l-1 2m63 21l-5 1m-33 -56l-1 0m16 13l2 2m-25 45l0 1m40 99l0 0m119 -1l-1 1m-196 -35l1 1m143 -25l-4 4m-44 5l1 4m-90 81l-6 1m8 -176l1 3m152 172l-3 3m-30 -191l3 4m16 33l3 4m-157 4l0 0m181 47l2 1" stroke="#fbf8f6" stroke-width="9"/>
<path d="M1101 1518l0 0m131 28l1 4m-145 -56l0 3m75 118l-2 0m-40 6l0 1m57 -168l0 0m54 96l6 0m-3 -21l1 0m-64 -79l1 1m-60 92l-5 1m119 -23l3 5m5 4l-4 1m-95 54l1 4m91 62l0 0m-53 -23l-1 3m88 -148l0 0m12 80l0 1m-119 40l-1 4m80 -126l1 2m60 136l-1 2m-182 -32l0 5m-18 -122l0 0m82 -12l2 1m8 9l-1 4m-53 169l5 3m-13 -67l3 5m62 -92l0 5m89 37l-4 4m-71 75l1 0m72 -22l-5 1m6 -60l0 0m-163 -51l3 1m86 44l-2 0m75 -32l0 0m-41 101l4 4" stroke="#fbf8f6" stroke-width="11"/>
<path d="M1112 1648l2 3m114 -141l9 1m-28 130l-9 1m-44 -11l2 0m75 -178l4 2m-92 56l-8 0m64 114l1 0m21 -155l1 6m-68 39l1 6m6 -66l1 1m-58 -4l-2 3m151 155l0 2m-126 -151l-1 0m2 12l2 4m101 160l-2 1m1 -127l-8 8m-114 -53l0 3m154 90l4 1m-31 6l-8 4m-94 -19l0 1m95 28l-5 2m-122 -84l-6 4m4 104l4 3m183 38l1 1m-109 -61l2 6m0 -140l-3 3m36 5l-6 7m-77 16l0 2m54 25l5 4m-51 99l5 1m138 -16l-7 3m-170 -132l-8 5m190 176l1 1m-190 -149l2 2m110 126l3 1m-41 -159l7 4m40 77l-6 3m-107 47l9 6m121 -13l4 3m-48 52l-2 4m90 -122l4 2m-151 40l7 4m17 -26l-1 0m137 -38l2 3m-53 127l-1 2m-29 -100l9 1m-101 -39l-7 2m15 77l-1 2m107 -97l-6 6m12 -29l-2 0m-68 114l-1 2m69 26l7 9m-103 -90l5 8m27 -67l3 2m-26 129l-1 0m148 -152l-9 4m-102 68l-8 1m65 98l5 1m8 15l0 2m-46 -178l7 6m-73 152l-7 1m-6 -94l2 1m33 103l5 5m101 -145l-2 7m-78 -26l1 4m10 27l8 0m-52 116l0 2m71 1l8 5m-144 -124l-7 4m43 86l5 1m144 40l-1 1m-74 11l0 0m-27 -197l3 0m-86 26l-1 3m10 -2l-7 5m63 -11l-4 7m7 90l-3 0m-10 -67l-1 0m106 145l0 0m27 -147l-6 2m-104 101l0 0m-53 -126l3 8m101 33l3 2m-38 130l-4 9m111 -71l-4 3m-101 -11l-3 6m13 32l-1 3" stroke="#bb9078" stroke-width="2.9"/>
<path d="M1194 1626l0 2m-92 -174l-7 2m58 129l-3 5m53 -28l1 5m34 44l-2 10m-41 34l2 3m-19 -169l-4 2m98 -26l4 7m-51 104l-3 1m-22 -122l5 3m-106 193l5 7m151 -56l-6 9m-26 -143l0 0m39 35l10 2m-77 32l0 0m-89 69l0 6m17 43l3 5m30 -3l1 5m89 -128l3 7m6 -89l0 1m-64 191l0 2m-67 -42l4 4m110 -35l-5 6m-69 -15l0 2m26 -56l0 1m91 -40l-5 3m-70 2l11 0m-40 -4l2 7m27 34l-2 8m66 -16l5 1m-57 18l-4 8m-7 -12l-1 1m-61 -51l0 1m-19 87l-6 1m14 -35l-8 8m23 -78l-2 1m50 17l2 5m-35 10l0 0m61 66l0 3m-56 44l-2 9m13 -10l1 0m37 41l4 3m-116 -134l0 0m51 -44l0 0m-17 15l-5 6m45 41l5 6m90 -49l4 1m-72 27l7 2m71 -46l0 0m-195 87l-1 3m159 -75l2 1m43 2l-8 6m-53 104l-6 5m-76 -32l3 5m-39 -118l2 5m145 95l7 0m2 -59l3 0m-123 89l7 6m125 -42l-1 0m-50 -20l9 2m54 -76l1 0m-118 48l1 3m-67 117l5 9m67 -161l-4 5m79 103l0 8m-76 -109l0 0m42 132l-4 3m73 -65l0 2m-105 35l-3 0m1 -76l1 6m-72 14l10 2m5 -64l8 1m-16 169l0 2m116 -65l0 8m-141 -28l-6 4m141 18l-6 6m47 -45l0 1m-99 -42l-5 4m75 -20l1 11m29 32l7 3m-152 83l3 1m57 25l0 1m16 -154l-1 2" stroke="#bb9078" stroke-width="3.6"/>
<path d="M1162 1612l-2 6m88 -127l0 1m-145 101l1 7m104 -140l-2 3m80 -13l5 2m-146 159l-3 5m23 -46l1 3m-26 8l6 7m90 47l-6 0m45 10l1 1m-4 -185l8 1m-110 173l3 8m-73 -27l6 3m122 -37l1 3m13 12l1 5m-46 -8l-2 8m-72 -35l8 4m69 -21l-2 2m72 -106l2 8m3 44l7 8m-174 19l0 1m112 112l6 0m-49 -38l3 4m-47 20l-2 2m102 -165l2 9m-43 180l-2 4m42 -103l-3 2m34 33l6 2m-4 -88l0 5m-96 111l-5 4m40 -122l3 2m7 -7l2 6m-107 141l-2 4m-13 -66l0 1m80 -48l2 1m-29 -42l-1 1m93 -33l5 8m-31 123l-4 7m48 15l0 5m-100 -55l5 4m-31 -75l0 5m67 89l0 1m62 -102l3 6m-60 109l0 1m-109 27l6 1m166 -97l-6 5m-122 69l0 9m54 -28l-8 7m81 -124l-8 2m-154 23l-2 3m29 -16l0 0m43 0l-6 0m90 89l-1 4m-148 29l-1 3m179 -95l-1 2m-96 40l3 9m-85 -35l-7 0m108 48l6 2m-110 12l-4 4m85 46l5 0" stroke="#bb9078" stroke-width="4.3"/>
<path d="M1115 1584l1 3m68 -69l3 0m-63 -4l2 2m100 -47l-3 2m-65 63l0 0m-20 89l-3 0m107 -98l1 2m-49 79l0 0m-98 -154l2 1m39 47l1 1m86 11l-1 0m-99 139l-3 3m31 -177l0 3m136 134l-1 0m-171 30l1 2m50 -93l2 2m16 47l-1 1m9 9l0 0m-53 36l-4 0m141 -27l-2 3m-164 -100l0 0m140 88l-4 2m-92 -134l-1 1m-26 -31l-1 1" stroke="#c8a692" stroke-width="7"/>
<path d="M1261 1655l1 0m-93 -2l1 1m49 1l0 0m39 -36l-2 3m14 -12l-1 1m-82 -51l1 1m-79 -7l1 1m5 89l-1 0m107 -15l-3 1m-11 -115l1 1m-102 24l0 0m111 46l0 1m-90 -78l0 0m18 24l1 2m-44 -51l-3 1m136 171l0 0m-129 -29l0 0m51 -136l0 0m32 151l-2 0m58 -168l-1 1" stroke="#c8a692" stroke-width="9"/>
<path d="M1108 1458l2 3m-13 117l-1 3m103 -17l2 0m-47 -49l-3 1m3 104l1 0m52 -147l2 3m57 176l-1 1m-150 -120l-2 0m178 -33l1 3m-87 33l-3 1m-3 -26l-1 1m28 76l-1 1m43 20l-1 1m-107 -135l-1 3m-5 71l1 1m20 91l-2 4" stroke="#c8a692" stroke-width="11"/>
<path d="M1183 1576l-2 0m-57 -77l0 0m26 128l0 0m35 -62l0 1m66 55l0 0m-154 -71l0 1m105 53l-2 0m29 50l1 2m-141 -199l0 1m193 175l-1 1m-60 -94l0 1m-115 11l0 0m63 -70l0 2m112 30l0 1m-117 48l-1 1m98 3l0 0m-156 -110l1 0m89 141l0 1m-43 -130l-1 1m115 57l0 0m-42 -7l-1 1m-81 116l0 1m74 -158l0 0m-82 74l-1 1m112 24l0 2m-154 75l-1 0m77 -102l-1 1m59 45l0 1m-19 -39l-1 1m-116 70l0 0m196 12l0 2m-113 -4l2 0m54 -5l-1 0m-37 -39l0 0m80 -47l1 1m-72 -89l2 1m73 57l0 1m-91 115l0 0m56 -1l0 0m-130 16l-1 1m96 -57l0 1m82 -52l2 0m7 -14l0 2m-22 -45l-1 1m-37 24l0 0m31 -20l-1 2m-60 4l-1 1m7 139l0 0m-19 -21l-1 1m-85 -21l-1 0m123 -149l1 0m17 6l1 1m27 37l-1 0m-144 71l-1 0m61 -3l0 1m-89 -59l0 0m181 -49l1 0m8 8l0 1m-129 29l1 1m106 -13l1 1m-59 10l-1 1m70 -14l1 1m-116 36l0 1m-1 94l0 0m-48 -11l-2 0m49 0l0 0m-14 -82l2 1m46 72l-1 0m-76 -33l0 1m173 -71l0 0m-85 8l-2 0m-88 113l0 0m89 -3l-1 1m-29 17l0 1m-8 -93l-2 1m109 34l1 0m-188 26l0 0m110 -9l0 0m7 -39l-1 1m-89 -49l1 2m178 73l0 0" stroke="#7575b3" stroke-width="6.8"/>
<path d="M1194 1461l-1 1m-73 167l0 0m65 -64l-1 1m-59 1l2 0m116 -112l2 1m2 43l-1 1m21 -30l0 0m21 -12l-1 1m-49 194l-1 0m-106 -137l0 0m136 65l0 1m-60 21l0 1m-10 -2l0 0m70 14l0 1m-6 -36l0 0m-98 -124l0 0m132 60l0 2m-7 131l1 1m-129 -27l0 2m39 -163l0 2m-51 79l0 2m67 -46l0 0m-92 130l-1 1m134 27l-1 1m-62 -13l0 0m2 -14l0 0m-47 -123l0 1m88 -29l1 0m-125 37l-1 1m136 104l-2 0m35 -44l1 1m-45 -47l0 1m19 11l0 0m-27 -79l0 0m-74 34l0 0m108 110l0 0m-153 -79l1 1m161 46l-2 0m-175 -61l0 0m14 8l0 1m105 -9l-1 1m-3 35l0 1m-37 -99l1 1m103 201l0 0m-39 -18l0 1m-80 19l0 0m59 -31l-1 1m-105 -174l-2 1m60 17l1 1m29 70l-1 1m-50 -17l0 1m-40 55l-1 1m34 14l1 1m93 -41l2 1m-121 68l0 0m14 -137l0 0m135 157l-1 1m-81 -50l0 0m-81 -139l0 0m-13 49l0 0m43 -26l1 1m131 96l0 0m-99 -41l0 1m-42 84l-1 1m138 31l1 0m33 -95l0 0m-54 -92l1 0m52 126l-1 2m-6 9l0 0m-43 44l-1 1m27 -143l0 0m-120 -23l0 1m33 1l0 0m-54 171l1 0m141 -175l0 2m-137 95l1 1m92 74l1 1m42 -77l0 1m-42 -32l0 1m9 -1l-2 1m37 93l0 1m-55 -159l0 0m-122 67l-1 1m94 87l1 2m-80 -87l0 0m120 48l0 0m-49 -67l0 0m-71 88l1 1m9 -15l0 0m132 16l-1 1m-75 -82l-1 0m-78 -32l0 0m100 17l-1 1m21 -10l-1 0m27 -13l0 0m-33 -17l-1 1m-108 -24l0 0m64 84l0 0m129 23l0 1m-20 55l0 0m-113 19l1 0m-29 -4l-1 0m-21 -53l-1 0m13 -53l2 0m11 29l0 1m93 2l0 1m49 47l0 0m-153 -78l0 0" stroke="#7575b3" stroke-width="7.6"/>
<path d="M1286 1514l0 0m-160 116l1 0m89 -35l0 0m-59 -140l0 2m23 51l1 1m-39 -43l0 0m-25 187l0 1m55 -144l-2 0m118 -16l-1 2m-124 102l1 1m71 -105l1 0m-73 34l-1 2m-36 -60l0 0m79 68l-1 0m83 120l0 1m-23 -125l2 0m6 -37l-1 0m-108 82l0 0m94 46l-1 0m4 -96l0 0m-107 55l0 1m-22 -26l1 1m110 62l0 0m-143 -24l0 0m95 -49l0 1m-38 -45l-1 1m-32 33l-1 0m7 66l0 0m134 -57l0 1m5 -21l0 1m-124 -7l1 1m25 117l1 2m63 -58l0 1m38 -3l0 0m-30 -113l-1 0m29 155l0 0m-107 -89l1 1m89 78l0 0m-47 -119l-1 0m-94 2l1 2m11 97l1 1m138 -29l0 1m-124 -7l0 1m152 22l-2 0m-187 -82l-1 1m38 -23l0 1m150 114l0 0m-170 -44l0 0m173 -24l0 0m-29 93l-2 1m-74 24l0 0m-65 -19l0 0m163 -159l-1 1m-79 185l-1 2m79 -189l-1 0m-190 74l1 0m195 4l0 0m-93 72l0 2m-41 -75l0 0m33 109l-1 0m51 -43l1 2m-21 2l-1 1m-57 -47l0 0m33 -94l0 1m-2 126l-1 0m-73 -124l2 0m170 111l0 0m-179 -25l0 0m11 -104l-2 0m60 97l0 1m51 -68l-1 0m24 -19l1 1m-17 129l1 0m-81 -11l1 1m-43 -74l0 1m32 33l0 2m74 -90l0 0m74 7l0 0m-37 43l0 0m40 0l-2 0m-9 104l1 1m-199 -158l1 1m187 149l0 0m-157 -147l-2 1m91 112l-1 1m88 -50l0 0m-64 109l0 0m-2 -9l0 2m-63 -3l-1 1m100 -26l1 0m-124 -47l0 0" stroke="#7575b3" stroke-width="8.4"/>
<path d="M1183 1576l-2 0m-57 -77l0 0m26 128l0 0m35 -62l0 1m66 55l0 0m-154 -71l0 1m105 53l-2 0m29 50l1 2m-141 -199l0 1m193 175l-1 1m-60 -94l0 1m-115 11l0 0m63 -70l0 2m112 30l0 1m-117 48l-1 1m98 3l0 0m-156 -110l1 0m89 141l0 1m-43 -130l-1 1m115 57l0 0m-42 -7l-1 1m-81 116l0 1m74 -158l0 0m-82 74l-1 1m112 24l0 2m-154 75l-1 0m77 -102l-1 1m59 45l0 1m-19 -39l-1 1m-116 70l0 0m196 12l0 2m-113 -4l2 0m54 -5l-1 0m-37 -39l0 0m80 -47l1 1m-72 -89l2 1m73 57l0 1m-91 115l0 0m56 -1l0 0m-130 16l-1 1m96 -57l0 1m82 -52l2 0m7 -14l0 2m-22 -45l-1 1m-37 24l0 0m31 -20l-1 2m-60 4l-1 1m7 139l0 0m-19 -21l-1 1m-85 -21l-1 0m123 -149l1 0m17 6l1 1m27 37l-1 0m-144 71l-1 0m61 -3l0 1m-89 -59l0 0m181 -49l1 0m8 8l0 1m-129 29l1 1m106 -13l1 1m-59 10l-1 1m70 -14l1 1m-116 36l0 1m-1 94l0 0m-48 -11l-2 0m49 0l0 0m-14 -82l2 1m46 72l-1 0m-76 -33l0 1m173 -71l0 0m-85 8l-2 0m-88 113l0 0m89 -3l-1 1m-29 17l0 1m-8 -93l-2 1m109 34l1 0m-188 26l0 0m110 -9l0 0m7 -39l-1 1m-89 -49l1 2m178 73l0 0" stroke="#8d8dc3" stroke-width="3.4"/>
<path d="M1194 1461l-1 1m-73 167l0 0m65 -64l-1 1m-59 1l2 0m116 -112l2 1m2 43l-1 1m21 -30l0 0m21 -12l-1 1m-49 194l-1 0m-106 -137l0 0m136 65l0 1m-60 21l0 1m-10 -2l0 0m70 14l0 1m-6 -36l0 0m-98 -124l0 0m132 60l0 2m-7 131l1 1m-129 -27l0 2m39 -163l0 2m-51 79l0 2m67 -46l0 0m-92 130l-1 1m134 27l-1 1m-62 -13l0 0m2 -14l0 0m-47 -123l0 1m88 -29l1 0m-125 37l-1 1m136 104l-2 0m35 -44l1 1m-45 -47l0 1m19 11l0 0m-27 -79l0 0m-74 34l0 0m108 110l0 0m-153 -79l1 1m161 46l-2 0m-175 -61l0 0m14 8l0 1m105 -9l-1 1m-3 35l0 1m-37 -99l1 1m103 201l0 0m-39 -18l0 1m-80 19l0 0m59 -31l-1 1m-105 -174l-2 1m60 17l1 1m29 70l-1 1m-50 -17l0 1m-40 55l-1 1m34 14l1 1m93 -41l2 1m-121 68l0 0m14 -137l0 0m135 157l-1 1m-81 -50l0 0m-81 -139l0 0m-13 49l0 0m43 -26l1 1m131 96l0 0m-99 -41l0 1m-42 84l-1 1m138 31l1 0m33 -95l0 0m-54 -92l1 0m52 126l-1 2m-6 9l0 0m-43 44l-1 1m27 -143l0 0m-120 -23l0 1m33 1l0 0m-54 171l1 0m141 -175l0 2m-137 95l1 1m92 74l1 1m42 -77l0 1m-42 -32l0 1m9 -1l-2 1m37 93l0 1m-55 -159l0 0m-122 67l-1 1m94 87l1 2m-80 -87l0 0m120 48l0 0m-49 -67l0 0m-71 88l1 1m9 -15l0 0m132 16l-1 1m-75 -82l-1 0m-78 -32l0 0m100 17l-1 1m21 -10l-1 0m27 -13l0 0m-33 -17l-1 1m-108 -24l0 0m64 84l0 0m129 23l0 1m-20 55l0 0m-113 19l1 0m-29 -4l-1 0m-21 -53l-1 0m13 -53l2 0m11 29l0 1m93 2l0 1m49 47l0 0m-153 -78l0 0" stroke="#8d8dc3" stroke-width="3.8"/>
<path d="M1286 1514l0 0m-160 116l1 0m89 -35l0 0m-59 -140l0 2m23 51l1 1m-39 -43l0 0m-25 187l0 1m55 -144l-2 0m118 -16l-1 2m-124 102l1 1m71 -105l1 0m-73 34l-1 2m-36 -60l0 0m79 68l-1 0m83 120l0 1m-23 -125l2 0m6 -37l-1 0m-108 82l0 0m94 46l-1 0m4 -96l0 0m-107 55l0 1m-22 -26l1 1m110 62l0 0m-143 -24l0 0m95 -49l0 1m-38 -45l-1 1m-32 33l-1 0m7 66l0 0m134 -57l0 1m5 -21l0 1m-124 -7l1 1m25 117l1 2m63 -58l0 1m38 -3l0 0m-30 -113l-1 0m29 155l0 0m-107 -89l1 1m89 78l0 0m-47 -119l-1 0m-94 2l1 2m11 97l1 1m138 -29l0 1m-124 -7l0 1m152 22l-2 0m-187 -82l-1 1m38 -23l0 1m150 114l0 0m-170 -44l0 0m173 -24l0 0m-29 93l-2 1m-74 24l0 0m-65 -19l0 0m163 -159l-1 1m-79 185l-1 2m79 -189l-1 0m-190 74l1 0m195 4l0 0m-93 72l0 2m-41 -75l0 0m33 109l-1 0m51 -43l1 2m-21 2l-1 1m-57 -47l0 0m33 -94l0 1m-2 126l-1 0m-73 -124l2 0m170 111l0 0m-179 -25l0 0m11 -104l-2 0m60 97l0 1m51 -68l-1 0m24 -19l1 1m-17 129l1 0m-81 -11l1 1m-43 -74l0 1m32 33l0 2m74 -90l0 0m74 7l0 0m-37 43l0 0m40 0l-2 0m-9 104l1 1m-199 -158l1 1m187 149l0 0m-157 -147l-2 1m91 112l-1 1m88 -50l0 0m-64 109l0 0m-2 -9l0 2m-63 -3l-1 1m100 -26l1 0m-124 -47l0 0" stroke="#8d8dc3" stroke-width="4.2"/>
<path d="M1149 1643l2 1m32 -159l1 1m-15 4l0 1m15 155l0 0m25 -96l2 1m-108 52l0 0m101 -135l1 0m-84 146l0 0m118 -67l0 0m-4 59l-2 1m-56 -121l2 2m-53 -27l1 0m143 138l1 2m18 -141l-1 3m-6 14l-2 0m-147 128l0 0m104 11l2 0m-31 -53l-1 2m26 40l3 0m-135 -16l-1 0m103 -119l0 1m-104 122l-1 2m65 59l-1 1m26 -1l0 0m-30 -93l0 1m-63 87l-3 0m153 -55l-2 1m-99 -54l-1 0m53 111l0 3m-42 -42l-1 0m29 9l0 1m-71 -19l0 3m7 -10l0 0m121 -68l-2 1m-4 89l-2 0m-62 24l0 2m-46 -189l-1 1m-27 58l-1 0m57 71l0 0m-40 -115l-1 1m139 29l2 0m-129 27l0 0m144 30l1 1m-25 10l0 2m-36 79l-1 1m47 -58l0 0m-137 47l3 1m-2 -157l-2 1m169 27l1 1m-131 104l0 2m-1 -6l2 1m-52 -154l0 0m113 76l-1 0m-76 -61l0 0m127 67l0 0m-67 29l1 1m-77 42l1 1m78 -116l0 0m-69 115l1 0m54 -120l2 2m-40 -6l1 2m98 146l0 0m-129 9l0 1m-3 -46l0 0m107 -41l-1 1m-83 85l-2 2m-16 -179l2 1m148 60l-1 2m-35 -20l-1 1m-22 81l1 0m40 53l0 0" stroke="#1c1f62" stroke-width="3.6"/>
<path d="M1246 1633l0 1m-120 -126l2 2m100 -35l1 1m-74 -9l2 1m135 129l-1 2m-76 47l-1 0m5 -1l0 2m-39 -106l-1 1m-79 55l0 1m139 -29l1 1m10 -94l-1 1m-125 163l0 0m101 -137l0 3m-64 29l-1 0m52 82l1 1m-95 -133l-2 0m62 141l3 1m-53 -81l0 0m52 66l0 2m-55 -115l0 0m120 54l0 0m-42 -60l2 1m57 19l-2 2m-143 111l-1 1m17 -174l0 1m154 204l3 0m-41 -195l-3 0m-60 135l0 1m39 -41l0 1m-138 49l1 0m144 -108l2 0m5 145l0 0m-107 -53l0 1m85 54l-1 0m-70 -4l-1 1m94 4l0 0m45 -175l0 2m-171 115l-2 1m114 22l-1 1m-48 43l0 0m-24 -60l0 1m-25 -75l1 1m46 -55l-1 0m-70 37l0 1m152 145l-2 0m-67 -192l-1 1m17 22l-1 1m63 87l-2 1m-127 59l-2 1m70 -115l-2 0m84 104l0 3m-33 -79l1 1m36 -77l-1 2m-59 35l2 1m-20 93l-2 0m66 -55l0 1m-128 37l1 1m32 -59l0 0m64 8l-1 0m40 54l0 0m-8 44l-2 2m-116 -85l1 1m102 -8l0 0m-148 115l0 0m76 -74l-1 0m-45 2l0 0m63 -15l0 1" stroke="#1c1f62" stroke-width="4.5"/>
<path d="M1166 1620l-1 2m95 -170l-1 1m-27 3l0 0m-74 56l-1 1m104 80l0 0m-34 -53l-1 1m-82 -63l3 1m34 87l-1 1m35 -68l3 2m-34 128l0 0m16 -169l-1 1m64 170l0 2m-146 -176l1 1m150 195l0 3m-153 -59l0 3m181 -28l-1 1m-180 -77l2 1m145 -34l1 2m-133 116l0 1m27 -98l1 2m30 104l0 1m84 37l0 2m-152 -62l0 2m-32 41l0 0m141 -49l1 1m-62 -3l1 1m32 -33l0 1m-111 -20l0 0m127 129l-2 1m18 1l1 2m-11 -96l0 0m-73 -90l-1 2m88 113l3 1m-36 64l0 2m-5 -175l-1 2m-107 13l0 1m163 175l1 2m-116 -27l1 0m-22 17l1 0m23 -5l0 1m94 -105l-2 1m-39 -67l0 0m-94 -20l-1 1m-5 142l1 1m17 18l0 0m106 -125l0 0m-118 141l1 2m-4 -169l1 2m164 110l0 1m-26 -56l0 1m38 -53l-2 0m-47 13l0 1m39 164l0 1m9 -102l0 0m-179 9l1 2m198 -55l2 1m-18 145l-2 1m-165 -159l1 1m50 -24l1 0m39 103l2 0m89 32l0 3m-88 -36l-1 0" stroke="#1c1f62" stroke-width="5.4"/>
</g></g>
<rect x="1091.4" y="1454" width="200.6" height="201.3" fill="none" stroke="#111" stroke-width="2.2"/>
<rect x="1242.2" y="1634.7" width="38.4" height="4.6" fill="#000" stroke="none" stroke-width="0"/>
<clipPath id="c102"><rect x="1325.9" y="1228.9" width="203.3" height="203.5"/></clipPath>
<g clip-path="url(#c102)"><g filter="url(#ib)" stroke-linecap="round" fill="none">
<rect x="1325.9" y="1228.9" width="203.3" height="203.5" fill="#e7e4ec" stroke="none" stroke-width="0"/>
<path d="M1415 1330l0 1m37 26l2 2m-84 -117l1 1m3 22l-1 1m-23 151l1 1m173 -76l0 0m-44 20l1 0m-121 69l-1 0m35 -106l-1 0m118 -44l-3 1" stroke="#f1eff4" stroke-width="14"/>
<path d="M1354 1355l0 1m48 -1l2 0m50 -22l-2 3m-81 -85l-2 3m24 115l-1 1m14 46l1 0m10 -60l-2 3m64 -9l-1 3m-117 -113l-3 1m17 127l3 2m83 -98l1 1m-107 40l-1 1m52 87l-4 1m115 -30l-2 3m-181 -110l3 2m114 60l-3 0m76 -96l0 2m-100 36l0 0m104 67l4 1m-32 -30l0 2" stroke="#f1eff4" stroke-width="18"/>
<path d="M1455 1315l0 2m54 80l0 3m19 -64l-2 0m-106 57l0 3m37 -123l0 0m-132 10l0 1m174 -2l-2 2m-172 63l0 1m99 78l0 0m-1 -144l-3 1m5 88l0 0m107 -141l-2 0m-37 199l0 1m-13 -34l-3 1m-21 -112l0 0" stroke="#f1eff4" stroke-width="22"/>
<path d="M1516 1376l0 1m-134 -138l1 1m24 128l0 0m68 -102l-1 0m26 -8l0 0m-95 -11l0 1m-11 92l-2 1m24 -90l1 2m-72 168l-1 1m109 -32l0 1m37 -47l0 0m-160 34l0 0m129 -50l-2 1m-24 34l-1 2m-61 -50l0 0m-35 72l1 1m42 -129l2 2m75 71l0 2m-92 24l0 1m128 -5l-2 1m-148 -48l0 0m157 12l-1 0m-148 -64l-1 1m96 148l0 0m38 -43l0 1m-103 -112l0 1m-23 -17l1 1m110 195l0 0m-143 -77l2 1m149 20l2 1m-31 -143l0 0m-65 166l0 0m-24 -58l1 2m12 20l-2 1m18 -30l-2 0m7 -21l-1 2m99 19l0 0m-76 99l-2 0m54 -43l-1 1m-21 42l1 1m-47 -41l2 0m-10 -48l0 1m10 -91l-1 0m-37 -24l-2 1m18 144l0 0m25 -90l1 0m120 90l0 0m-41 -29l-1 1m-29 -119l0 0m40 206l-2 0m-18 -79l1 0m-94 39l-2 1m93 -129l-2 1m-82 110l-1 0m139 25l1 1m-165 -70l0 0m-16 -16l0 0m51 -83l2 1m-6 169l-1 0m111 -27l1 1m-3 3l1 1m-73 -19l0 1m84 57l-2 0m-117 -163l-2 0m104 169l1 1m19 -128l0 0m-97 122l0 0m-37 -100l-1 1m61 38l-1 0m78 -68l0 2m-122 -48l2 2m103 123l0 1m-169 -141l0 0m177 53l-1 1m-179 -21l0 2m28 -28l-2 1m31 127l0 1m118 -130l1 2m-90 64l-1 1m-43 -35l2 1m134 126l-2 1m-92 -98l0 0m-12 53l1 1m-37 -116l-1 1m96 104l0 1m-85 -86l0 0m58 89l0 1m-38 -40l0 1m9 -18l0 1m28 76l0 1m-54 -140l0 0m131 147l0 2m-182 28l2 0m170 -108l0 0m15 135l0 1m-77 -32l0 2m-99 -89l1 1m135 -21l-1 0m-89 62l-1 0m146 -48l0 0m-73 80l0 0m-118 -153l0 0m190 180l0 0m-29 -23l0 2m-155 -48l-1 1m49 29l0 0m43 -105l0 1m-20 78l0 0m-28 18l1 1m103 -20l0 0m-9 42l0 1m4 -121l1 0m-117 -18l1 2m155 109l2 0m-9 -56l2 1m-197 -23l-1 0m103 6l0 1m-70 82l0 0m3 -1l-1 2m131 -69l1 2m-51 19l0 0m75 98l0 0m-123 -185l-1 1m57 158l-1 0m78 -46l-1 1m-185 -14l0 0m154 -83l-1 2" stroke="#b3b5e0" stroke-width="6.9"/>
<path d="M1495 1370l-2 0m-86 26l0 0m-22 -103l0 2m63 92l0 0m65 15l-2 2m-59 -64l1 1m57 -65l1 0m-138 103l2 1m123 -45l0 0m-53 54l-1 0m-80 -122l0 2m119 25l1 1m-23 -26l-1 0m-63 86l-2 1m74 -49l0 0m19 116l-2 0m24 -73l-2 0m-158 33l-2 1m75 -2l2 1m-65 -157l2 1m51 37l-1 1m-38 43l-1 2m82 -42l-1 1m6 161l1 0m-69 -108l-1 0m8 52l-1 1m-49 -67l0 2m68 78l0 1m26 -63l-1 0m-80 74l-1 0m-33 -71l0 1m-2 22l0 0m76 55l0 0m20 -123l0 2m49 -48l1 1m17 189l-1 2m-143 -84l0 0m94 -16l0 0m77 -92l0 0m-186 33l1 1m13 43l-1 2m159 -54l-2 0m-29 72l0 2m-73 -9l-1 1m5 25l0 0m-75 14l0 0m144 9l0 0m58 -25l1 0m-31 -22l-1 1m-169 51l-2 1m164 -116l-1 0m-46 -2l1 2m18 30l-2 2m44 94l0 1m-76 -116l0 0m62 120l0 2m-29 8l0 1m52 -79l0 1m-166 23l1 1m155 11l1 0m-32 -41l-1 2m-30 61l0 1m-79 18l-1 0m128 -146l2 1m38 172l-2 0m-144 -45l0 0m18 -93l-1 0m57 -50l0 0m-89 80l-1 2m97 80l-1 0m54 -141l-2 1m-45 77l0 0m-112 -56l1 0m131 66l-2 1m-129 -124l1 0m53 66l-1 1m36 -47l0 0m-33 6l0 0m70 93l0 2m-89 34l0 1m93 -109l0 0m26 1l0 0m-124 -44l-1 2m20 180l1 2m13 -126l0 0m56 -27l-2 2m-33 69l1 2m8 -105l-1 0m-30 133l-2 0m38 -90l0 0m-124 0l0 1m81 122l2 1m-92 -125l1 1m136 104l0 0m-94 -1l-1 2m51 -42l1 1m-69 -79l-2 0m94 168l0 0m-87 -100l0 0m103 48l1 1m-13 -29l0 1m56 57l1 1m-156 -131l-1 0m85 135l-2 0m54 -31l1 0m-71 -74l0 2m-83 34l0 0m115 73l-1 1m32 -134l0 2m-115 101l0 0m-25 -52l0 0m78 -84l0 0m62 -19l0 0m8 31l-2 0m-1 165l0 2m-7 -189l0 0m-96 119l0 1m134 16l-1 1m-142 -64l1 0m5 54l2 1m117 -84l1 1m-10 -56l1 2m19 143l-1 1m-77 18l-1 0m-78 -95l2 0m6 6l0 0m112 -30l1 0m20 -12l0 2m-18 -8l-2 1m-24 174l0 1m-101 -135l0 0m106 103l1 1m50 1l0 1m-22 28l1 0m-46 -113l-2 1m-31 -67l1 1m87 30l-1 1m-127 138l0 0m162 -24l0 1m-60 -103l2 0m61 81l-1 1m-74 -7l2 1" stroke="#b3b5e0" stroke-width="7.8"/>
<path d="M1328 1262l0 0m94 40l-2 1m-16 -58l1 1m121 64l1 0m-136 100l1 1m120 -29l-1 1m-147 -107l0 2m-7 120l0 0m123 -102l0 0m43 -49l1 2m-21 164l-2 1m-8 3l0 0m-165 -37l-1 1m146 -119l0 1m-19 143l2 2m2 -178l1 2m-121 146l1 1m131 -59l-2 0m-69 68l0 1m78 -80l0 1m-44 11l-1 0m-24 -5l1 1m45 116l-2 1m34 -16l0 2m-33 -58l-1 1m-129 -75l2 1m42 47l1 0m46 66l-2 1m-27 -59l-1 1m-45 -112l1 1m101 172l0 0m60 -25l-2 1m-83 4l-2 0m-77 -137l-1 0m173 141l0 0m-114 -107l-2 0m-54 -23l-1 1m160 -9l1 0m-3 40l1 0m-103 -8l1 0m124 55l0 1m-16 20l2 0m17 52l0 0m-188 -151l-1 1m179 165l0 0m-180 -177l1 0m171 107l0 0m-179 -46l1 0m108 -61l-2 1m-90 179l0 0m20 -80l-2 1m103 -19l-1 1m-3 49l1 0m9 -51l-1 0m-65 -104l1 1m36 170l0 0m-28 -61l-1 0m9 53l0 0m-62 -10l2 0m80 -50l1 2m-107 97l1 1m21 -104l1 1m68 44l0 0m14 15l0 0m-32 34l0 0m23 -127l-2 0m-64 108l0 1m95 12l0 1m-42 -74l-1 1m44 -23l0 1m-93 -52l1 0m105 159l-2 1m-17 -101l2 1m-63 104l0 1m68 -71l0 2m18 11l0 0m22 -76l1 0m-78 -9l1 0m-32 9l1 0m-11 -50l1 1m-52 138l0 0m33 -56l0 2m145 -49l1 1m-103 -6l2 1m-41 94l-1 0m132 -145l-1 0m-155 -4l2 1m53 98l0 2m-73 86l1 1m183 -138l-1 1m-34 52l0 1m24 78l0 0m-25 -31l0 1m-51 -62l1 0m-90 26l2 0m145 -99l0 0m11 -17l0 0m15 34l0 0m3 42l0 0m15 29l-2 0m-67 -70l0 1m65 29l-1 0m-122 112l-2 1m34 -2l1 1m24 7l-2 0m-95 -93l0 1m0 46l0 2m12 -80l-1 2m123 27l-1 2m-7 -86l1 0m28 73l-1 1m-157 -6l-1 0m174 -73l0 0m-30 17l1 0m7 55l0 0m-30 86l1 1m-87 13l-2 1m-40 -108l1 1m41 66l-1 0m76 -117l0 1m-114 33l-1 0m127 38l1 1m35 -51l1 2m-22 100l0 0m-147 -128l-1 0m183 91l1 1m-181 -79l-2 1m63 87l1 1m-37 -49l-2 1m55 -8l-1 1m88 126l0 0" stroke="#b3b5e0" stroke-width="8.7"/>
<path d="M1516 1376l0 1m-134 -138l1 1m24 128l0 0m68 -102l-1 0m26 -8l0 0m-95 -11l0 1m-11 92l-2 1m24 -90l1 2m-72 168l-1 1m109 -32l0 1m37 -47l0 0m-160 34l0 0m129 -50l-2 1m-24 34l-1 2m-61 -50l0 0m-35 72l1 1m42 -129l2 2m75 71l0 2m-92 24l0 1m128 -5l-2 1m-148 -48l0 0m157 12l-1 0m-148 -64l-1 1m96 148l0 0m38 -43l0 1m-103 -112l0 1m-23 -17l1 1m110 195l0 0m-143 -77l2 1m149 20l2 1m-31 -143l0 0m-65 166l0 0m-24 -58l1 2m12 20l-2 1m18 -30l-2 0m7 -21l-1 2m99 19l0 0m-76 99l-2 0m54 -43l-1 1m-21 42l1 1m-47 -41l2 0m-10 -48l0 1m10 -91l-1 0m-37 -24l-2 1m18 144l0 0m25 -90l1 0m120 90l0 0m-41 -29l-1 1m-29 -119l0 0m40 206l-2 0m-18 -79l1 0m-94 39l-2 1m93 -129l-2 1m-82 110l-1 0m139 25l1 1m-165 -70l0 0m-16 -16l0 0m51 -83l2 1m-6 169l-1 0m111 -27l1 1m-3 3l1 1m-73 -19l0 1m84 57l-2 0m-117 -163l-2 0m104 169l1 1m19 -128l0 0m-97 122l0 0m-37 -100l-1 1m61 38l-1 0m78 -68l0 2m-122 -48l2 2m103 123l0 1m-169 -141l0 0m177 53l-1 1m-179 -21l0 2m28 -28l-2 1m31 127l0 1m118 -130l1 2m-90 64l-1 1m-43 -35l2 1m134 126l-2 1m-92 -98l0 0m-12 53l1 1m-37 -116l-1 1m96 104l0 1m-85 -86l0 0m58 89l0 1m-38 -40l0 1m9 -18l0 1m28 76l0 1m-54 -140l0 0m131 147l0 2m-182 28l2 0m170 -108l0 0m15 135l0 1m-77 -32l0 2m-99 -89l1 1m135 -21l-1 0m-89 62l-1 0m146 -48l0 0m-73 80l0 0m-118 -153l0 0m190 180l0 0m-29 -23l0 2m-155 -48l-1 1m49 29l0 0m43 -105l0 1m-20 78l0 0m-28 18l1 1m103 -20l0 0m-9 42l0 1m4 -121l1 0m-117 -18l1 2m155 109l2 0m-9 -56l2 1m-197 -23l-1 0m103 6l0 1m-70 82l0 0m3 -1l-1 2m131 -69l1 2m-51 19l0 0m75 98l0 0m-123 -185l-1 1m57 158l-1 0m78 -46l-1 1m-185 -14l0 0m154 -83l-1 2" stroke="#c6c7e6" stroke-width="3.8"/>
<path d="M1495 1370l-2 0m-86 26l0 0m-22 -103l0 2m63 92l0 0m65 15l-2 2m-59 -64l1 1m57 -65l1 0m-138 103l2 1m123 -45l0 0m-53 54l-1 0m-80 -122l0 2m119 25l1 1m-23 -26l-1 0m-63 86l-2 1m74 -49l0 0m19 116l-2 0m24 -73l-2 0m-158 33l-2 1m75 -2l2 1m-65 -157l2 1m51 37l-1 1m-38 43l-1 2m82 -42l-1 1m6 161l1 0m-69 -108l-1 0m8 52l-1 1m-49 -67l0 2m68 78l0 1m26 -63l-1 0m-80 74l-1 0m-33 -71l0 1m-2 22l0 0m76 55l0 0m20 -123l0 2m49 -48l1 1m17 189l-1 2m-143 -84l0 0m94 -16l0 0m77 -92l0 0m-186 33l1 1m13 43l-1 2m159 -54l-2 0m-29 72l0 2m-73 -9l-1 1m5 25l0 0m-75 14l0 0m144 9l0 0m58 -25l1 0m-31 -22l-1 1m-169 51l-2 1m164 -116l-1 0m-46 -2l1 2m18 30l-2 2m44 94l0 1m-76 -116l0 0m62 120l0 2m-29 8l0 1m52 -79l0 1m-166 23l1 1m155 11l1 0m-32 -41l-1 2m-30 61l0 1m-79 18l-1 0m128 -146l2 1m38 172l-2 0m-144 -45l0 0m18 -93l-1 0m57 -50l0 0m-89 80l-1 2m97 80l-1 0m54 -141l-2 1m-45 77l0 0m-112 -56l1 0m131 66l-2 1m-129 -124l1 0m53 66l-1 1m36 -47l0 0m-33 6l0 0m70 93l0 2m-89 34l0 1m93 -109l0 0m26 1l0 0m-124 -44l-1 2m20 180l1 2m13 -126l0 0m56 -27l-2 2m-33 69l1 2m8 -105l-1 0m-30 133l-2 0m38 -90l0 0m-124 0l0 1m81 122l2 1m-92 -125l1 1m136 104l0 0m-94 -1l-1 2m51 -42l1 1m-69 -79l-2 0m94 168l0 0m-87 -100l0 0m103 48l1 1m-13 -29l0 1m56 57l1 1m-156 -131l-1 0m85 135l-2 0m54 -31l1 0m-71 -74l0 2m-83 34l0 0m115 73l-1 1m32 -134l0 2m-115 101l0 0m-25 -52l0 0m78 -84l0 0m62 -19l0 0m8 31l-2 0m-1 165l0 2m-7 -189l0 0m-96 119l0 1m134 16l-1 1m-142 -64l1 0m5 54l2 1m117 -84l1 1m-10 -56l1 2m19 143l-1 1m-77 18l-1 0m-78 -95l2 0m6 6l0 0m112 -30l1 0m20 -12l0 2m-18 -8l-2 1m-24 174l0 1m-101 -135l0 0m106 103l1 1m50 1l0 1m-22 28l1 0m-46 -113l-2 1m-31 -67l1 1m87 30l-1 1m-127 138l0 0m162 -24l0 1m-60 -103l2 0m61 81l-1 1m-74 -7l2 1" stroke="#c6c7e6" stroke-width="4.3"/>
<path d="M1328 1262l0 0m94 40l-2 1m-16 -58l1 1m121 64l1 0m-136 100l1 1m120 -29l-1 1m-147 -107l0 2m-7 120l0 0m123 -102l0 0m43 -49l1 2m-21 164l-2 1m-8 3l0 0m-165 -37l-1 1m146 -119l0 1m-19 143l2 2m2 -178l1 2m-121 146l1 1m131 -59l-2 0m-69 68l0 1m78 -80l0 1m-44 11l-1 0m-24 -5l1 1m45 116l-2 1m34 -16l0 2m-33 -58l-1 1m-129 -75l2 1m42 47l1 0m46 66l-2 1m-27 -59l-1 1m-45 -112l1 1m101 172l0 0m60 -25l-2 1m-83 4l-2 0m-77 -137l-1 0m173 141l0 0m-114 -107l-2 0m-54 -23l-1 1m160 -9l1 0m-3 40l1 0m-103 -8l1 0m124 55l0 1m-16 20l2 0m17 52l0 0m-188 -151l-1 1m179 165l0 0m-180 -177l1 0m171 107l0 0m-179 -46l1 0m108 -61l-2 1m-90 179l0 0m20 -80l-2 1m103 -19l-1 1m-3 49l1 0m9 -51l-1 0m-65 -104l1 1m36 170l0 0m-28 -61l-1 0m9 53l0 0m-62 -10l2 0m80 -50l1 2m-107 97l1 1m21 -104l1 1m68 44l0 0m14 15l0 0m-32 34l0 0m23 -127l-2 0m-64 108l0 1m95 12l0 1m-42 -74l-1 1m44 -23l0 1m-93 -52l1 0m105 159l-2 1m-17 -101l2 1m-63 104l0 1m68 -71l0 2m18 11l0 0m22 -76l1 0m-78 -9l1 0m-32 9l1 0m-11 -50l1 1m-52 138l0 0m33 -56l0 2m145 -49l1 1m-103 -6l2 1m-41 94l-1 0m132 -145l-1 0m-155 -4l2 1m53 98l0 2m-73 86l1 1m183 -138l-1 1m-34 52l0 1m24 78l0 0m-25 -31l0 1m-51 -62l1 0m-90 26l2 0m145 -99l0 0m11 -17l0 0m15 34l0 0m3 42l0 0m15 29l-2 0m-67 -70l0 1m65 29l-1 0m-122 112l-2 1m34 -2l1 1m24 7l-2 0m-95 -93l0 1m0 46l0 2m12 -80l-1 2m123 27l-1 2m-7 -86l1 0m28 73l-1 1m-157 -6l-1 0m174 -73l0 0m-30 17l1 0m7 55l0 0m-30 86l1 1m-87 13l-2 1m-40 -108l1 1m41 66l-1 0m76 -117l0 1m-114 33l-1 0m127 38l1 1m35 -51l1 2m-22 100l0 0m-147 -128l-1 0m183 91l1 1m-181 -79l-2 1m63 87l1 1m-37 -49l-2 1m55 -8l-1 1m88 126l0 0" stroke="#c6c7e6" stroke-width="4.8"/>
<path d="M1363 1408l-1 0m46 -171l0 1m30 54l0 1m-16 96l0 0m-22 -120l0 0m77 101l0 0m11 -46l0 0m-91 -3l0 0m28 1l0 0m-51 -55l1 1m155 -36l0 1m-6 68l0 0m-82 119l0 1m-35 -100l0 0m-68 30l0 1m71 -35l0 1m-55 -77l0 0m83 101l0 0m-77 27l0 0m66 -102l1 0m-20 17l1 0" stroke="#cfb198" stroke-width="6.7"/>
<path d="M1441 1246l0 0m14 93l1 0m51 -26l0 0m-13 -71l0 0m-117 127l-1 0m139 -23l0 0m-157 41l-1 1m145 47l0 1m-164 -126l0 1m159 -35l-1 0m-39 -8l0 1m61 29l0 0m-141 -64l0 0m-3 30l0 0m-49 162l-1 1m77 2l1 0m2 -80l0 0m75 21l1 0m36 -26l1 1m-114 64l0 0m-34 -107l0 0m25 -20l-1 1m93 18l1 0m10 -43l-1 1m-140 115l0 1m134 -27l0 0m-57 16l0 0m53 49l1 1m38 -66l0 0m-111 -49l0 0" stroke="#cfb198" stroke-width="7.6"/>
<path d="M1437 1370l0 1m-111 -22l0 1m160 37l0 0m-152 -36l0 1m136 -117l0 0m-92 -7l1 0m91 65l0 0m-32 1l-1 1m47 57l0 0m-37 -113l-1 1m65 22l0 0m-34 -23l1 1m-19 101l0 1m-60 89l-1 1m-39 -1l0 1m36 -6l1 0m-27 -76l-1 1m110 -80l1 0m34 58l1 0" stroke="#cfb198" stroke-width="8.5"/>
<path d="M1363 1408l-1 0m46 -171l0 1m30 54l0 1m-16 96l0 0m-22 -120l0 0m77 101l0 0m11 -46l0 0m-91 -3l0 0m28 1l0 0m-51 -55l1 1m155 -36l0 1m-6 68l0 0m-82 119l0 1m-35 -100l0 0m-68 30l0 1m71 -35l0 1m-55 -77l0 0m83 101l0 0m-77 27l0 0m66 -102l1 0m-20 17l1 0" stroke="#bb906c" stroke-width="4"/>
<path d="M1441 1246l0 0m14 93l1 0m51 -26l0 0m-13 -71l0 0m-117 127l-1 0m139 -23l0 0m-157 41l-1 1m145 47l0 1m-164 -126l0 1m159 -35l-1 0m-39 -8l0 1m61 29l0 0m-141 -64l0 0m-3 30l0 0m-49 162l-1 1m77 2l1 0m2 -80l0 0m75 21l1 0m36 -26l1 1m-114 64l0 0m-34 -107l0 0m25 -20l-1 1m93 18l1 0m10 -43l-1 1m-140 115l0 1m134 -27l0 0m-57 16l0 0m53 49l1 1m38 -66l0 0m-111 -49l0 0" stroke="#bb906c" stroke-width="4.6"/>
<path d="M1437 1370l0 1m-111 -22l0 1m160 37l0 0m-152 -36l0 1m136 -117l0 0m-92 -7l1 0m91 65l0 0m-32 1l-1 1m47 57l0 0m-37 -113l-1 1m65 22l0 0m-34 -23l1 1m-19 101l0 1m-60 89l-1 1m-39 -1l0 1m36 -6l1 0m-27 -76l-1 1m110 -80l1 0m34 58l1 0" stroke="#bb906c" stroke-width="5.1"/>
<path d="M1473 1352l0 0m-112 -110l-1 0m64 61l0 1m105 81l0 0m-201 -17l0 0m182 2l0 0m-14 7l0 1m-140 -140l-1 1m143 -9l0 1m-28 27l0 0m-94 61l0 0m120 100l1 0m15 -68l0 0m-80 -84l1 1m46 54l0 1m-75 67l0 0m105 -125l-1 1m-35 -30l1 0m11 8l-1 1m-147 41l0 0m183 116l0 1m9 -39l0 0m-92 62l-1 0" stroke="#c29a78" stroke-width="6.4"/>
<path d="M1382 1320l0 0m70 6l0 1m-16 -48l0 1m69 26l-1 1m-105 96l0 1m70 -27l1 1m16 -43l0 1m-87 -23l1 0m11 74l1 0m16 11l0 1m46 -78l0 0m-136 27l-1 0m125 -52l0 0m-16 22l0 0m-50 44l1 0m-3 -88l0 0m39 50l-1 0m-97 17l1 1m43 -35l0 0m77 -9l-1 1m-30 90l0 0m-81 -39l0 0m-11 -95l0 0m162 126l0 1m-44 -39l-1 0m-111 83l0 0" stroke="#c29a78" stroke-width="7.3"/>
<path d="M1354 1380l0 0m-11 -142l0 1m116 3l-1 1m-69 184l-1 0m29 -132l0 0m83 -24l0 0m-44 6l-1 1m-75 -41l1 0m111 116l1 1m-145 -108l0 0m122 161l0 0m16 -17l0 0m-136 40l0 0m11 -45l0 1m-17 45l-1 0m177 -16l-1 0m-179 -99l0 0m65 75l0 1m-79 -60l0 1m83 -89l1 0m-23 63l0 1" stroke="#c29a78" stroke-width="8.2"/>
<path d="M1473 1352l0 0m-112 -110l-1 0m64 61l0 1m105 81l0 0m-201 -17l0 0m182 2l0 0m-14 7l0 1m-140 -140l-1 1m143 -9l0 1m-28 27l0 0m-94 61l0 0m120 100l1 0m15 -68l0 0m-80 -84l1 1m46 54l0 1m-75 67l0 0m105 -125l-1 1m-35 -30l1 0m11 8l-1 1m-147 41l0 0m183 116l0 1m9 -39l0 0m-92 62l-1 0" stroke="#a5724c" stroke-width="4"/>
<path d="M1382 1320l0 0m70 6l0 1m-16 -48l0 1m69 26l-1 1m-105 96l0 1m70 -27l1 1m16 -43l0 1m-87 -23l1 0m11 74l1 0m16 11l0 1m46 -78l0 0m-136 27l-1 0m125 -52l0 0m-16 22l0 0m-50 44l1 0m-3 -88l0 0m39 50l-1 0m-97 17l1 1m43 -35l0 0m77 -9l-1 1m-30 90l0 0m-81 -39l0 0m-11 -95l0 0m162 126l0 1m-44 -39l-1 0m-111 83l0 0" stroke="#a5724c" stroke-width="4.5"/>
<path d="M1354 1380l0 0m-11 -142l0 1m116 3l-1 1m-69 184l-1 0m29 -132l0 0m83 -24l0 0m-44 6l-1 1m-75 -41l1 0m111 116l1 1m-145 -108l0 0m122 161l0 0m16 -17l0 0m-136 40l0 0m11 -45l0 1m-17 45l-1 0m177 -16l-1 0m-179 -99l0 0m65 75l0 1m-79 -60l0 1m83 -89l1 0m-23 63l0 1" stroke="#a5724c" stroke-width="5.1"/>
<path d="M1395 1291l0 1m-19 42l-2 3m-23 -24l-1 3m-26 78l2 4m62 -167l-3 4m44 172l-1 2m-13 -58l-3 2m52 46l-2 3m-104 -48l3 1m30 -55l-1 4m73 127l3 2m-12 -181l-4 0m-101 97l0 0m158 -39l-3 1m-153 2l3 3m-2 5l0 1m144 -89l-2 1m-45 44l0 3m48 77l-2 0m-80 -57l0 1m23 61l1 5m78 44l4 2m-139 -104l0 2m11 -6l2 1m18 31l-1 2m-82 71l2 0m146 -170l0 1m-121 179l4 3m47 -77l0 1m-46 41l2 2m-24 12l-2 3m60 4l-2 2m136 7l0 4m-197 -197l-2 4m180 70l2 0m-174 -22l0 0m78 -28l3 2" stroke="#8e93d1" stroke-width="2.6"/>
<path d="M1327 1304l1 3m138 -29l1 1m52 -26l3 2m-176 -29l-4 3m38 23l3 2m84 29l-2 0m-124 135l0 0m138 -29l0 2m4 33l3 1m-85 -78l1 1m-75 44l-2 2m171 -139l0 2m-11 -19l-2 0m-26 40l1 1m12 100l1 4m24 -129l-1 0m-165 139l2 1m48 13l-3 3m-30 -89l2 3m-1 -91l-1 1m117 119l-1 1m-92 -110l0 3m88 109l2 1m-72 49l0 0m-10 -28l-1 4m89 -60l-5 1m3 67l1 1m-143 -41l2 2m176 -81l0 1m-115 143l2 2m-46 -119l0 4m163 -13l1 1m-120 -10l1 1m7 146l0 1" stroke="#8e93d1" stroke-width="3"/>
<path d="M1399 1229l0 2m-18 54l2 3m121 37l0 0m-120 -60l1 0m112 -36l-3 3m-42 173l-2 2m-87 -121l1 1m-30 28l-2 1m110 -28l-1 1m77 66l-1 4m-96 -74l3 1m80 64l0 0m12 79l0 0m-183 -38l-2 2m156 15l0 2m-20 -99l2 4m-21 -51l0 0m-55 -4l1 2m23 28l-1 1m6 122l1 2m63 -11l0 0m24 -122l0 2m18 77l1 4m-123 -38l-2 3m101 8l1 2m-184 10l3 3m61 -92l0 3m4 -28l0 0m-25 72l0 1" stroke="#8e93d1" stroke-width="3.4"/>
</g></g>
<rect x="1326.9" y="1229.9" width="201.3" height="201.5" fill="none" stroke="#111" stroke-width="2.2"/>
<rect x="1478.4" y="1410.8" width="38.4" height="4.6" fill="#000" stroke="none" stroke-width="0"/>
<clipPath id="c202"><rect x="1325.9" y="1453" width="203.3" height="203.3"/></clipPath>
<g clip-path="url(#c202)"><g filter="url(#ib)" stroke-linecap="round" fill="none">
<rect x="1325.9" y="1453" width="203.3" height="203.3" fill="#dcdcee" stroke="none" stroke-width="0"/>
<path d="M1349 1476l-1 1m180 37l2 1m-26 143l0 1m-155 -171l2 1m-24 -18l2 1m7 113l0 4m36 0l-1 2m47 -12l0 1m51 14l2 3m53 -119l1 4m-140 128l1 1m-52 -42l-1 1m50 -5l-1 1m140 -72l2 0m-70 139l0 0m55 -25l-3 1m-165 -72l0 0m130 36l2 1" stroke="#e9e8f2" stroke-width="9.7"/>
<path d="M1524 1539l3 0m-161 14l-2 1m107 -97l1 1m-108 71l0 2m84 -78l-4 0m-118 68l0 3m36 68l3 2m104 -38l-1 1m-43 -29l1 0m9 83l1 2m-61 37l1 2m23 -115l2 0m44 -41l-2 3m-79 -8l-1 0m118 97l-1 1m36 16l-1 1m-11 -9l0 4m-27 42l-1 2m-85 -154l2 1m93 38l-2 0m39 94l-1 0m-162 -165l0 1m-36 189l0 0m166 -31l1 3m-18 -159l0 1m-43 162l0 1m78 -2l-1 2m-122 -75l0 0m47 23l-2 0m-58 28l0 0m63 23l0 0m35 -114l1 1m-99 -13l3 1m34 -15l-1 1m-57 18l0 0m0 152l0 0" stroke="#e9e8f2" stroke-width="13"/>
<path d="M1482 1584l1 1m22 -67l0 1m-2 -12l0 0m-19 -49l1 1m-129 107l1 1m169 -96l3 2m-64 177l-1 1m-134 -89l0 3m80 81l0 3m90 -1l-3 1m-58 -34l-1 0m-3 -126l1 3m-70 13l0 0m-40 -23l0 0m85 104l0 0m-38 -13l4 2" stroke="#e9e8f2" stroke-width="16.3"/>
<path d="M1347 1569l0 0m60 -1l0 0m-21 76l-1 1m75 -46l0 0m-8 -117l0 1m70 137l0 0m-159 7l-1 0m66 -17l1 0m-42 -34l0 2m-5 -29l0 0m-33 -74l1 1m125 42l0 0m-25 -38l0 2m-33 158l0 0m30 12l0 1m-31 -50l-2 0m-53 7l1 1m28 -46l2 0m80 -51l0 0m10 91l1 1m18 -37l1 0m4 82l1 1m-18 -112l0 0m-90 3l0 1m-13 86l0 1m-1 2l0 0m9 -174l-1 0m-16 168l0 0m-29 -174l0 1m9 181l-1 0m77 -174l-1 1m-96 168l0 0m150 9l1 2m-160 -34l1 0m113 -24l0 0m-25 -105l0 2m89 18l0 0m-144 14l0 0m84 -12l0 1m29 -23l0 0m-142 156l-1 1m164 -92l0 0m-147 -46l0 1m66 -1l0 0m-62 48l0 1m147 -63l0 0m-61 119l-1 2m65 -39l0 0m27 31l0 1m0 -103l0 0m-150 151l0 2m-40 -42l-2 1m162 27l2 1m-72 -175l0 0m102 38l1 1m-99 15l0 2m-61 72l-2 0m-28 -67l-1 1m160 -71l0 0m-91 157l1 1m-82 -6l0 0m148 -54l0 0m-9 -24l-1 1m-68 -45l0 0m102 176l0 1m-129 -8l0 1m96 -118l1 1m-6 114l0 2m-74 -110l1 1m10 106l0 0m-29 -111l0 2m87 -40l0 1m70 154l2 0m-21 -133l-1 2m-64 101l1 1m-51 -102l0 0m-45 -25l-2 1m109 153l-1 2m46 -4l-1 0m-120 -108l-1 2m68 -86l0 0m82 198l0 1m-160 -110l-1 1m96 53l-2 0m32 -68l0 2m-143 125l1 1m47 -129l-1 2m114 -36l1 1m-183 -4l1 0m62 -14l0 0m-68 103l-2 0m121 -20l-1 1m54 -39l1 0m-2 -74l0 1m-17 186l0 0m-12 -88l-1 1m-26 30l0 0m-38 -14l0 0m86 8l-1 2m-20 -8l-1 0m-37 -100l-1 0m35 151l1 1m10 -123l1 1m-138 -4l1 1m90 139l1 1m58 -110l0 1m-87 102l0 0m67 -78l-1 1m-79 -4l0 1m17 63l0 1m-46 -115l0 0m147 16l0 0m8 129l1 0m-135 -143l1 0m135 40l0 0m-113 -74l0 0m-74 30l0 0m63 102l0 1m110 -7l-1 0m7 52l-1 0m-135 -176l0 0m55 137l0 2m8 -105l-1 0m46 156l-1 1m-74 -14l-1 1m-70 -8l-1 0m178 -141l0 1m-176 76l0 0m62 35l1 1m-7 -66l1 0m4 0l-1 1m95 76l-1 1m-20 -162l1 0" stroke="#a0a7dc" stroke-width="7.1"/>
<path d="M1333 1592l0 0m21 -43l0 1m-18 77l-1 1m108 -89l0 2m-74 65l0 0m163 21l-1 1m-188 -3l-1 1m67 24l1 1m-18 -162l1 1m98 121l1 1m-61 -16l0 2m-42 -134l-2 0m103 174l0 0m-29 -143l1 0m-23 64l0 0m46 -58l0 0m-19 -28l0 0m-106 7l-1 0m54 18l1 1m-30 26l-1 1m58 -50l0 0m-32 135l0 0m-58 -30l0 0m-10 40l1 1m95 -171l1 1m52 200l-1 1m-144 -2l0 0m116 -152l0 0m-92 60l0 1m30 -5l-1 1m21 -89l-1 2m-58 7l1 0m64 105l1 0m-20 46l0 0m-38 -36l-2 1m93 17l0 2m-81 -53l1 1m23 -8l0 1m49 -80l-1 0m-83 46l-1 1m-29 0l0 1m131 39l0 1m-137 93l1 2m142 -130l0 0m-79 74l0 0m-19 -133l0 1m-51 0l1 1m107 -13l0 1m8 72l-1 2m10 -46l2 0m-30 72l0 1m-24 -20l1 1m-73 29l-1 1m46 58l-1 1m95 -144l1 1m-85 49l1 1m53 -44l2 0m-96 13l0 1m120 65l0 1m-69 18l0 0m-4 -35l-1 1m9 -15l0 0m137 49l-2 1m-41 -68l-1 2m-40 128l0 0m-24 -14l0 0m-4 -148l0 0m2 147l-1 2m-58 8l-1 1m17 -31l2 1m-37 -162l-1 1m75 87l0 0m79 27l0 1m-107 -20l0 0m-35 43l-1 1m111 -80l1 0m-5 115l1 0m-82 1l0 0m-47 17l0 1m2 -50l0 0m192 -84l-2 0m-202 132l-1 0m183 1l1 1m-107 -17l1 1m67 26l1 0m48 -64l-1 0m-122 -41l-1 1m-19 44l-1 1m148 -108l-1 1m-156 56l0 2m-18 101l0 0m51 -169l1 1m108 136l0 1m8 -103l0 1m-83 100l0 2m24 -123l1 1m-42 23l0 1m-13 -20l1 1m121 -40l0 0m-121 188l0 0m-4 -171l0 2m56 50l-1 1m38 11l1 0m-163 47l0 1m34 -113l0 0m53 53l0 0m1 72l0 1m-26 -92l0 1m41 38l0 1m-80 -12l0 1m92 63l-2 0m-56 39l-1 1m91 -193l1 0m13 72l-1 1m-68 51l1 1m6 -69l0 1m26 -29l-1 1m-122 -15l-1 1m32 173l1 0m106 -94l0 0m-83 82l0 1m-5 -123l0 0" stroke="#a0a7dc" stroke-width="8"/>
<path d="M1503 1541l-1 1m-154 6l-1 0m32 -22l0 1m125 -40l-1 1m-93 -35l1 1m-54 59l0 1m-1 38l0 1m60 44l1 0m-18 53l0 1m-43 -119l1 2m129 121l0 0m-38 -148l-1 1m29 102l-1 2m16 -46l0 0m-40 7l0 0m-77 -32l1 0m-4 87l-1 1m-22 -170l-2 1m-18 1l-1 0m168 132l-1 1m-73 -123l-1 0m-25 157l0 2m-43 -131l0 0m-5 149l0 0m34 5l0 1m26 -188l2 1m111 -5l1 0m-98 69l-1 1m88 -56l0 1m-125 5l-1 0m81 -28l0 1m51 106l-1 1m10 -37l-1 0m-135 123l1 0m9 -144l1 0m-40 121l0 2m155 22l-1 2m-128 -62l0 0m16 28l0 1m45 -134l1 0m-4 21l0 1m13 -15l-1 0m-102 -35l0 2m159 158l-1 0m0 -54l0 0m-171 58l1 2m82 21l0 1m-12 -31l1 0m12 -89l1 0m13 -34l0 0m49 139l0 0m13 -123l0 0m-176 142l-1 1m180 -145l0 0m-154 -29l0 1m148 -23l1 0m-62 115l-1 0m17 -46l1 1m-125 110l0 0m34 -117l0 0m45 70l0 1m91 -52l-1 0m-38 -65l-1 1m-115 91l0 1m-8 11l-1 1m161 15l-1 0m3 5l-1 1m-42 48l0 1m64 -3l1 0m-153 -90l-1 1m25 46l1 0m76 26l0 1m20 -15l0 0m-131 -140l-2 1m57 23l-2 0m11 44l0 0m56 -28l-1 1m-129 -5l-1 0m163 118l-1 0m-25 -49l2 0m-76 -52l-1 1m-2 14l0 0m78 -37l0 0m-23 79l0 0m-98 11l1 0m5 -1l2 1m142 31l1 0m-88 -114l0 0m-13 -54l1 1m63 89l1 1m-49 -10l0 2m14 -20l0 1m84 99l0 1m-160 10l1 0m32 -61l-1 0m10 -60l0 0m-60 28l0 1m51 30l-1 1m17 -87l1 1m-10 -21l-1 1m-48 190l0 1m54 -146l0 1m24 8l0 0m-57 45l0 0m34 41l-1 0m-83 -149l1 1m141 102l1 1m-24 7l-1 1m81 -20l2 0m-140 39l0 1m43 -8l0 1m-29 -102l0 0m-35 66l-1 1m62 -9l0 1m-7 -45l0 0m-73 124l0 0m112 -4l1 1m-40 -109l-1 1m-82 54l-1 1m182 -105l1 0m-1 127l0 0m-83 -7l1 0m-56 58l0 0m109 -5l0 0m-42 8l0 0m-40 15l1 1m-23 -141l-2 1m78 100l0 1m-14 25l-1 1m-1 -106l1 1m-32 63l0 0m0 -143l0 1m-7 139l0 1m-21 24l0 0m-49 -8l1 1m141 -38l1 2m-119 58l0 1m97 -38l0 0m6 61l0 1m33 -114l0 1m-161 81l1 2m-14 -105l0 0m168 40l1 0m-48 -22l-2 1m41 -64l0 0" stroke="#a0a7dc" stroke-width="8.9"/>
<path d="M1347 1569l0 0m60 -1l0 0m-21 76l-1 1m75 -46l0 0m-8 -117l0 1m70 137l0 0m-159 7l-1 0m66 -17l1 0m-42 -34l0 2m-5 -29l0 0m-33 -74l1 1m125 42l0 0m-25 -38l0 2m-33 158l0 0m30 12l0 1m-31 -50l-2 0m-53 7l1 1m28 -46l2 0m80 -51l0 0m10 91l1 1m18 -37l1 0m4 82l1 1m-18 -112l0 0m-90 3l0 1m-13 86l0 1m-1 2l0 0m9 -174l-1 0m-16 168l0 0m-29 -174l0 1m9 181l-1 0m77 -174l-1 1m-96 168l0 0m150 9l1 2m-160 -34l1 0m113 -24l0 0m-25 -105l0 2m89 18l0 0m-144 14l0 0m84 -12l0 1m29 -23l0 0m-142 156l-1 1m164 -92l0 0m-147 -46l0 1m66 -1l0 0m-62 48l0 1m147 -63l0 0m-61 119l-1 2m65 -39l0 0m27 31l0 1m0 -103l0 0m-150 151l0 2m-40 -42l-2 1m162 27l2 1m-72 -175l0 0m102 38l1 1m-99 15l0 2m-61 72l-2 0m-28 -67l-1 1m160 -71l0 0m-91 157l1 1m-82 -6l0 0m148 -54l0 0m-9 -24l-1 1m-68 -45l0 0m102 176l0 1m-129 -8l0 1m96 -118l1 1m-6 114l0 2m-74 -110l1 1m10 106l0 0m-29 -111l0 2m87 -40l0 1m70 154l2 0m-21 -133l-1 2m-64 101l1 1m-51 -102l0 0m-45 -25l-2 1m109 153l-1 2m46 -4l-1 0m-120 -108l-1 2m68 -86l0 0m82 198l0 1m-160 -110l-1 1m96 53l-2 0m32 -68l0 2m-143 125l1 1m47 -129l-1 2m114 -36l1 1m-183 -4l1 0m62 -14l0 0m-68 103l-2 0m121 -20l-1 1m54 -39l1 0m-2 -74l0 1m-17 186l0 0m-12 -88l-1 1m-26 30l0 0m-38 -14l0 0m86 8l-1 2m-20 -8l-1 0m-37 -100l-1 0m35 151l1 1m10 -123l1 1m-138 -4l1 1m90 139l1 1m58 -110l0 1m-87 102l0 0m67 -78l-1 1m-79 -4l0 1m17 63l0 1m-46 -115l0 0m147 16l0 0m8 129l1 0m-135 -143l1 0m135 40l0 0m-113 -74l0 0m-74 30l0 0m63 102l0 1m110 -7l-1 0m7 52l-1 0m-135 -176l0 0m55 137l0 2m8 -105l-1 0m46 156l-1 1m-74 -14l-1 1m-70 -8l-1 0m178 -141l0 1m-176 76l0 0m62 35l1 1m-7 -66l1 0m4 0l-1 1m95 76l-1 1m-20 -162l1 0" stroke="#b4b9e5" stroke-width="3.5"/>
<path d="M1333 1592l0 0m21 -43l0 1m-18 77l-1 1m108 -89l0 2m-74 65l0 0m163 21l-1 1m-188 -3l-1 1m67 24l1 1m-18 -162l1 1m98 121l1 1m-61 -16l0 2m-42 -134l-2 0m103 174l0 0m-29 -143l1 0m-23 64l0 0m46 -58l0 0m-19 -28l0 0m-106 7l-1 0m54 18l1 1m-30 26l-1 1m58 -50l0 0m-32 135l0 0m-58 -30l0 0m-10 40l1 1m95 -171l1 1m52 200l-1 1m-144 -2l0 0m116 -152l0 0m-92 60l0 1m30 -5l-1 1m21 -89l-1 2m-58 7l1 0m64 105l1 0m-20 46l0 0m-38 -36l-2 1m93 17l0 2m-81 -53l1 1m23 -8l0 1m49 -80l-1 0m-83 46l-1 1m-29 0l0 1m131 39l0 1m-137 93l1 2m142 -130l0 0m-79 74l0 0m-19 -133l0 1m-51 0l1 1m107 -13l0 1m8 72l-1 2m10 -46l2 0m-30 72l0 1m-24 -20l1 1m-73 29l-1 1m46 58l-1 1m95 -144l1 1m-85 49l1 1m53 -44l2 0m-96 13l0 1m120 65l0 1m-69 18l0 0m-4 -35l-1 1m9 -15l0 0m137 49l-2 1m-41 -68l-1 2m-40 128l0 0m-24 -14l0 0m-4 -148l0 0m2 147l-1 2m-58 8l-1 1m17 -31l2 1m-37 -162l-1 1m75 87l0 0m79 27l0 1m-107 -20l0 0m-35 43l-1 1m111 -80l1 0m-5 115l1 0m-82 1l0 0m-47 17l0 1m2 -50l0 0m192 -84l-2 0m-202 132l-1 0m183 1l1 1m-107 -17l1 1m67 26l1 0m48 -64l-1 0m-122 -41l-1 1m-19 44l-1 1m148 -108l-1 1m-156 56l0 2m-18 101l0 0m51 -169l1 1m108 136l0 1m8 -103l0 1m-83 100l0 2m24 -123l1 1m-42 23l0 1m-13 -20l1 1m121 -40l0 0m-121 188l0 0m-4 -171l0 2m56 50l-1 1m38 11l1 0m-163 47l0 1m34 -113l0 0m53 53l0 0m1 72l0 1m-26 -92l0 1m41 38l0 1m-80 -12l0 1m92 63l-2 0m-56 39l-1 1m91 -193l1 0m13 72l-1 1m-68 51l1 1m6 -69l0 1m26 -29l-1 1m-122 -15l-1 1m32 173l1 0m106 -94l0 0m-83 82l0 1m-5 -123l0 0" stroke="#b4b9e5" stroke-width="4"/>
<path d="M1503 1541l-1 1m-154 6l-1 0m32 -22l0 1m125 -40l-1 1m-93 -35l1 1m-54 59l0 1m-1 38l0 1m60 44l1 0m-18 53l0 1m-43 -119l1 2m129 121l0 0m-38 -148l-1 1m29 102l-1 2m16 -46l0 0m-40 7l0 0m-77 -32l1 0m-4 87l-1 1m-22 -170l-2 1m-18 1l-1 0m168 132l-1 1m-73 -123l-1 0m-25 157l0 2m-43 -131l0 0m-5 149l0 0m34 5l0 1m26 -188l2 1m111 -5l1 0m-98 69l-1 1m88 -56l0 1m-125 5l-1 0m81 -28l0 1m51 106l-1 1m10 -37l-1 0m-135 123l1 0m9 -144l1 0m-40 121l0 2m155 22l-1 2m-128 -62l0 0m16 28l0 1m45 -134l1 0m-4 21l0 1m13 -15l-1 0m-102 -35l0 2m159 158l-1 0m0 -54l0 0m-171 58l1 2m82 21l0 1m-12 -31l1 0m12 -89l1 0m13 -34l0 0m49 139l0 0m13 -123l0 0m-176 142l-1 1m180 -145l0 0m-154 -29l0 1m148 -23l1 0m-62 115l-1 0m17 -46l1 1m-125 110l0 0m34 -117l0 0m45 70l0 1m91 -52l-1 0m-38 -65l-1 1m-115 91l0 1m-8 11l-1 1m161 15l-1 0m3 5l-1 1m-42 48l0 1m64 -3l1 0m-153 -90l-1 1m25 46l1 0m76 26l0 1m20 -15l0 0m-131 -140l-2 1m57 23l-2 0m11 44l0 0m56 -28l-1 1m-129 -5l-1 0m163 118l-1 0m-25 -49l2 0m-76 -52l-1 1m-2 14l0 0m78 -37l0 0m-23 79l0 0m-98 11l1 0m5 -1l2 1m142 31l1 0m-88 -114l0 0m-13 -54l1 1m63 89l1 1m-49 -10l0 2m14 -20l0 1m84 99l0 1m-160 10l1 0m32 -61l-1 0m10 -60l0 0m-60 28l0 1m51 30l-1 1m17 -87l1 1m-10 -21l-1 1m-48 190l0 1m54 -146l0 1m24 8l0 0m-57 45l0 0m34 41l-1 0m-83 -149l1 1m141 102l1 1m-24 7l-1 1m81 -20l2 0m-140 39l0 1m43 -8l0 1m-29 -102l0 0m-35 66l-1 1m62 -9l0 1m-7 -45l0 0m-73 124l0 0m112 -4l1 1m-40 -109l-1 1m-82 54l-1 1m182 -105l1 0m-1 127l0 0m-83 -7l1 0m-56 58l0 0m109 -5l0 0m-42 8l0 0m-40 15l1 1m-23 -141l-2 1m78 100l0 1m-14 25l-1 1m-1 -106l1 1m-32 63l0 0m0 -143l0 1m-7 139l0 1m-21 24l0 0m-49 -8l1 1m141 -38l1 2m-119 58l0 1m97 -38l0 0m6 61l0 1m33 -114l0 1m-161 81l1 2m-14 -105l0 0m168 40l1 0m-48 -22l-2 1m41 -64l0 0" stroke="#b4b9e5" stroke-width="4.5"/>
<path d="M1327 1622l-1 0m62 -154l0 2m1 163l0 1m80 -46l3 1m-48 45l-1 1m33 -74l-2 1m-58 -107l2 0m-13 90l-1 1m105 -1l-1 1m-94 61l0 0m92 -103l0 0m7 69l0 1m-11 -78l0 0m-114 -42l-1 0m113 79l0 0m-32 -18l0 2m-44 -56l0 0m-77 91l3 1m196 37l1 1m-79 -59l-1 1m45 95l0 1m-146 -32l1 1" stroke="#7880c6" stroke-width="3.1"/>
<path d="M1328 1604l1 2m65 -64l-3 0m90 -59l-1 2m-84 137l0 1m47 -72l-3 0m-48 40l0 0m4 -112l-1 1m59 41l1 2m-74 53l-1 0m122 68l0 2m-20 -136l2 0m-100 106l2 2m33 -127l0 0m-54 -27l0 0m48 124l0 0m-6 -49l-1 1m-45 -74l-2 1m84 80l0 0" stroke="#7880c6" stroke-width="3.6"/>
<path d="M1511 1461l0 0m-129 70l0 2m111 10l-1 2m16 93l0 0m-71 -169l0 0m23 -18l1 3m-10 163l1 0m-94 -6l0 1m-13 15l-1 3m92 -23l0 2m4 -131l1 2m83 126l-2 2m-166 -40l1 0m96 -111l-1 1m48 67l0 0m-167 14l0 0m132 -60l0 2m8 107l2 2m-89 10l-1 0m-44 46l0 0" stroke="#7880c6" stroke-width="4.1"/>
</g></g>
<rect x="1326.9" y="1454" width="201.3" height="201.3" fill="none" stroke="#111" stroke-width="2.2"/>
<rect x="1478.4" y="1634.7" width="38.4" height="4.6" fill="#000" stroke="none" stroke-width="0"/>
<clipPath id="c103"><rect x="1561.5" y="1228.9" width="203.3" height="203.5"/></clipPath>
<g clip-path="url(#c103)"><g filter="url(#ib)" stroke-linecap="round" fill="none">
<rect x="1561.5" y="1228.9" width="203.3" height="203.5" fill="#eeedf2" stroke="none" stroke-width="0"/>
<path d="M1765 1320l-2 3m-83 100l0 3m-11 -52l0 1m-22 -96l0 0m119 63l-2 3m-22 -7l-1 3m-1 81l2 3m-149 -110l-1 1m149 106l0 0m-20 -40l3 3m-16 45l4 2m-75 -165l0 0m16 107l0 1m-27 -10l0 0m43 31l-2 3m61 -118l3 2m-7 78l-1 4m-8 65l-2 3m-41 -189l0 0m80 190l4 0m10 -64l3 3m-190 -38l0 2m145 -54l4 0m-45 -41l-1 5m-89 103l0 0m130 5l-3 0m19 -23l0 0m-144 78l0 4" stroke="#f9f9fa" stroke-width="14.3"/>
<path d="M1563 1273l0 0m35 37l-2 3m126 31l3 3m-51 3l-2 1m42 -112l2 0m-77 107l1 3m-45 -47l4 0m92 -62l0 0m19 141l1 1m-68 -32l-1 1m-54 35l-2 4m29 -163l-4 3m40 155l-3 3m11 -123l-2 3m30 102l-1 0m-19 54l2 3m30 -141l0 5m-110 92l-2 0m109 -148l0 0m25 53l0 1m-137 30l-2 2m-17 -16l-2 4m9 7l-1 2m93 -16l1 3m-58 108l0 0m135 2l-3 2m16 -102l-3 3m-22 58l0 1m-59 33l1 0m24 -24l0 0m-27 -140l0 1m93 85l1 1m-61 67l-1 0m-71 -8l-2 2m133 -71l0 1m-110 -77l2 1" stroke="#f9f9fa" stroke-width="19"/>
<path d="M1575 1352l0 1m166 -102l0 0m-121 19l-5 2m114 100l0 0m-102 -31l2 3m106 -8l3 4m-109 -64l-1 2m-46 -43l0 5m136 -3l1 0m13 143l-2 4m-83 -102l0 0m-12 -52l-1 0m124 40l1 1m-57 77l0 4m-93 -97l1 1m115 148l1 1m-13 -117l-3 3m-121 114l3 2m72 -144l-1 0m20 -33l1 3m-75 -4l-1 2m58 46l0 5m-96 37l-3 3m100 18l0 0m9 81l4 1m-112 -20l1 3" stroke="#f9f9fa" stroke-width="23.7"/>
<path d="M1745 1254l0 1m-166 147l0 0m181 -161l0 1m-71 -11l0 0m-2 39l2 0m-89 36l-1 1m-26 121l1 0m126 -46l0 1m10 -3l1 1m-97 -110l1 1m87 118l-2 0m56 -105l0 0m-197 -13l0 0m63 109l-2 1m128 -129l1 2m4 170l-1 0m-7 -77l-1 1m-139 -110l1 0m-6 155l-2 0m111 -73l0 0m-77 104l0 1m-2 -38l0 0m116 35l-1 0m-48 -194l-1 2m54 21l0 0m-32 99l-1 1m-46 -117l-1 1m-39 80l-1 1m7 36l-1 1m31 28l0 0m40 -20l-1 0m-20 -1l1 1m-5 1l1 0m-52 -45l0 2m0 110l1 1m-1 -155l0 0m35 91l0 0m88 -72l0 0m-152 5l-1 0m-12 -26l1 1m84 -11l1 0m62 69l1 1m-164 -48l0 0m48 73l-1 0m52 5l-1 1m58 46l0 1m1 -14l0 0m-170 -73l0 0m128 43l0 1m6 40l0 0m45 -42l0 2m-86 9l1 0m52 -72l-2 1m16 117l1 1m15 -175l1 1m-157 148l0 1m58 -165l1 2m-34 2l0 0m28 120l1 0m-25 -23l0 0m56 69l1 2m13 -132l0 0m-9 68l0 2m17 -44l1 0m0 -4l0 0m73 42l1 1m-183 12l2 1m22 81l-1 0m83 -132l-2 0m76 121l1 1m-30 -89l-1 1m32 -11l0 0m-1 -82l-1 0m-33 33l1 1m-143 51l0 1m26 15l-1 1m21 62l0 0m42 -137l-1 0m-6 59l0 0m-65 -71l-1 1m-27 75l0 0m86 -23l-1 1m-69 63l-1 1m66 11l1 1m28 9l-2 0m76 -117l0 1m-133 76l0 0m89 -99l0 0m-5 19l-2 0m51 137l0 0m-117 -99l-1 0m-17 -50l0 2m-48 20l1 0m9 140l0 0m-25 -130l0 0m93 -15l-1 0m-32 15l-1 1m32 76l0 0m23 -124l0 1m88 174l1 0m-49 -69l0 2m-53 62l-2 0m3 -26l-1 0m-63 -87l-1 1m-14 99l1 1m77 -32l1 0m-32 -78l-1 1m-29 -44l-1 1m-11 148l1 1m170 -61l0 2m-180 -6l2 0" stroke="#b1b4e0" stroke-width="6.6"/>
<path d="M1651 1346l1 1m-30 57l1 1m21 -119l0 1m78 -24l0 0m-18 122l0 1m12 43l1 1m26 4l-1 1m-89 -176l1 0m-2 -17l1 1m-62 69l1 1m80 -30l0 0m-72 0l-1 1m87 15l0 0m32 40l0 0m-24 -9l2 1m9 90l0 0m-100 -6l1 1m4 -170l0 0m142 169l0 0m-121 -24l0 1m-56 -136l0 2m119 70l-1 0m-30 -11l-1 1m26 -59l1 2m38 -2l1 0m-134 59l-1 0m101 5l1 1m-3 86l0 1m19 -136l1 2m46 136l2 0m-154 -87l-1 1m135 -12l0 1m-76 47l-1 1m1 34l1 1m-25 -44l0 0m26 -61l-1 1m59 -60l0 1m-107 62l1 1m89 34l2 0m-25 2l1 0m-23 9l1 1m-67 5l1 0m50 -81l0 0m37 -43l-1 0m-72 75l0 0m-24 108l-1 1m29 -1l0 1m150 -30l0 1m-37 -123l0 1m-80 162l0 0m-28 -40l0 2m16 -125l-1 1m90 10l-1 0m-32 163l0 0m27 -18l0 0m-6 -130l-1 1m2 54l1 0m40 -20l2 0m-139 65l1 1m124 -52l1 0m-151 -99l0 2m143 -2l1 1m-110 187l0 1m50 -164l1 0m-57 -25l0 1m6 12l0 1m124 166l2 0m-121 -113l-1 0m92 109l1 0m-56 -165l0 1m75 111l1 1m-94 -8l-1 0m-20 -7l1 1m21 -64l-1 0m62 -46l0 2m-1 13l0 1m-41 52l1 0m31 44l1 1m-59 81l0 1m-42 -47l0 1m85 47l0 1m-69 -108l1 1m-28 -74l0 0m17 158l0 2m124 -108l0 1m-112 15l-1 1m59 106l0 0m57 -151l0 1m-176 -2l1 0m140 128l0 0m-26 -159l0 0m86 28l0 0m-160 53l1 0m-31 6l0 0m166 -79l1 1m-5 4l0 1m-23 -24l-1 0m-44 103l0 0m-19 -20l0 1m31 87l1 1m15 -157l1 0m-133 65l0 0m26 63l0 0m148 57l0 1" stroke="#b1b4e0" stroke-width="7.5"/>
<path d="M1644 1293l0 1m-47 36l-1 0m25 94l2 0m83 -196l0 1m-137 126l1 0m17 -61l1 1m154 82l0 1m-112 -72l0 2m71 -75l0 0m-138 157l1 1m114 -113l2 0m38 53l0 0m6 -6l0 1m-165 -69l1 0m105 -17l0 0m68 118l0 0m-74 -118l0 1m56 155l1 1m-4 -56l0 0m-124 5l-1 0m51 72l-2 0m124 -59l0 1m-171 -12l-1 1m39 -54l0 0m-15 -15l0 0m-19 68l1 0m13 -101l-2 0m32 19l-1 0m-45 -24l-1 1m-1 0l0 0m143 85l0 1m-151 96l0 1m171 -94l-1 1m-56 59l1 0m-129 -78l0 1m195 65l0 2m-163 -88l-1 2m43 50l0 0m74 6l0 1m-128 40l-1 1m76 -95l1 1m-44 42l-1 1m53 -9l0 0m90 21l2 0m-200 -84l0 0m203 92l0 0m-162 -55l0 0m74 -44l0 1m77 125l-1 1m-24 -17l0 0m-150 -57l0 0m133 9l0 1m-104 -72l-2 1m71 118l-1 0m50 -79l1 1m-18 -67l1 0m-126 10l0 1m135 182l0 0m-152 10l1 0m42 -124l-1 1m53 90l2 1m-38 -125l1 1m121 108l-1 2m7 -57l0 0m-99 98l0 0m-59 -154l0 2m35 -42l0 0m5 9l-1 0m-9 87l0 0m-48 105l0 0m172 -36l2 0m13 -122l-1 0m-87 69l0 0m-10 -83l-1 0m-78 52l0 0m3 -23l-1 0m141 22l-1 0m-158 120l0 2m101 -140l1 1m34 -39l-1 0m41 127l0 0m-171 -89l0 1m38 -36l-1 1m111 -8l1 0m-166 44l0 2m10 -64l1 0m169 122l-1 2m-65 -74l-1 0m-7 122l0 1m-43 -32l0 0m24 -79l1 1m79 117l0 0m16 -77l0 0m-15 -89l0 0m-50 134l2 0m-112 -47l0 1m93 -12l0 2m89 24l0 2m-146 41l0 1m106 -58l0 1m-87 71l2 1m66 -98l0 1m-109 -47l1 1m153 112l-1 0m-15 4l0 1m-12 -72l-2 1m-49 16l1 1m-31 36l2 1m68 22l-1 0m20 39l2 1m-46 -88l1 0m-64 -56l1 2m107 126l0 0m-74 -47l1 1m69 56l0 1" stroke="#b1b4e0" stroke-width="8.4"/>
<path d="M1745 1254l0 1m-166 147l0 0m181 -161l0 1m-71 -11l0 0m-2 39l2 0m-89 36l-1 1m-26 121l1 0m126 -46l0 1m10 -3l1 1m-97 -110l1 1m87 118l-2 0m56 -105l0 0m-197 -13l0 0m63 109l-2 1m128 -129l1 2m4 170l-1 0m-7 -77l-1 1m-139 -110l1 0m-6 155l-2 0m111 -73l0 0m-77 104l0 1m-2 -38l0 0m116 35l-1 0m-48 -194l-1 2m54 21l0 0m-32 99l-1 1m-46 -117l-1 1m-39 80l-1 1m7 36l-1 1m31 28l0 0m40 -20l-1 0m-20 -1l1 1m-5 1l1 0m-52 -45l0 2m0 110l1 1m-1 -155l0 0m35 91l0 0m88 -72l0 0m-152 5l-1 0m-12 -26l1 1m84 -11l1 0m62 69l1 1m-164 -48l0 0m48 73l-1 0m52 5l-1 1m58 46l0 1m1 -14l0 0m-170 -73l0 0m128 43l0 1m6 40l0 0m45 -42l0 2m-86 9l1 0m52 -72l-2 1m16 117l1 1m15 -175l1 1m-157 148l0 1m58 -165l1 2m-34 2l0 0m28 120l1 0m-25 -23l0 0m56 69l1 2m13 -132l0 0m-9 68l0 2m17 -44l1 0m0 -4l0 0m73 42l1 1m-183 12l2 1m22 81l-1 0m83 -132l-2 0m76 121l1 1m-30 -89l-1 1m32 -11l0 0m-1 -82l-1 0m-33 33l1 1m-143 51l0 1m26 15l-1 1m21 62l0 0m42 -137l-1 0m-6 59l0 0m-65 -71l-1 1m-27 75l0 0m86 -23l-1 1m-69 63l-1 1m66 11l1 1m28 9l-2 0m76 -117l0 1m-133 76l0 0m89 -99l0 0m-5 19l-2 0m51 137l0 0m-117 -99l-1 0m-17 -50l0 2m-48 20l1 0m9 140l0 0m-25 -130l0 0m93 -15l-1 0m-32 15l-1 1m32 76l0 0m23 -124l0 1m88 174l1 0m-49 -69l0 2m-53 62l-2 0m3 -26l-1 0m-63 -87l-1 1m-14 99l1 1m77 -32l1 0m-32 -78l-1 1m-29 -44l-1 1m-11 148l1 1m170 -61l0 2m-180 -6l2 0" stroke="#cfd0ea" stroke-width="3.6"/>
<path d="M1651 1346l1 1m-30 57l1 1m21 -119l0 1m78 -24l0 0m-18 122l0 1m12 43l1 1m26 4l-1 1m-89 -176l1 0m-2 -17l1 1m-62 69l1 1m80 -30l0 0m-72 0l-1 1m87 15l0 0m32 40l0 0m-24 -9l2 1m9 90l0 0m-100 -6l1 1m4 -170l0 0m142 169l0 0m-121 -24l0 1m-56 -136l0 2m119 70l-1 0m-30 -11l-1 1m26 -59l1 2m38 -2l1 0m-134 59l-1 0m101 5l1 1m-3 86l0 1m19 -136l1 2m46 136l2 0m-154 -87l-1 1m135 -12l0 1m-76 47l-1 1m1 34l1 1m-25 -44l0 0m26 -61l-1 1m59 -60l0 1m-107 62l1 1m89 34l2 0m-25 2l1 0m-23 9l1 1m-67 5l1 0m50 -81l0 0m37 -43l-1 0m-72 75l0 0m-24 108l-1 1m29 -1l0 1m150 -30l0 1m-37 -123l0 1m-80 162l0 0m-28 -40l0 2m16 -125l-1 1m90 10l-1 0m-32 163l0 0m27 -18l0 0m-6 -130l-1 1m2 54l1 0m40 -20l2 0m-139 65l1 1m124 -52l1 0m-151 -99l0 2m143 -2l1 1m-110 187l0 1m50 -164l1 0m-57 -25l0 1m6 12l0 1m124 166l2 0m-121 -113l-1 0m92 109l1 0m-56 -165l0 1m75 111l1 1m-94 -8l-1 0m-20 -7l1 1m21 -64l-1 0m62 -46l0 2m-1 13l0 1m-41 52l1 0m31 44l1 1m-59 81l0 1m-42 -47l0 1m85 47l0 1m-69 -108l1 1m-28 -74l0 0m17 158l0 2m124 -108l0 1m-112 15l-1 1m59 106l0 0m57 -151l0 1m-176 -2l1 0m140 128l0 0m-26 -159l0 0m86 28l0 0m-160 53l1 0m-31 6l0 0m166 -79l1 1m-5 4l0 1m-23 -24l-1 0m-44 103l0 0m-19 -20l0 1m31 87l1 1m15 -157l1 0m-133 65l0 0m26 63l0 0m148 57l0 1" stroke="#cfd0ea" stroke-width="4.1"/>
<path d="M1644 1293l0 1m-47 36l-1 0m25 94l2 0m83 -196l0 1m-137 126l1 0m17 -61l1 1m154 82l0 1m-112 -72l0 2m71 -75l0 0m-138 157l1 1m114 -113l2 0m38 53l0 0m6 -6l0 1m-165 -69l1 0m105 -17l0 0m68 118l0 0m-74 -118l0 1m56 155l1 1m-4 -56l0 0m-124 5l-1 0m51 72l-2 0m124 -59l0 1m-171 -12l-1 1m39 -54l0 0m-15 -15l0 0m-19 68l1 0m13 -101l-2 0m32 19l-1 0m-45 -24l-1 1m-1 0l0 0m143 85l0 1m-151 96l0 1m171 -94l-1 1m-56 59l1 0m-129 -78l0 1m195 65l0 2m-163 -88l-1 2m43 50l0 0m74 6l0 1m-128 40l-1 1m76 -95l1 1m-44 42l-1 1m53 -9l0 0m90 21l2 0m-200 -84l0 0m203 92l0 0m-162 -55l0 0m74 -44l0 1m77 125l-1 1m-24 -17l0 0m-150 -57l0 0m133 9l0 1m-104 -72l-2 1m71 118l-1 0m50 -79l1 1m-18 -67l1 0m-126 10l0 1m135 182l0 0m-152 10l1 0m42 -124l-1 1m53 90l2 1m-38 -125l1 1m121 108l-1 2m7 -57l0 0m-99 98l0 0m-59 -154l0 2m35 -42l0 0m5 9l-1 0m-9 87l0 0m-48 105l0 0m172 -36l2 0m13 -122l-1 0m-87 69l0 0m-10 -83l-1 0m-78 52l0 0m3 -23l-1 0m141 22l-1 0m-158 120l0 2m101 -140l1 1m34 -39l-1 0m41 127l0 0m-171 -89l0 1m38 -36l-1 1m111 -8l1 0m-166 44l0 2m10 -64l1 0m169 122l-1 2m-65 -74l-1 0m-7 122l0 1m-43 -32l0 0m24 -79l1 1m79 117l0 0m16 -77l0 0m-15 -89l0 0m-50 134l2 0m-112 -47l0 1m93 -12l0 2m89 24l0 2m-146 41l0 1m106 -58l0 1m-87 71l2 1m66 -98l0 1m-109 -47l1 1m153 112l-1 0m-15 4l0 1m-12 -72l-2 1m-49 16l1 1m-31 36l2 1m68 22l-1 0m20 39l2 1m-46 -88l1 0m-64 -56l1 2m107 126l0 0m-74 -47l1 1m69 56l0 1" stroke="#cfd0ea" stroke-width="4.6"/>
<path d="M1597 1383l1 0m158 12l1 1m-153 19l1 0m134 -154l2 1m-14 155l-1 0m-114 16l-2 1m0 -130l0 0m23 -40l2 0m-59 46l0 1m151 16l1 0m-6 -98l0 2m-109 52l-2 2m18 109l0 0m-18 -70l2 1m8 96l0 0m108 -42l2 1m-20 -57l0 0m-17 64l-3 0m-23 25l0 0m87 -109l-1 1m-10 -35l-1 1" stroke="#ddd2d0" stroke-width="4.9"/>
<path d="M1741 1423l2 1m-183 9l1 2m39 -82l1 1m47 -86l0 2m91 90l-1 2m-24 -94l1 2m21 80l1 1m-36 -98l1 1m42 41l2 1m-66 81l2 0m25 -58l2 2m-56 72l-1 1m5 -22l2 2m109 -123l-1 1m-106 15l-2 1m20 91l1 1m-47 -126l1 0m111 35l1 1" stroke="#ddd2d0" stroke-width="6"/>
<path d="M1751 1425l0 1m-97 -8l-1 2m-30 -22l2 2m-49 -96l-1 2m99 -44l2 0m-108 107l0 0m98 -41l1 1m-88 23l2 2m18 45l0 0m143 -35l0 2m8 12l2 2m-143 -37l0 0m155 75l-2 2m-183 -149l1 0m162 70l1 1m-141 23l0 2m-4 -50l1 0m139 92l-1 1m-112 -28l-2 2m107 -147l1 2m-115 75l2 1" stroke="#ddd2d0" stroke-width="7.1"/>
<path d="M1751 1307l1 0m-130 -52l-1 1m55 -15l0 1m67 158l1 1m-91 -166l0 1m14 151l-1 1m-31 40l0 1" stroke="#b08058" stroke-width="5.9"/>
<path d="M1625 1264l1 1m21 39l0 0" stroke="#b08058" stroke-width="6.6"/>
<path d="M1608 1421l0 1m57 -94l-1 1m-61 67l0 0m11 -157l0 0m-29 7l-1 0m41 31l0 0m40 -10l1 0" stroke="#b08058" stroke-width="7.3"/>
<path d="M1627 1432l2 2m-20 -161l-3 0m140 92l-1 2m-5 56l0 1m-121 3l-1 1m116 -64l3 1m24 -124l1 1m-116 31l-3 1m-31 -48l1 2m-27 194l-1 3m-18 -64l2 1m86 -25l0 0m-82 -16l-4 2m35 -81l0 0m107 58l-2 0" stroke="#9296d2" stroke-width="2.4"/>
<path d="M1753 1366l-1 1m-108 27l-3 1m109 -3l0 2m-175 -6l1 0m162 -79l-2 3m-64 -86l2 1m24 152l2 0m55 -74l-1 0m-86 -40l4 0m-52 -24l1 1m-43 47l0 0m17 -11l1 2m111 120l0 1m-77 32l-2 2m115 -82l0 1m-67 -32l1 1m-33 5l0 2" stroke="#9296d2" stroke-width="2.7"/>
<path d="M1574 1250l0 0m79 -23l1 1m9 110l2 3m92 44l-1 1m-26 -22l0 1m-131 -9l1 2m92 -97l-1 1m35 -30l1 1m-124 5l3 3m-1 -9l-1 1m75 -2l-1 1m0 17l0 3m-16 24l1 1" stroke="#9296d2" stroke-width="3"/>
</g></g>
<rect x="1562.5" y="1229.9" width="201.3" height="201.5" fill="none" stroke="#111" stroke-width="2.2"/>
<rect x="1714" y="1410.8" width="38.4" height="4.6" fill="#000" stroke="none" stroke-width="0"/>
<clipPath id="c203"><rect x="1561.5" y="1453" width="203.3" height="203.3"/></clipPath>
<g clip-path="url(#c203)"><g filter="url(#ib)" stroke-linecap="round" fill="none">
<rect x="1561.5" y="1453" width="203.3" height="203.3" fill="#e6e0e9" stroke="none" stroke-width="0"/>
<path d="M1766 1523l0 1m-51 -12l0 0m-109 92l0 0m117 -141l1 1m-6 72l3 0m-139 101l-1 1m110 -137l4 2m-18 80l0 1m14 10l1 1m-56 -75l3 4m69 18l3 4m-71 -97l0 3m-5 179l0 0m-42 -92l4 3m102 -69l3 0m-72 158l0 1m63 -87l2 4m0 9l4 1m-120 54l3 1m157 -71l-1 3m-148 27l0 1m84 46l1 5m-35 -165l1 3m-11 52l1 2m54 -62l-3 3m-34 157l4 1m-68 -138l-1 4m79 75l-3 2m-90 -18l-3 1m199 30l4 0m-53 -67l-4 1m-37 68l-1 5m-17 43l1 1m-65 27l-1 5" stroke="#f3f0f2" stroke-width="9.7"/>
<path d="M1628 1469l4 2m-37 -19l2 4m124 100l0 0m-17 16l-2 1m46 -31l0 0m-187 78l-4 2m37 -128l-1 2m112 -25l-2 4m49 61l2 4m-130 -72l-3 1m-51 70l-3 1m189 69l-3 4m-100 -65l0 3m65 5l-1 0m-105 5l1 3m63 55l1 0m74 -108l-4 3m-151 -36l2 0m88 176l0 0m-78 -200l-2 0m97 158l-2 3m-115 27l0 0m-3 -129l-3 3m110 48l-4 2m-89 5l0 0m16 -49l0 1m18 -67l1 4m67 113l0 0m-85 -5l-1 1m-34 -99l1 0" stroke="#f3f0f2" stroke-width="13"/>
<path d="M1576 1625l2 2m106 -5l-2 2m-23 8l0 0m-42 -92l1 1m90 42l-2 1m54 73l-5 0m-144 -176l-5 0m61 -15l0 1m4 -7l2 1m-20 108l0 1m80 71l-1 0m-39 -87l1 2m-18 100l4 3m66 -189l0 0m12 159l0 0m-25 -173l0 0m-141 25l-2 2m45 -4l0 0m-59 91l0 0m185 0l0 4m-200 -120l-1 1m153 176l-2 1m-1 -52l2 1m-47 25l-2 4m24 -68l0 3m68 97l-1 4m-122 -41l-1 0m-53 -145l0 0m27 61l0 0m71 -10l2 4m-17 86l-2 3m-102 25l5 1m147 -10l-2 3m7 -113l3 3m-33 -46l-1 2m83 167l0 4" stroke="#f3f0f2" stroke-width="16.3"/>
<path d="M1563 1546l0 1m200 73l-2 1m-153 14l-2 0m31 15l-1 1m7 -47l2 1m115 -110l1 2m-191 133l0 0m28 -105l0 0m147 1l0 1m-7 44l0 0m-56 64l-1 0m-103 -62l0 2m12 35l2 1m1 -148l0 1m68 177l-1 1m55 -48l0 1" stroke="#dbcdca" stroke-width="7"/>
<path d="M1628 1560l0 0m54 85l1 0m-37 -118l2 1m27 28l0 0m-81 97l-1 1m124 -179l0 2m20 142l0 0m-53 -41l-1 1m-31 63l1 1m89 -41l0 1m-134 -142l-1 1m120 21l1 2m-26 158l-1 0m-97 -149l1 0m62 54l-2 1m-64 -86l1 0m33 135l0 0m-62 -88l1 0m37 5l-1 1m107 125l0 0m-113 -21l-1 1m74 -82l1 1m-98 -11l1 1m78 44l0 0m-80 51l1 2m129 -112l2 0" stroke="#dbcdca" stroke-width="9"/>
<path d="M1562 1576l0 0m2 -25l0 1m100 100l2 2m91 4l-1 1m-37 -6l1 2m14 -137l-2 2m-32 -1l2 1m-11 115l-1 1m-125 -117l-1 0m153 5l2 0m-84 0l2 1m79 57l-1 2m-28 -46l2 2m39 7l1 3m-24 93l0 0m-112 -122l-1 2m61 52l1 1m63 -69l2 1" stroke="#dbcdca" stroke-width="11"/>
<path d="M1597 1479l0 0m29 166l1 0m-65 -142l0 0m78 7l-1 1m-12 29l-1 1m92 43l0 0m-52 -44l-1 0m11 -16l2 0m18 -1l1 1m36 117l1 0m-68 -104l0 0m-52 114l0 1m35 -184l1 1m7 166l0 1m-45 -50l-1 0m104 -13l0 1m32 -116l-1 0m-141 60l2 0m-33 72l-1 0m131 12l0 0m-114 -77l-1 1m103 -27l1 0m-77 74l0 1m49 -4l0 1m94 -38l1 1m-31 -82l0 0m-127 138l-1 1m60 -132l2 0m37 64l0 1m-78 112l0 0m-1 -9l0 0m-37 -169l0 1m-8 191l0 1m-10 -153l0 1m58 65l1 0m89 20l0 1m-70 -33l0 0m65 51l1 1m-5 35l1 0m-122 -49l0 1m85 -39l0 1m59 63l2 0m-104 -157l1 1m129 93l-1 1m-94 8l0 0m76 -53l0 0m-116 34l0 1m-43 104l0 1m27 -177l0 0m134 23l0 0m-112 48l0 2m-8 62l-1 0m-22 -96l0 0m60 -13l-1 0m39 33l0 1m74 103l-1 1m-89 -82l0 1m-20 86l-1 1m31 -45l0 0m36 -84l-1 0m-130 126l1 0m-25 -182l-1 2m122 3l0 2m-51 28l0 1m-9 94l-1 0m98 22l1 0m-7 2l0 0m-31 31l0 0m-36 -83l1 0m-41 -66l1 2m10 -32l1 0m94 87l-1 1m-3 28l0 1m-30 -31l0 1m-127 -22l2 0m25 -35l1 1m128 56l0 0m-116 -15l-2 0m46 -18l0 0m90 41l0 0m-4 55l0 0m-130 -142l0 1m134 103l1 1m-69 57l0 0m85 -19l0 0m-169 31l0 0m75 -177l-1 0m-59 62l1 1m147 18l-1 1m-165 30l-1 1m167 -77l-2 0m-170 77l-2 1m111 32l2 1m-88 37l-1 0m161 -100l0 0m-64 -26l1 1m70 -5l1 0m-31 126l1 1m-61 -33l0 1m-7 -29l0 0m-30 70l0 0m20 -112l-1 1m75 -32l1 0m35 33l0 0m-146 -81l0 0m87 -5l0 0m-144 151l-1 2m120 -21l1 2m4 -114l-2 1m-82 12l1 1m122 109l0 1m-15 -2l2 1m-47 -80l-2 0m56 99l0 0m-121 -36l0 1m57 45l-2 0m104 -171l-1 1m-143 -14l-1 1m45 112l1 1m-61 -23l0 0" stroke="#a3a9db" stroke-width="7"/>
<path d="M1564 1503l0 0m189 118l-1 1m-127 0l0 1m-20 -20l1 1m39 -75l-1 0m115 -21l0 1m-194 147l1 0m150 -199l0 0m-106 156l0 1m68 -60l-1 1m53 -40l0 2m-101 -3l0 1m-69 -49l1 0m82 176l1 0m74 9l-1 0m-70 -4l1 1m105 -106l0 0m-124 -9l0 0m69 49l1 2m-19 44l0 0m62 -99l1 0m-98 6l-1 1m39 56l0 1m-85 -85l-1 2m3 -11l0 0m90 6l0 0m-70 82l0 1m60 -54l-1 1m12 30l-1 1m-90 78l1 0m79 -47l1 1m-74 26l0 1m18 -98l-1 2m57 -73l-1 0m-16 202l0 1m16 -11l0 1m-85 -116l0 0m75 -47l0 2m51 115l-1 1m-78 -116l1 1m-80 147l0 2m117 -19l0 2m-13 30l1 1m-78 -108l0 0m61 96l0 0m32 -159l0 0m37 152l0 1m-5 -4l-1 0m-38 -4l-2 1m-53 -108l2 1m27 123l0 0m-33 -178l0 0m23 135l0 1m11 12l-1 0m107 -137l0 1m-37 181l-1 2m-52 -29l1 0m31 -56l0 1m-78 -77l1 1m92 122l1 0m11 -85l1 1m34 112l-1 2m-114 -195l0 0m10 52l0 2m-89 122l2 1m85 6l0 2m-55 -73l0 0m58 -61l0 1m-41 145l-2 0m65 -148l-1 1m0 151l-1 1m-31 -7l1 0m110 -42l1 0m-23 -77l0 0m-127 8l0 0m149 -69l0 1m-57 92l0 0m-11 22l0 1m4 31l0 2m23 -93l0 0m-133 72l0 0m40 -20l0 0m14 73l-1 1m104 -183l1 0m-159 20l1 1m131 143l-1 2m-34 -171l1 1m58 104l1 1m-37 -117l-2 0m19 75l-1 1m-1 -33l0 0m-114 155l0 1m12 -79l2 0m46 68l0 0m-74 -11l-1 0m41 -81l0 0m-15 -88l0 0m72 35l0 0m-67 -36l0 0m-37 12l0 2m57 156l0 0m66 -71l1 0m31 -20l1 1m-177 -16l0 0m165 40l0 2m-66 -115l0 0m84 157l-1 1m-32 -27l1 1m-97 -43l1 1m98 61l-1 1m-78 -49l0 0m-53 -81l0 1m140 88l1 1m-45 -35l-1 1m41 39l2 1m-14 -90l0 0m-146 45l1 1m94 85l2 1m-43 -132l-1 1m65 157l0 0" stroke="#a3a9db" stroke-width="7.9"/>
<path d="M1559 1464l0 2m98 13l0 0m40 107l0 0m19 44l-1 0m-10 -143l-1 1m-114 118l0 1m34 -17l0 0m77 -97l0 1m-7 84l0 0m17 80l0 0m-33 -49l1 1m-49 -123l0 0m133 150l0 1m-93 -129l2 1m-51 83l-1 0m107 -66l0 0m11 115l0 0m-144 -77l1 1m171 84l0 1m-182 -90l-1 0m158 -108l-1 0m-42 46l-1 0m-91 118l1 1m115 -35l0 0m-97 -88l0 1m-39 1l1 1m-22 8l-2 0m172 47l0 2m-152 62l0 0m108 25l0 0m46 -118l0 0m-145 -49l1 1m-5 164l1 1m60 -91l0 1m49 -95l0 1m65 63l-1 1m-165 15l0 0m135 -17l-1 0m-12 57l1 1m27 -1l0 0m-77 -59l1 1m-88 -4l0 0m104 0l0 1m74 53l-1 1m-89 -89l-2 1m87 62l0 2m9 67l-1 0m-143 -31l0 0m143 6l-1 1m-87 -53l-1 0m-19 -19l-1 0m93 -46l0 0m-96 138l1 1m-65 -75l0 2m78 71l0 0m74 -28l0 2m16 11l0 1m-31 40l0 0m-70 -9l-1 1m99 4l-1 0m-149 15l0 1m18 -92l-1 1m-55 -64l1 1m165 -30l0 0m-44 13l-1 2m-15 34l-1 0m-33 31l0 2m42 -36l0 1m-76 28l0 0m17 -9l-1 0m-57 -14l0 0m53 48l-1 0m-38 86l-2 0m70 -137l0 0m-26 43l2 0m36 53l1 1m-31 39l0 1m138 -44l0 1m-83 -99l0 0m-44 -12l-1 1m94 88l2 0m-79 -119l0 0m35 136l-2 0m-100 -79l-1 2m87 -52l1 1m56 128l-2 1m-141 -136l-2 1m-3 43l0 0m175 105l1 0m-196 -44l0 0m85 23l0 0m54 49l0 2m57 -176l1 0m-48 126l0 1m-140 -70l0 2m36 -54l-1 1m147 67l-1 0m-75 -58l1 0m-75 38l1 0m94 30l0 0" stroke="#a3a9db" stroke-width="8.8"/>
<path d="M1597 1479l0 0m29 166l1 0m-65 -142l0 0m78 7l-1 1m-12 29l-1 1m92 43l0 0m-52 -44l-1 0m11 -16l2 0m18 -1l1 1m36 117l1 0m-68 -104l0 0m-52 114l0 1m35 -184l1 1m7 166l0 1m-45 -50l-1 0m104 -13l0 1m32 -116l-1 0m-141 60l2 0m-33 72l-1 0m131 12l0 0m-114 -77l-1 1m103 -27l1 0m-77 74l0 1m49 -4l0 1m94 -38l1 1m-31 -82l0 0m-127 138l-1 1m60 -132l2 0m37 64l0 1m-78 112l0 0m-1 -9l0 0m-37 -169l0 1m-8 191l0 1m-10 -153l0 1m58 65l1 0m89 20l0 1m-70 -33l0 0m65 51l1 1m-5 35l1 0m-122 -49l0 1m85 -39l0 1m59 63l2 0m-104 -157l1 1m129 93l-1 1m-94 8l0 0m76 -53l0 0m-116 34l0 1m-43 104l0 1m27 -177l0 0m134 23l0 0m-112 48l0 2m-8 62l-1 0m-22 -96l0 0m60 -13l-1 0m39 33l0 1m74 103l-1 1m-89 -82l0 1m-20 86l-1 1m31 -45l0 0m36 -84l-1 0m-130 126l1 0m-25 -182l-1 2m122 3l0 2m-51 28l0 1m-9 94l-1 0m98 22l1 0m-7 2l0 0m-31 31l0 0m-36 -83l1 0m-41 -66l1 2m10 -32l1 0m94 87l-1 1m-3 28l0 1m-30 -31l0 1m-127 -22l2 0m25 -35l1 1m128 56l0 0m-116 -15l-2 0m46 -18l0 0m90 41l0 0m-4 55l0 0m-130 -142l0 1m134 103l1 1m-69 57l0 0m85 -19l0 0m-169 31l0 0m75 -177l-1 0m-59 62l1 1m147 18l-1 1m-165 30l-1 1m167 -77l-2 0m-170 77l-2 1m111 32l2 1m-88 37l-1 0m161 -100l0 0m-64 -26l1 1m70 -5l1 0m-31 126l1 1m-61 -33l0 1m-7 -29l0 0m-30 70l0 0m20 -112l-1 1m75 -32l1 0m35 33l0 0m-146 -81l0 0m87 -5l0 0m-144 151l-1 2m120 -21l1 2m4 -114l-2 1m-82 12l1 1m122 109l0 1m-15 -2l2 1m-47 -80l-2 0m56 99l0 0m-121 -36l0 1m57 45l-2 0m104 -171l-1 1m-143 -14l-1 1m45 112l1 1m-61 -23l0 0" stroke="#b9bde5" stroke-width="3.5"/>
<path d="M1564 1503l0 0m189 118l-1 1m-127 0l0 1m-20 -20l1 1m39 -75l-1 0m115 -21l0 1m-194 147l1 0m150 -199l0 0m-106 156l0 1m68 -60l-1 1m53 -40l0 2m-101 -3l0 1m-69 -49l1 0m82 176l1 0m74 9l-1 0m-70 -4l1 1m105 -106l0 0m-124 -9l0 0m69 49l1 2m-19 44l0 0m62 -99l1 0m-98 6l-1 1m39 56l0 1m-85 -85l-1 2m3 -11l0 0m90 6l0 0m-70 82l0 1m60 -54l-1 1m12 30l-1 1m-90 78l1 0m79 -47l1 1m-74 26l0 1m18 -98l-1 2m57 -73l-1 0m-16 202l0 1m16 -11l0 1m-85 -116l0 0m75 -47l0 2m51 115l-1 1m-78 -116l1 1m-80 147l0 2m117 -19l0 2m-13 30l1 1m-78 -108l0 0m61 96l0 0m32 -159l0 0m37 152l0 1m-5 -4l-1 0m-38 -4l-2 1m-53 -108l2 1m27 123l0 0m-33 -178l0 0m23 135l0 1m11 12l-1 0m107 -137l0 1m-37 181l-1 2m-52 -29l1 0m31 -56l0 1m-78 -77l1 1m92 122l1 0m11 -85l1 1m34 112l-1 2m-114 -195l0 0m10 52l0 2m-89 122l2 1m85 6l0 2m-55 -73l0 0m58 -61l0 1m-41 145l-2 0m65 -148l-1 1m0 151l-1 1m-31 -7l1 0m110 -42l1 0m-23 -77l0 0m-127 8l0 0m149 -69l0 1m-57 92l0 0m-11 22l0 1m4 31l0 2m23 -93l0 0m-133 72l0 0m40 -20l0 0m14 73l-1 1m104 -183l1 0m-159 20l1 1m131 143l-1 2m-34 -171l1 1m58 104l1 1m-37 -117l-2 0m19 75l-1 1m-1 -33l0 0m-114 155l0 1m12 -79l2 0m46 68l0 0m-74 -11l-1 0m41 -81l0 0m-15 -88l0 0m72 35l0 0m-67 -36l0 0m-37 12l0 2m57 156l0 0m66 -71l1 0m31 -20l1 1m-177 -16l0 0m165 40l0 2m-66 -115l0 0m84 157l-1 1m-32 -27l1 1m-97 -43l1 1m98 61l-1 1m-78 -49l0 0m-53 -81l0 1m140 88l1 1m-45 -35l-1 1m41 39l2 1m-14 -90l0 0m-146 45l1 1m94 85l2 1m-43 -132l-1 1m65 157l0 0" stroke="#b9bde5" stroke-width="3.9"/>
<path d="M1559 1464l0 2m98 13l0 0m40 107l0 0m19 44l-1 0m-10 -143l-1 1m-114 118l0 1m34 -17l0 0m77 -97l0 1m-7 84l0 0m17 80l0 0m-33 -49l1 1m-49 -123l0 0m133 150l0 1m-93 -129l2 1m-51 83l-1 0m107 -66l0 0m11 115l0 0m-144 -77l1 1m171 84l0 1m-182 -90l-1 0m158 -108l-1 0m-42 46l-1 0m-91 118l1 1m115 -35l0 0m-97 -88l0 1m-39 1l1 1m-22 8l-2 0m172 47l0 2m-152 62l0 0m108 25l0 0m46 -118l0 0m-145 -49l1 1m-5 164l1 1m60 -91l0 1m49 -95l0 1m65 63l-1 1m-165 15l0 0m135 -17l-1 0m-12 57l1 1m27 -1l0 0m-77 -59l1 1m-88 -4l0 0m104 0l0 1m74 53l-1 1m-89 -89l-2 1m87 62l0 2m9 67l-1 0m-143 -31l0 0m143 6l-1 1m-87 -53l-1 0m-19 -19l-1 0m93 -46l0 0m-96 138l1 1m-65 -75l0 2m78 71l0 0m74 -28l0 2m16 11l0 1m-31 40l0 0m-70 -9l-1 1m99 4l-1 0m-149 15l0 1m18 -92l-1 1m-55 -64l1 1m165 -30l0 0m-44 13l-1 2m-15 34l-1 0m-33 31l0 2m42 -36l0 1m-76 28l0 0m17 -9l-1 0m-57 -14l0 0m53 48l-1 0m-38 86l-2 0m70 -137l0 0m-26 43l2 0m36 53l1 1m-31 39l0 1m138 -44l0 1m-83 -99l0 0m-44 -12l-1 1m94 88l2 0m-79 -119l0 0m35 136l-2 0m-100 -79l-1 2m87 -52l1 1m56 128l-2 1m-141 -136l-2 1m-3 43l0 0m175 105l1 0m-196 -44l0 0m85 23l0 0m54 49l0 2m57 -176l1 0m-48 126l0 1m-140 -70l0 2m36 -54l-1 1m147 67l-1 0m-75 -58l1 0m-75 38l1 0m94 30l0 0" stroke="#b9bde5" stroke-width="4.4"/>
<path d="M1610 1539l1 2m125 -34l2 2m-13 34l0 2m-91 20l0 1m-39 83l1 1m102 2l0 0m-92 -62l2 1m57 15l0 0m19 40l0 1m-1 -93l1 1m53 -5l1 0" stroke="#7b82c4" stroke-width="3.1"/>
<path d="M1560 1485l0 1m159 150l0 1m34 -42l2 0m-95 23l2 1m26 -117l0 0m-47 -18l0 2m-73 20l-2 1m156 146l-2 0m-29 -198l-1 0m-27 0l0 1m82 92l-1 0m-151 -83l-1 2m89 155l-2 2m-4 5l0 1m-93 -9l-1 1m106 -62l2 1m-75 14l0 0m-43 -33l0 1m179 -54l0 2" stroke="#7b82c4" stroke-width="3.6"/>
<path d="M1688 1632l3 1m62 -33l-1 1m-3 10l-2 0m9 -35l-1 0m-17 -53l1 1m-34 127l1 0m-69 -48l0 0m11 -70l2 2m44 25l1 1m-70 -77l0 0m87 68l1 0m-112 -48l0 2m2 -50l2 0m162 63l-1 1m-2 -41l-2 1m-195 156l0 1m44 -142l0 2m-30 98l0 1m16 -10l0 1m90 -111l-1 1" stroke="#7b82c4" stroke-width="4.1"/>
</g></g>
<rect x="1562.5" y="1454" width="201.3" height="201.3" fill="none" stroke="#111" stroke-width="2.2"/>
<rect x="1714" y="1634.7" width="38.4" height="4.6" fill="#000" stroke="none" stroke-width="0"/>
</svg>
</body></html>
